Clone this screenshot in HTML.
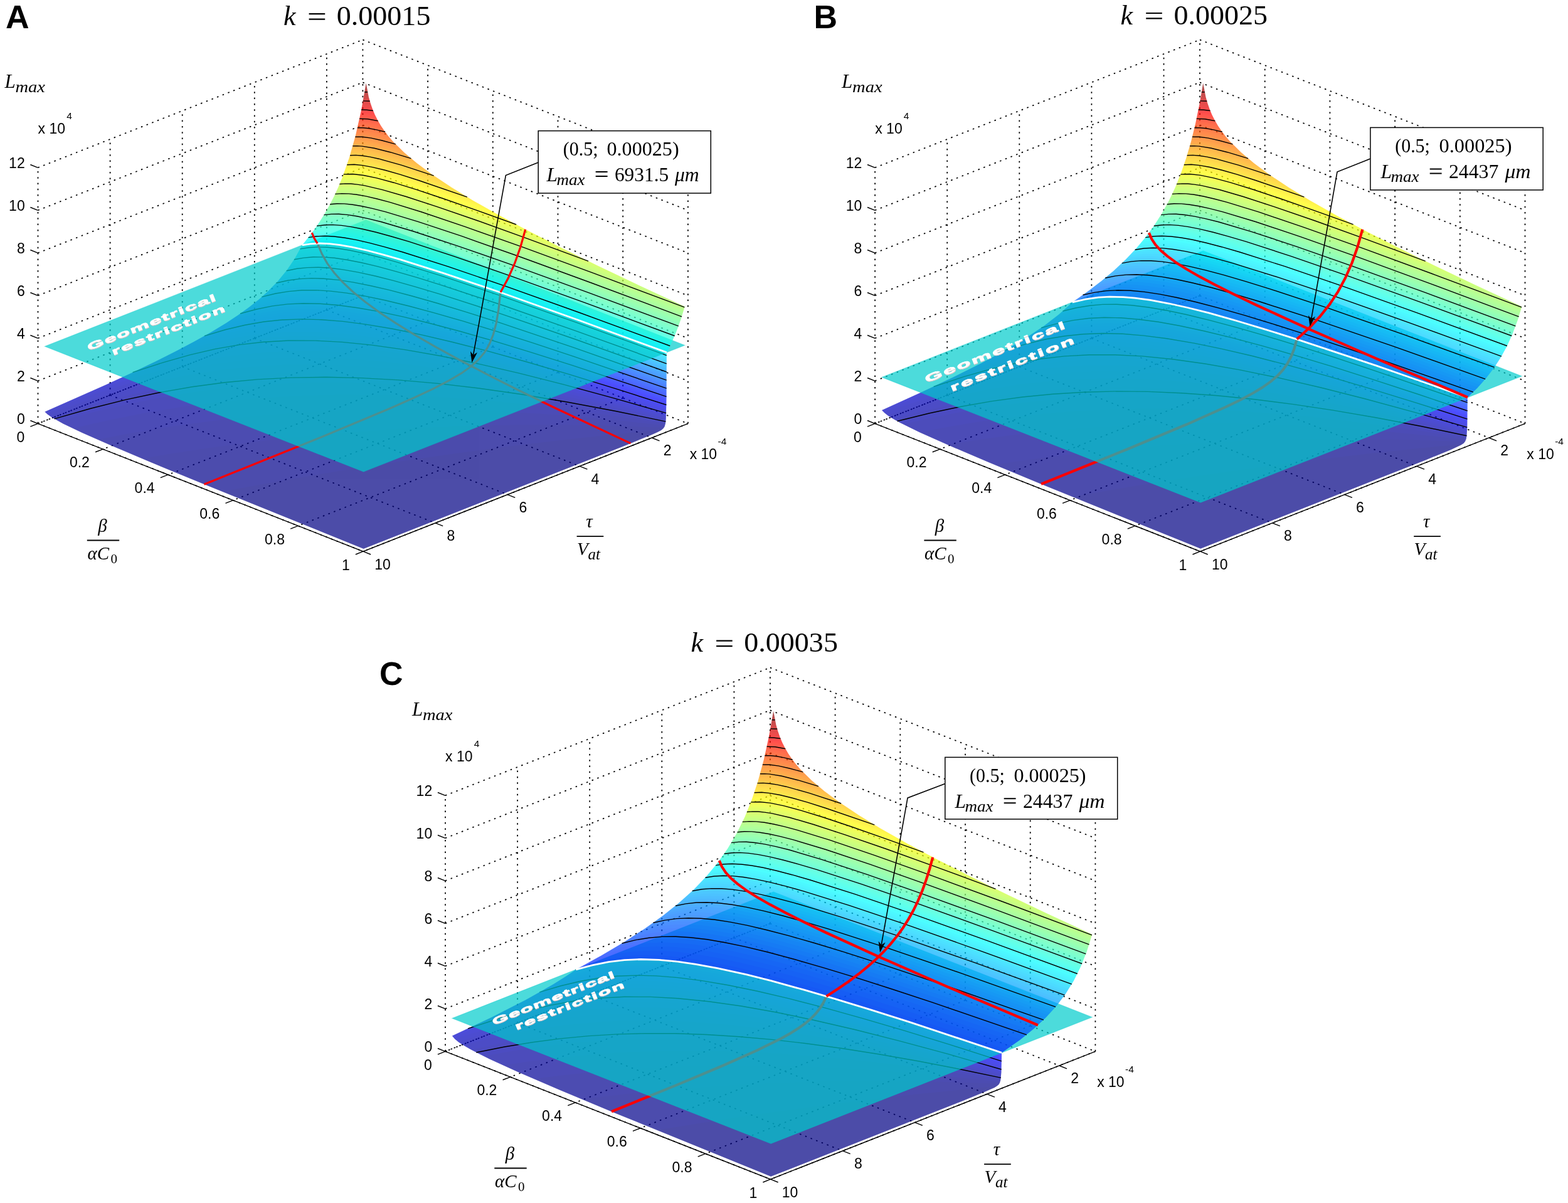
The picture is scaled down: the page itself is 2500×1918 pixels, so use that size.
<!DOCTYPE html>
<html><head><meta charset="utf-8"><style>html,body{margin:0;padding:0;background:#fff}svg{display:block}</style></head><body>
<svg width="2500" height="1918" viewBox="0 0 2500 1918">
<rect width="2500" height="1918" fill="#fff"/>
<g transform="translate(0.0 0.0)">
<path d="M60.5 675.3L578.4 471.4M578.4 471.4L1096.9 675.3M60.5 607.3L578.4 403.4M578.4 403.4L1096.9 607.3M60.5 539.3L578.4 335.4M578.4 335.4L1096.9 539.3M60.5 471.3L578.4 267.4M578.4 267.4L1096.9 471.3M60.5 403.3L578.4 199.4M578.4 199.4L1096.9 403.3M60.5 335.3L578.4 131.4M578.4 131.4L1096.9 335.3M60.5 267.3L578.4 63.4M578.4 63.4L1096.9 267.3M520.9 494.1L520.9 86.1M520.9 494.1L1039.4 698.0M405.8 539.4L405.8 131.4M405.8 539.4L924.3 743.3M290.7 584.7L290.7 176.7M290.7 584.7L809.2 788.6M175.6 630.0L175.6 222.0M175.6 630.0L694.1 833.9M60.5 675.3L60.5 267.3M60.5 675.3L579.0 879.2M578.4 471.4L578.4 63.4M578.4 471.4L60.5 675.3M682.1 512.2L682.1 104.2M682.1 512.2L164.2 716.1M785.8 553.0L785.8 145.0M785.8 553.0L267.9 756.9M889.5 593.8L889.5 185.8M889.5 593.8L371.6 797.6M993.2 634.6L993.2 226.6M993.2 634.6L475.3 838.4M1096.9 675.3L1096.9 267.3M1096.9 675.3L579.0 879.2" fill="none" stroke="#000" stroke-width="1.75" stroke-dasharray="2.5 6.8"/>
<clipPath id="cbA"><path d="M1061.8 561.5l1.1 .4 -.3 72.4 -.8 34 -.8 7 -1.3 4.6 -2 3.1 -3.5 2.9 -5.7 3.1 -9.5 4.3 -41.7 16.9 -417.7 164.7 -251.3 -101.6 -86.8 -35.7 -65 -27.5 -45 -19.8 -31 -14.8 -18.9 -10.7 -6 -4.3 -4.2 -4.1 98.4 -43.5 41.2 -19 37 -17.7 32.8 -16.4 29.8 -15.7 26 -14.7 23.6 -14.2 19.2 -12.7 17.4 -12.5 15.9 -12.6 13.9 -12.4 16.4 -16.7 14.5 -17.7 12.2 -18.1 11.9 -21.6 13.1 -2 14.4 -.8 16 .6 14.9 1.6 17.8 3 12.3 2.6 28.4 6.9 50.2 14.3 71.1 22.6 90.6 30.9 112.2 40 138.1 50.6z"/></clipPath>
<g opacity="0.70" clip-path="url(#cbA)">
<path d="M584.8 125.4l4.2 22.4 6.1 19.6 8.2 17.9 10.9 17.4 14 17.4 17.2 17.3 20.8 17.7 24.7 18.4 30.3 20.3 35.7 21.8 40.7 23.2 46.5 25 53.3 27.3 59.1 29.1 66.2 31.7 74.1 34.5 -6.3 21.5 -7.1 20 -7.8 18.3 -8.7 17.1 -.4 110.4 -.8 8.7 -.9 2.2 -1.6 1.6 -8.7 4.4 -29.7 12 -444.8 175.2 -258.5 -104.4 -88.5 -36.6 -65.2 -27.5 -44.8 -19.9 -29.5 -14.3 -17.7 -10.4 -5.4 -4.3 -3.7 -4.1 77.3 -34.2 65.9 -30.4 55.3 -27.1 46.2 -24.5 37.9 -22.3 32.9 -21.9 14.4 -10.8 13.3 -10.9 11.7 -10.5 11 -11 11.2 -12.4 10.3 -13.1 11.3 -16.9 10.2 -18.1 15.4 -18.7 14.2 -19.9 16 -26.6 14.2 -28.6 7.8 -18.6 7.1 -19.4 6.6 -20.6 6.3 -22.2 5.7 -23.4 5.2 -24.7 9.4 -54.6z" fill="#000083"/>
<path d="M584.8 125.4l4.2 22.4 6.1 19.6 8.2 17.9 10.9 17.4 14 17.4 17.2 17.3 20.8 17.7 24.7 18.4 30.3 20.3 35.7 21.8 40.7 23.2 46.5 25 53.3 27.3 59.1 29.1 66.2 31.7 74.1 34.5 -6.3 21.5 -7.1 20 -7.8 18.3 -8.7 17.1 -.3 104.1 -.4 12.2 -1.4 5 -88.6 8.5 -89 9.6 -89.5 10.9 -88.9 11.9 -89.8 13.1 -89.3 14.2 -90 15.4 -90.1 16.6 -128.9 -53.1 -82.5 -35.4 -26.8 -12.3 -19.8 -9.9 -13.4 -7.8 -8.4 -6.4 -3.1 -3.6 82.5 -36.5 68.8 -31.9 57.4 -28.6 47.2 -25.6 34.9 -21.1 29.8 -20.5 25.4 -20.3 10.5 -9.7 10.6 -10.6 11 -12.4 10.3 -13.2 11.3 -17 9.2 -16.7 15.8 -19.2 14 -19.7 16.1 -26.8 14.1 -28.7 7.7 -18.4 7.1 -19.4 6.7 -20.6 6.1 -21.9 5.7 -23.3 5.2 -24.7 9.4 -54.6z" fill="#00008a"/>
<path d="M584.8 125.4l4.2 22.4 6.1 19.6 8.2 17.9 10.9 17.4 14 17.4 17.2 17.3 20.8 17.7 24.7 18.4 30.3 20.3 35.7 21.8 40.7 23.2 46.5 25 53.3 27.3 59.1 29.1 66.2 31.7 74.1 34.5 -6.3 21.5 -7.1 20 -7.8 18.3 -8.7 17.1 -.2 100.1 -.9 18.4 -111.9 -3.7 -109 -.8 -53.4 .6 -52.6 1.3 -52.4 2 -53.2 2.8 -52.1 3.5 -51.1 4.1 -53 5 -51 5.6 -50.3 6.2 -51.7 7.2 -51.7 7.9 -51 8.5 -65.8 -28 -44.2 -20 -27.1 -14 -8.6 -5.4 -5.9 -4.7 -3.1 -3.6 82.5 -36.5 68.8 -31.9 57.4 -28.6 47.2 -25.6 34.9 -21.1 29.8 -20.5 25.4 -20.3 10.5 -9.7 10.6 -10.6 11 -12.4 10.3 -13.2 11.3 -17 9.2 -16.7 15.8 -19.2 14 -19.7 16.1 -26.8 14.1 -28.7 7.7 -18.4 7.1 -19.4 6.7 -20.6 6.1 -21.9 5.7 -23.3 5.2 -24.7 9.4 -54.6z" fill="#000091"/>
<path d="M584.8 125.4l4.2 22.4 6.1 19.6 8.2 17.9 10.9 17.4 14 17.4 17.2 17.3 20.8 17.7 24.7 18.4 30.3 20.3 35.7 21.8 40.7 23.2 46.5 25 53.3 27.3 59.1 29.1 66.2 31.7 74.1 34.5 -6.3 21.5 -7.1 20 -7.8 18.3 -8.7 17.1 -.2 100.1 -.5 15.9 -65.9 -7.5 -64 -6.2 -62 -5 -61 -3.9 -59 -2.6 -58 -1.5 -57 -.4 -55.5 .8 -54.8 1.9 -55.6 3.1 -53.6 4.2 -53.8 5.5 -53.7 6.7 -53 7.7 -54.4 9.2 -54.4 10.5 -32.4 -14.7 -23.2 -11.3 -15.6 -8.7 -9.5 -7.2 -3.1 -3.6 82.5 -36.5 68.8 -31.9 57.4 -28.6 47.2 -25.6 34.9 -21.1 29.8 -20.5 25.4 -20.3 10.5 -9.7 10.6 -10.6 11 -12.4 10.3 -13.2 11.3 -17 9.2 -16.7 15.8 -19.2 14 -19.7 16.1 -26.8 14.1 -28.7 7.7 -18.4 7.1 -19.4 6.7 -20.6 6.1 -21.9 5.7 -23.3 5.2 -24.7 9.4 -54.6z" fill="#000098"/>
<path d="M584.8 125.4l4.2 22.4 6.1 19.6 8.2 17.9 10.9 17.4 14 17.4 17.2 17.3 20.8 17.7 24.7 18.4 30.3 20.3 35.7 21.8 40.7 23.2 46.5 25 53.3 27.3 59.1 29.1 66.2 31.7 74.1 34.5 -6.3 21.5 -7.1 20 -7.8 18.3 -8.7 17.1 -.5 113.5 -64.6 -10.4 -62.1 -9.1 -61.3 -8 -58.1 -6.5 -56.1 -5.2 -56.2 -4.1 -53.5 -2.7 -53.1 -1.6 -64.6 -.1 -61.9 1.9 -60.8 3.7 -60.3 5.8 -59.6 7.6 -59.6 9.7 -60.6 11.9 -62.7 14.3 -27 -14 -8.6 -5.4 -5.9 -4.7 -3.1 -3.6 82.5 -36.5 68.8 -31.9 57.4 -28.6 47.2 -25.6 34.9 -21.1 29.8 -20.5 25.4 -20.3 10.5 -9.7 10.6 -10.6 11 -12.4 10.3 -13.2 11.3 -17 9.2 -16.7 15.8 -19.2 14 -19.7 16.1 -26.8 14.1 -28.7 7.7 -18.4 7.1 -19.4 6.7 -20.6 6.1 -21.9 5.7 -23.3 5.2 -24.7 9.4 -54.6z" fill="#00009f"/>
<path d="M584.8 125.4l4.2 22.4 6.1 19.6 8.2 17.9 10.9 17.4 14 17.4 17.2 17.3 20.8 17.7 24.7 18.4 30.3 20.3 35.7 21.8 40.7 23.2 46.5 25 53.3 27.3 59.1 29.1 66.2 31.7 74.1 34.5 -6.3 21.5 -7.1 20 -7.8 18.3 -8.7 17.1 -.4 111.1 -74.7 -14.5 -72 -12.8 -69 -10.9 -65.5 -8.9 -60.7 -6.8 -60.5 -5.3 -58.1 -3.5 -55.6 -1.7 -59.1 .2 -57.9 2.3 -56.5 4.4 -55.7 6.5 -55.5 8.7 -56.7 11.1 -57.8 13.4 -61.6 16.4 -12 -7.1 -7.8 -6 -3.1 -3.6 82.5 -36.5 68.8 -31.9 57.4 -28.6 47.2 -25.6 34.9 -21.1 29.8 -20.5 25.4 -20.3 10.5 -9.7 10.6 -10.6 11 -12.4 10.3 -13.2 11.3 -17 9.2 -16.7 15.8 -19.2 14 -19.7 16.1 -26.8 14.1 -28.7 7.7 -18.4 7.1 -19.4 6.7 -20.6 6.1 -21.9 5.7 -23.3 5.2 -24.7 9.4 -54.6z" fill="#0000a7"/>
<path d="M584.8 125.4l4.2 22.4 6.1 19.6 8.2 17.9 10.9 17.4 14 17.4 17.2 17.3 20.8 17.7 24.7 18.4 30.3 20.3 35.7 21.8 40.7 23.2 46.5 25 53.3 27.3 59.1 29.1 66.2 31.7 74.1 34.5 -6.3 21.5 -7.1 20 -7.8 18.3 -8.7 17.1 -.4 108.7 -82 -18 -77 -15.5 -73.3 -13.2 -69 -10.7 -64.3 -8.3 -63.3 -6.3 -59.3 -4 -55.8 -1.7 -51.4 .3 -49.6 2.1 -48.7 4.1 -48.2 6 -57.5 9.8 -60.2 13 -62.3 16.3 -67 20.1 -7.8 -6.1 -3.1 -3.6 82.5 -36.5 68.8 -31.9 57.4 -28.6 47.2 -25.6 34.9 -21.1 29.8 -20.5 25.4 -20.3 10.5 -9.7 10.6 -10.6 11 -12.4 10.3 -13.2 11.3 -17 9.2 -16.7 15.8 -19.2 14 -19.7 16.1 -26.8 14.1 -28.7 7.7 -18.4 7.1 -19.4 6.7 -20.6 6.1 -21.9 5.7 -23.3 5.2 -24.7 9.4 -54.6z" fill="#0000ae"/>
<path d="M584.8 125.4l4.2 22.4 6.1 19.6 8.2 17.9 10.9 17.4 14 17.4 17.2 17.3 20.8 17.7 24.7 18.4 30.3 20.3 35.7 21.8 40.7 23.2 46.5 25 53.3 27.3 59.1 29.1 66.2 31.7 74.1 34.5 -6.3 21.5 -7.1 20 -7.8 18.3 -8.7 17.1 -.3 106.3 -88.4 -21.1 -82.2 -18 -75.6 -14.9 -70.7 -12.1 -68 -9.7 -61.6 -6.7 -59.1 -4.3 -56.4 -1.8 -52.9 .7 -50.4 3 -49.9 5.3 -49.9 7.9 -48.5 9.9 -49.8 12.3 -62.4 18.1 -69.8 22.8 -1.2 -1.1 -3.1 -3.6 82.5 -36.5 68.8 -31.9 57.4 -28.6 47.2 -25.6 34.9 -21.1 29.8 -20.5 25.4 -20.3 10.5 -9.7 10.6 -10.6 11 -12.4 10.3 -13.2 11.3 -17 9.2 -16.7 15.8 -19.2 14 -19.7 16.1 -26.8 14.1 -28.7 7.7 -18.4 7.1 -19.4 6.7 -20.6 6.1 -21.9 5.7 -23.3 5.2 -24.7 9.4 -54.6z" fill="#0000b5"/>
<path d="M584.8 125.4l4.2 22.4 6.1 19.6 8.2 17.9 10.9 17.4 14 17.4 17.2 17.3 20.8 17.7 24.7 18.4 30.3 20.3 35.7 21.8 40.7 23.2 46.5 25 53.3 27.3 59.1 29.1 66.2 31.7 74.1 34.5 -6.3 21.5 -7.1 20 -7.8 18.3 -8.7 17.1 -.3 103.9 -91.2 -23.2 -83.7 -19.6 -78.5 -16.7 -71.4 -13.3 -67.1 -10.4 -62.3 -7.6 -59.4 -4.8 -56.3 -1.9 -51.4 .7 -49.1 3.4 -48.6 5.9 -49.3 8.7 -50.2 11.5 -53.3 14.7 -59.8 19 -67.6 23.6 -.7 -.9 85.3 -37.8 70.1 -32.6 49.2 -24.4 42.3 -22.6 37.8 -22.4 31.8 -21.3 14.4 -10.9 12.5 -10.2 11.5 -10.4 11 -11 11.2 -12.4 10.3 -13.1 11.3 -16.9 10.2 -18.1 15.4 -18.7 14.2 -19.9 16 -26.6 14.2 -28.6 7.8 -18.6 7.1 -19.4 6.6 -20.6 6.3 -22.2 5.7 -23.4 5.2 -24.7 9.4 -54.6z" fill="#0000bc"/>
<path d="M584.8 125.4l4.2 22.4 6.1 19.6 8.2 17.9 10.9 17.4 14 17.4 17.2 17.3 20.8 17.7 24.7 18.4 30.3 20.3 35.7 21.8 40.7 23.2 46.5 25 53.3 27.3 59.1 29.1 66.2 31.7 74.1 34.5 -6.3 21.5 -7.1 20 -7.8 18.3 -8.7 17.1 -.3 101.5 -90.8 -24.2 -83.4 -20.8 -76 -17.3 -71.9 -14.5 -65.8 -11.3 -60.2 -8.3 -57.3 -5.6 -52.1 -2.7 -48.8 -.1 -46.1 2.4 -46.1 5 -46.1 7.7 -46.3 10.3 -49.7 13.6 -55 17.3 -64.4 22.5 69.3 -31.2 58.5 -27.7 49.2 -24.8 42.1 -23.1 34.9 -21.4 30.2 -21.1 12.9 -10.1 12.4 -10.6 11.2 -10.7 10 -10.4 9.1 -10.6 8.7 -11.3 11.3 -16.9 9.2 -16.7 16.4 -20.1 14.7 -20.9 15.8 -26.6 13.9 -28.5 7.6 -18.3 7 -19.3 6.5 -20.4 6.1 -22 5.5 -22.9 5.1 -24.1 9.3 -54.2z" fill="#0000c3"/>
<path d="M584.8 125.4l4.2 22.4 6.1 19.6 8.2 17.9 10.9 17.4 14 17.4 17.2 17.3 20.8 17.7 24.7 18.4 30.3 20.3 35.7 21.8 40.7 23.2 46.5 25 53.3 27.3 59.1 29.1 66.2 31.7 74.1 34.5 -6.3 21.5 -7.1 20 -7.8 18.3 -8.7 17.1 -.2 99.1 -89.3 -24.8 -82.1 -21.4 -74.5 -17.9 -69.6 -15.1 -63.7 -12 -58.4 -9.1 -54.7 -6.5 -51.1 -3.7 -45.9 -1 -43.7 1.4 -43.1 3.8 -42.8 6.4 -43.4 9.1 -45.4 11.9 -50.2 15.5 -57.5 19.8 59.5 -27.5 51.3 -25.1 43.1 -22.7 37 -21.3 30.8 -19.9 26.6 -19.6 22.6 -19.6 10.3 -10.2 9.4 -10.4 10 -12.4 8.3 -11.6 8.2 -13.1 7.2 -13.2 17.4 -21.4 15.3 -21.9 15.5 -26.7 13.7 -28.5 7.4 -18.3 6.7 -18.8 6.4 -20.3 5.9 -21.4 5.5 -23 5.2 -24.8 8.9 -52.2z" fill="#0000ca"/>
<path d="M584.8 125.4l4.2 22.4 6.1 19.6 8.2 17.9 10.9 17.4 14 17.4 17.2 17.3 20.8 17.7 24.7 18.4 30.3 20.3 35.7 21.8 40.7 23.2 46.5 25 53.3 27.3 59.1 29.1 66.2 31.7 74.1 34.5 -6.3 21.5 -7.1 20 -7.8 18.3 -8.7 17.1 -.2 96.8 -87.9 -25.3 -81 -21.9 -74.1 -18.7 -68.8 -15.7 -62.2 -12.6 -55.8 -9.6 -52.7 -7 -48.3 -4.4 -43.5 -1.8 -42.5 .5 -40.9 2.9 -40 5.3 -39.9 7.8 -42 10.5 -46 13.9 -53.2 18.1 51.6 -24.7 45.2 -22.9 38.1 -20.9 32.8 -19.8 27.9 -18.9 24.3 -18.9 21.2 -19.6 17.8 -19.8 8.3 -10.7 7.3 -10.8 13.2 -22.9 18.3 -22.6 15.9 -23.1 15.2 -26.5 13.5 -28.7 7.1 -17.9 6.7 -18.8 6.2 -20.1 5.7 -20.9 10.4 -46.5 8.9 -52.2z" fill="#0000d1"/>
<path d="M584.8 125.4l4.2 22.4 6.1 19.6 8.2 17.9 10.9 17.4 14 17.4 17.2 17.3 20.8 17.7 24.7 18.4 30.3 20.3 35.7 21.8 40.7 23.2 46.5 25 53.3 27.3 59.1 29.1 66.2 31.7 74.1 34.5 -6.3 21.5 -7.1 20 -7.8 18.3 -8.7 17.1 -.2 94.4 -86.7 -25.6 -79.2 -22.1 -72.4 -19 -67.5 -16.3 -60.8 -13.1 -55.2 -10.2 -52.3 -7.8 -47.2 -5 -42 -2.5 -41 -.2 -38.3 2.2 -37.6 4.4 -37.1 6.8 -39.2 9.4 -42.6 12.5 -49.3 16.5 45.8 -22.6 40 -21 33.9 -19.4 29.8 -18.8 25.7 -18.4 21.8 -18 19.2 -18.8 16.3 -19.2 13.5 -19.3 11.3 -20 19.1 -23.7 16.5 -24.3 15 -26.5 13.1 -28.3 7 -17.8 6.6 -18.8 6 -19.6 5.7 -21.2 10 -44.9 8.9 -52.2z" fill="#0000d8"/>
<path d="M584.8 125.4l4.2 22.4 6.1 19.6 8.2 17.9 10.9 17.4 14 17.4 17.2 17.3 20.8 17.7 24.7 18.4 30.3 20.3 35.7 21.8 40.7 23.2 46.5 25 53.3 27.3 59.1 29.1 66.2 31.7 74.1 34.5 -6.3 21.5 -7.1 20 -7.8 18.3 -8.7 17.1 -.2 92 -85.4 -25.7 -78.7 -22.7 -71.9 -19.4 -65.5 -16.4 -59.5 -13.5 -54.9 -10.9 -51.3 -8.3 -44.7 -5.4 -41.5 -3.1 -38.7 -.8 -36.9 1.4 -35.8 3.7 -35.5 6 -36.7 8.5 -39.8 11.3 -45.8 15.1 40.6 -20.6 35.9 -19.6 30.8 -18.4 26.7 -17.7 22.6 -16.9 20.5 -17.8 17.4 -17.9 15.4 -18.9 11.4 -17 10.2 -18.1 19.5 -24.2 16.9 -25 14.8 -26.6 13.1 -28.5 6.9 -17.7 6.5 -18.8 6 -19.6 5.6 -20.8 10.1 -45.8 8.5 -50.3z" fill="#0000e0"/>
<path d="M584.8 125.4l4.2 22.4 6.1 19.6 8.2 17.9 10.9 17.4 14 17.4 17.2 17.3 20.8 17.7 24.7 18.4 30.3 20.3 35.7 21.8 40.7 23.2 46.5 25 53.3 27.3 59.1 29.1 66.2 31.7 74.1 34.5 -6.3 21.5 -7.1 20 -7.8 18.3 -8.7 17.1 -.2 89.6 -85.3 -26.2 -78.1 -23 -71.6 -19.9 -65.2 -16.8 -60 -14.1 -52.9 -10.9 -48.9 -8.5 -45.1 -6 -39.8 -3.4 -36.7 -1.2 -35.4 .9 -33.7 3.1 -33.7 5.3 -34.2 7.6 -37.2 10.4 -42.7 13.9 36.9 -19.5 31.9 -18.1 27.7 -17.2 24.6 -17.2 20.5 -16.1 18.8 -17.1 16.1 -17.4 14.4 -18.5 9.3 -14.3 9.2 -16.5 19.5 -24.2 17.4 -25.9 15 -27 13.1 -28.7 6.7 -17.6 6.3 -18.3 11.4 -40 10 -45.3 8.5 -50.3z" fill="#0000e7"/>
<path d="M584.8 125.4l4.2 22.4 6.1 19.6 8.2 17.9 10.9 17.4 14 17.4 17.2 17.3 20.8 17.7 24.7 18.4 30.3 20.3 35.7 21.8 40.7 23.2 46.5 25 53.3 27.3 59.1 29.1 66.2 31.7 74.1 34.5 -6.3 21.5 -7.1 20 -7.8 18.3 -8.7 17.1 -.2 87.2 -84.5 -26.4 -76.5 -22.9 -70.9 -20.2 -63.7 -17 -59.1 -14.4 -51 -11.1 -49.9 -9.3 -43 -6.3 -38.8 -3.9 -36.7 -1.8 -34.6 .4 -32.6 2.5 -31.8 4.6 -33.1 7 -35.2 9.6 -39.9 12.9 41.4 -22.8 35.3 -21.7 30.1 -21.2 24.9 -20.6 17.9 -17.7 15.8 -18.7 13.5 -19.3 11.3 -20 14.4 -17.4 13.3 -18.4 14.4 -23 12.7 -24.1 11.5 -26.2 10.2 -28.1 9.3 -30.6 8.1 -33.1 7.3 -35.9 6.7 -40.5z" fill="#0000ee"/>
<path d="M584.8 125.4l4.2 22.4 6.1 19.6 8.2 17.9 10.9 17.4 14 17.4 17.2 17.3 20.8 17.7 24.7 18.4 30.3 20.3 35.7 21.8 40.7 23.2 46.5 25 53.3 27.3 59.1 29.1 66.2 31.7 74.1 34.5 -6.3 21.5 -7.1 20 -7.8 18.3 -8.7 17.1 -.2 84.8 -84.2 -26.7 -77.4 -23.6 -69.5 -20.1 -63.6 -17.4 -57.3 -14.4 -51.7 -11.7 -47.6 -9.2 -42.9 -6.7 -37.3 -4.2 -35.6 -2.2 -33.1 0 -31.5 2 -31 4.2 -31.2 6.4 -33.2 8.8 -37.5 11.9 38 -21.7 31.8 -20.4 27.3 -20.1 23 -19.9 15.4 -15.7 14.4 -17.4 12.4 -18 11.2 -19.8 16.4 -20.1 14.7 -20.9 13.5 -22.3 12.2 -23.9 10.9 -25.6 9.9 -27.6 8.8 -29.8 7.9 -32.4 7.3 -36.1 6.3 -38.6z" fill="#0000f5"/>
<path d="M584.8 125.4l4.2 22.4 6.1 19.6 8.2 17.9 10.9 17.4 14 17.4 17.2 17.3 20.8 17.7 24.7 18.4 30.3 20.3 35.7 21.8 40.7 23.2 46.5 25 53.3 27.3 59.1 29.1 66.2 31.7 74.1 34.5 -6.3 21.5 -7.1 20 -7.8 18.3 -8.7 17.1 -.1 82.5 -83.5 -26.9 -76.9 -23.7 -69.6 -20.6 -62.9 -17.5 -58.4 -15.1 -49.6 -11.6 -45.1 -9.2 -44 -7.3 -36.8 -4.5 -33.5 -2.4 -32.3 -.4 -30.7 1.6 -29.2 3.6 -30.3 5.9 -31.3 8.1 -35.8 11.2 33.8 -20 29.4 -19.6 24.7 -18.9 21.8 -19.6 14.2 -15.1 13.2 -16.5 11.4 -17 10.2 -18.1 18.3 -22.6 15.9 -23.1 12.9 -22.1 11.7 -23.7 10.3 -24.9 9.5 -27.2 8.5 -29 7.6 -31.9 6.9 -34.5 6.3 -38.3z" fill="#0000fc"/>
<path d="M584.8 125.4l4.2 22.4 6.1 19.6 8.2 17.9 10.9 17.4 14 17.4 17.2 17.3 20.8 17.7 24.7 18.4 30.3 20.3 35.7 21.8 40.7 23.2 46.5 25 53.3 27.3 59.1 29.1 66.2 31.7 74.1 34.5 -6.3 21.5 -7.1 20 -7.8 18.3 -8.7 17.1 -.1 80.1 -83.6 -27.1 -75.7 -23.8 -68.3 -20.5 -62.5 -17.8 -55.9 -14.8 -51 -12.3 -46.1 -9.8 -41.6 -7.3 -37.2 -4.9 -33.6 -2.8 -30.7 -.7 -29.6 1.2 -28.5 3.3 -28.4 5.3 -30 7.5 -34 10.5 31.6 -19.5 26.2 -18.2 23 -18.4 19.5 -18.3 13.4 -14.7 11.3 -14.4 11.3 -17 9.2 -16.7 19.5 -24.2 17.4 -25.9 12.4 -21.9 11.1 -23.2 10 -24.7 9.1 -26.6 8.2 -28.6 7.4 -31.2 6.8 -34.4 6 -36.6z" fill="#0004ff"/>
<path d="M584.8 125.4l4.2 22.4 6.1 19.6 8.2 17.9 10.9 17.4 14 17.4 17.2 17.3 20.8 17.7 24.7 18.4 30.3 20.3 35.7 21.8 40.7 23.2 46.5 25 53.3 27.3 59.1 29.1 66.2 31.7 74.1 34.5 -6.3 21.5 -7.1 20 -7.8 18.3 -8.7 17.1 -.1 77.7 -83.2 -27.3 -75.4 -23.9 -68.3 -20.8 -61.8 -17.9 -56.7 -15.4 -49.8 -12.3 -46.2 -10 -40.1 -7.4 -35.5 -5 -33.2 -3.1 -29.8 -1 -28.4 .8 -27.7 2.9 -27.4 4.8 -29 7.1 -32.5 9.9 28.1 -18 24.6 -17.7 20.8 -17.2 18.5 -18 11.5 -13.1 10.8 -13.9 10.3 -15.6 9.2 -16.7 10.6 -12.6 10.2 -13.4 9.6 -13.8 8.9 -14.2 11.8 -21.5 10.8 -23 9.7 -24.4 8.7 -26.1 8 -28.3 7.1 -30.5 6.5 -32.9 6 -36.6z" fill="#000bff"/>
<path d="M584.8 125.4l4.2 22.4 6.1 19.6 8.2 17.9 10.9 17.4 14 17.4 17.2 17.3 20.8 17.7 24.7 18.4 30.3 20.3 35.7 21.8 40.7 23.2 46.5 25 53.3 27.3 59.1 29.1 66.2 31.7 74.1 34.5 -6.3 21.5 -7.1 20 -7.8 18.3 -8.7 17.1 -.1 75.3 -82.4 -27.2 -74.9 -24.1 -67.8 -20.9 -61.7 -18.2 -56 -15.4 -51.3 -13 -44 -9.9 -39.7 -7.6 -35.2 -5.3 -31.8 -3.3 -30.1 -1.3 -27.8 .6 -26.3 2.4 -26.7 4.5 -27.6 6.6 -31.1 9.4 25.7 -17.1 22.6 -16.9 19.5 -16.9 17.1 -17.3 10.3 -12 9.5 -12.7 9.3 -14.3 9.2 -16.5 11.4 -13.7 11 -14.6 9.5 -13.8 9.5 -15.6 11.5 -21.3 10.3 -22.5 9.3 -24 8.6 -26 7.8 -28.1 7 -30.4 6.4 -32.7 5.6 -34.6z" fill="#0012ff"/>
<path d="M584.8 125.4l4.2 22.4 6.1 19.6 8.2 17.9 10.9 17.4 14 17.4 17.2 17.3 20.8 17.7 24.7 18.4 30.3 20.3 35.7 21.8 40.7 23.2 46.5 25 53.3 27.3 59.1 29.1 66.2 31.7 74.1 34.5 -6.3 21.5 -7.1 20 -7.8 18.3 -8.7 17.1 -.1 72.9 -81.1 -27.1 -75.5 -24.4 -68.2 -21.3 -61.2 -18.2 -54.9 -15.5 -50.7 -13.1 -45 -10.4 -38.3 -7.5 -34.4 -5.5 -31.5 -3.5 -28.6 -1.6 -27.8 .3 -25.5 2.2 -26.1 4.2 -26.4 6.2 -29.6 8.7 24.3 -16.8 20.5 -16.1 18.5 -16.6 15.4 -16.3 10.1 -12.4 8.5 -11.7 8.1 -12.8 8.2 -14.8 13.3 -16.1 12.3 -16.7 9.3 -14.1 8.9 -15 10.9 -21 10 -22.2 9 -23.7 8.2 -25.3 7.4 -27.1 6.6 -28.8 6.4 -32.7 5.6 -34.6z" fill="#001aff"/>
<path d="M584.8 125.4l4.2 22.4 6.1 19.6 8.2 17.9 10.9 17.4 14 17.4 17.2 17.3 20.8 17.7 24.7 18.4 30.3 20.3 35.7 21.8 40.7 23.2 46.5 25 53.3 27.3 59.1 29.1 66.2 31.7 74.1 34.5 -6.3 21.5 -7.1 20 -7.8 18.3 -8.7 17.1 -.1 70.5 -156.2 -51.8 -67.6 -21.3 -60.4 -18.3 -54.8 -15.6 -49.3 -13 -44 -10.5 -39.4 -8.1 -34.5 -5.7 -30.7 -3.7 -28.6 -1.8 -26.7 .1 -25.3 1.9 -24.3 3.7 -25.8 5.9 -28.5 8.3 21.5 -15.4 19.2 -15.6 17 -15.8 14.7 -16 8.9 -11.1 8.4 -11.7 8 -12.9 7.2 -13.2 14.1 -17 12.6 -17.3 9.7 -14.9 9.4 -16.2 10.5 -20.7 9.6 -22 8.7 -23.3 7.9 -24.9 7.3 -26.9 6.5 -28.6 6 -30.9 5.6 -34.6z" fill="#0021ff"/>
<path d="M584.8 125.4l4.2 22.4 6.1 19.6 8.2 17.9 10.9 17.4 14 17.4 17.2 17.3 20.8 17.7 24.7 18.4 30.3 20.3 35.7 21.8 40.7 23.2 46.5 25 53.3 27.3 59.1 29.1 66.2 31.7 74.1 34.5 -6.3 21.5 -7.1 20 -7.8 18.3 -8.7 17.1 -.1 68.2 -156.4 -52.3 -67 -21.4 -60.5 -18.4 -54.7 -15.8 -49.2 -13.2 -42.9 -10.5 -38.8 -8.2 -33.5 -5.8 -30.8 -3.9 -27.6 -2 -26.2 -.1 -24.1 1.6 -24.4 3.5 -25 5.6 -27 7.8 19.9 -14.9 17.5 -14.7 15.4 -14.8 13.8 -15.6 8.7 -11.1 7.4 -10.6 7 -11.3 7.2 -13.2 14.4 -17.4 13.3 -18.4 10.3 -16 9.5 -16.7 10.1 -20.4 9.3 -21.8 8.5 -23 7.7 -24.8 7.1 -26.4 6.5 -28.8 5.9 -31.1 5.3 -32.5z" fill="#0028ff"/>
<path d="M584.8 125.4l4.2 22.4 6.1 19.6 8.2 17.9 10.9 17.4 14 17.4 17.2 17.3 20.8 17.7 24.7 18.4 30.3 20.3 35.7 21.8 40.7 23.2 46.5 25 53.3 27.3 59.1 29.1 66.2 31.7 74.1 34.5 -6.3 21.5 -7.1 20 -7.8 18.3 -8.7 17.1 -.1 65.8 -155.5 -52.4 -67 -21.5 -59.9 -18.5 -53.4 -15.6 -48.1 -13.2 -44.2 -11 -38.7 -8.4 -33.6 -6.1 -30.1 -4 -27.3 -2.2 -25.5 -.4 -23.7 1.4 -23.3 3.3 -24.1 5.1 -26.4 7.6 17.7 -13.8 16.5 -14.4 14.3 -14.3 13.1 -15 14.8 -20.6 13.2 -22.9 14.9 -18.1 13.9 -19.4 10.5 -16.5 9.8 -17.7 9.9 -20.3 9 -21.4 8.1 -22.6 7.6 -24.4 6.7 -25.5 6.3 -27.8 5.9 -31.1 5.3 -32.5z" fill="#002fff"/>
<path d="M584.8 125.4l4.2 22.4 6.1 19.6 8.2 17.9 10.9 17.4 14 17.4 17.2 17.3 20.8 17.7 24.7 18.4 30.3 20.3 35.7 21.8 40.7 23.2 46.5 25 53.3 27.3 59.1 29.1 66.2 31.7 74.1 34.5 -6.3 21.5 -7.1 20 -7.8 18.3 -8.7 17.1 -.1 63.4 -154.3 -52.2 -66.6 -21.7 -60.2 -18.7 -53.9 -16 -48 -13.3 -42.6 -10.8 -38.2 -8.6 -34.4 -6.4 -29.5 -4.2 -26.8 -2.3 -25 -.6 -23 1.2 -22.8 3 -23.3 4.9 -25.5 7.1 16.2 -13 15.4 -14 13.3 -13.7 12.1 -14.5 13.7 -19.3 12.2 -21.4 15.8 -19.2 14 -19.7 10.9 -17.6 10 -18.3 9.5 -19.9 8.7 -21 8 -22.7 7.3 -23.8 6.7 -25.8 6.2 -27.6 5.5 -29.2 5.3 -32.5z" fill="#0036ff"/>
<path d="M584.8 125.4l4.2 22.4 6.1 19.6 8.2 17.9 10.9 17.4 14 17.4 17.2 17.3 20.8 17.7 24.7 18.4 30.3 20.3 35.7 21.8 40.7 23.2 46.5 25 53.3 27.3 59.1 29.1 66.2 31.7 74.1 34.5 -6.3 21.5 -7.1 20 -7.8 18.3 -8.7 17.1 -.1 61 -154.2 -52.5 -67.4 -22 -59.6 -18.8 -53.3 -15.9 -47.1 -13.3 -41.9 -10.8 -40 -9.1 -31.8 -6.1 -30.3 -4.5 -26.4 -2.5 -23.9 -.7 -23 1.1 -22.1 2.7 -22.6 4.7 -24.4 6.7 15.2 -12.6 13.3 -12.6 12.4 -13 11.3 -13.7 13.3 -19.2 11.3 -20 15.8 -19.2 14.6 -20.6 11 -17.9 10.7 -19.9 9.2 -19.7 8.5 -20.8 7.8 -22.3 7.1 -23.6 6.6 -25.7 6.2 -27.7 5.5 -29.4 4.9 -30.5z" fill="#003dff"/>
<path d="M584.8 125.4l4.2 22.4 6.1 19.6 8.2 17.9 10.9 17.4 14 17.4 17.2 17.3 20.8 17.7 24.7 18.4 30.3 20.3 35.7 21.8 40.7 23.2 46.5 25 53.3 27.3 59.1 29.1 66.2 31.7 74.1 34.5 -6.3 21.5 -7.1 20 -7.8 18.3 -8.7 17.1 -.1 58.6 -152 -52 -126.3 -40.9 -53.2 -16.2 -48.2 -13.7 -42.7 -11.2 -37.2 -8.7 -32.7 -6.5 -30.4 -4.7 -26.4 -2.7 -23.5 -.8 -22.5 .8 -21.6 2.6 -21.9 4.3 -23.6 6.5 14.5 -12.7 12.3 -12 11.3 -12.5 10.3 -12.8 12.3 -18.2 10.3 -18.3 16.4 -20.1 14.7 -20.9 11.7 -19.1 10.6 -20 9 -19.6 8.2 -20.5 7.6 -22.2 7 -23.3 6.4 -25 5.9 -26.9 5.5 -29.2 4.9 -30.5z" fill="#0044ff"/>
<path d="M584.8 125.4l4.2 22.4 6.1 19.6 8.2 17.9 10.9 17.4 14 17.4 17.2 17.3 20.8 17.7 24.7 18.4 30.3 20.3 35.7 21.8 40.7 23.2 46.5 25 53.3 27.3 59.1 29.1 66.2 31.7 74.1 34.5 -6.3 21.5 -7.1 20 -7.8 18.3 -8.7 17.1 -.1 56.3 -152.9 -52.7 -125.6 -40.9 -52.6 -16.1 -47.7 -13.7 -42.2 -11.3 -37.7 -9 -32.6 -6.6 -28.3 -4.5 -26.8 -2.9 -23.2 -1 -21.6 .6 -21.2 2.3 -21.3 4.2 -23.2 6.2 12.3 -11.1 11.6 -11.6 10.4 -11.7 9.9 -12.6 11.3 -16.9 10.2 -18.1 16.6 -20.4 15.3 -21.7 11.9 -19.8 10.8 -20.7 8.7 -19.3 8 -20.4 7.4 -21.7 6.9 -23.3 6.4 -25.1 5.8 -26.9 5.2 -27.5 4.9 -30.5z" fill="#004bff"/>
<path d="M584.8 125.4l4.2 22.4 6.1 19.6 8.2 17.9 10.9 17.4 14 17.4 17.2 17.3 20.8 17.7 24.7 18.4 30.3 20.3 35.7 21.8 40.7 23.2 46.5 25 53.3 27.3 59.1 29.1 66.2 31.7 74.1 34.5 -6.3 21.5 -7.1 20 -7.8 18.3 -8.7 17.1 -.1 53.9 -153.6 -53.1 -124.7 -40.9 -52.9 -16.3 -47.1 -13.7 -40.9 -11.1 -38.4 -9.3 -32.9 -6.8 -28.4 -4.7 -24.5 -2.7 -23.3 -1.2 -21.2 .4 -21 2.2 -20.8 4 -22.2 5.9 11.7 -11 10.7 -11.2 9.5 -11.1 9.3 -12.1 10.3 -15.6 9.2 -16.7 17.4 -21.4 15.3 -21.9 12 -20.2 11.1 -21.5 8.5 -19.3 7.8 -20.2 7.3 -21.6 6.6 -22.7 6.1 -24.1 5.7 -26.4 5.2 -27.5 4.9 -30.5z" fill="#0053ff"/>
<path d="M584.8 125.4l4.2 22.4 6.1 19.6 8.2 17.9 10.9 17.4 14 17.4 17.2 17.3 20.8 17.7 24.7 18.4 30.3 20.3 35.7 21.8 40.7 23.2 46.5 25 53.3 27.3 59.1 29.1 66.2 31.7 74.1 34.5 -6.3 21.5 -7.1 20 -7.8 18.3 -8.7 17.1 -.1 51.5 -152.1 -52.8 -125.7 -41.5 -52.6 -16.3 -46.9 -13.8 -41.9 -11.5 -36.9 -9.1 -30.3 -6.4 -28.9 -5 -25.6 -3.1 -22.9 -1.4 -20.8 .4 -20.5 1.9 -20.4 3.8 -21.8 5.7 10.7 -10.5 9.5 -10.1 9 -10.8 8.4 -11.3 9.3 -14.3 9.2 -16.5 17.5 -21.5 15.9 -23 12.2 -20.7 11.2 -22 8.3 -19 7.7 -20.1 7.1 -21.4 6.5 -22.5 6 -23.8 5.4 -25.3 5.2 -27.5 4.9 -30.5z" fill="#005aff"/>
<path d="M584.8 125.4l4.2 22.4 6.1 19.6 8.2 17.9 10.9 17.4 14 17.4 17.2 17.3 20.8 17.7 24.7 18.4 30.3 20.3 35.7 21.8 40.7 23.2 46.5 25 53.3 27.3 59.1 29.1 66.2 31.7 74.1 34.5 -6.3 21.5 -7.1 20 -7.8 18.3 -8.7 17.1 -.1 49.1 -152.3 -53.1 -124.5 -41.3 -52.4 -16.4 -46.7 -13.9 -42.8 -11.8 -35.6 -8.9 -31.1 -6.8 -28.8 -5.1 -24.9 -3.1 -22.1 -1.4 -20.2 .1 -20.1 1.8 -19.9 3.5 -21.6 5.6 14.8 -15.4 13.3 -16.1 12.5 -18.1 11.2 -19.8 13.3 -16.1 12.4 -16.7 9.2 -14 7.9 -13.3 14.9 -29.1 8.2 -18.9 7.5 -20 7 -21.3 6.4 -22.3 6 -24 5.4 -25.5 5.1 -27.6 4.6 -28.5z" fill="#0061ff"/>
<path d="M584.8 125.4l4.2 22.4 6.1 19.6 8.2 17.9 10.9 17.4 14 17.4 17.2 17.3 20.8 17.7 24.7 18.4 30.3 20.3 35.7 21.8 40.7 23.2 46.5 25 53.3 27.3 59.1 29.1 66.2 31.7 74.1 34.5 -6.3 21.5 -7.1 20 -7.8 18.3 -8.7 17.1 -.1 46.7 -152.2 -53.2 -124.7 -41.6 -52.4 -16.5 -46.3 -13.9 -40.8 -11.4 -36.7 -9.3 -30.3 -6.8 -29.1 -5.3 -24.6 -3.2 -22.3 -1.5 -20.4 .1 -19.3 1.6 -19.3 3.4 -20.5 5.2 12.9 -13.8 12.2 -15.1 12.3 -18.2 10.3 -18.3 14.4 -17.4 13.3 -18.4 16.4 -26.6 14.5 -28.8 7.9 -18.6 7.4 -19.8 6.8 -20.7 6.4 -22.3 5.8 -23.7 5.3 -24.9 5.1 -27.6 4.6 -28.5z" fill="#0068ff"/>
<path d="M584.8 125.4l4.2 22.4 6.1 19.6 8.2 17.9 10.9 17.4 14 17.4 17.2 17.3 20.8 17.7 24.7 18.4 30.3 20.3 35.7 21.8 40.7 23.2 46.5 25 53.3 27.3 59.1 29.1 66.2 31.7 74.1 34.5 -6.3 21.5 -7.1 20 -7.8 18.3 -8.7 17.1 -.1 44.4 -151.9 -53.4 -124.9 -41.9 -52.3 -16.5 -46.8 -14.2 -41.2 -11.6 -35.9 -9.2 -31.8 -7.1 -26.6 -4.9 -24.6 -3.3 -21.7 -1.6 -19.9 0 -18.9 1.6 -18.9 3.2 -19.7 4.9 12.1 -13.4 10.3 -13.1 11.3 -16.9 10.2 -18.1 14.9 -18.1 13.9 -19.4 16.4 -26.8 14.3 -28.9 7.8 -18.5 7.3 -19.7 6.6 -20.6 6.2 -22.1 5.8 -23.3 5.3 -25.3 9.4 -54.6z" fill="#006fff"/>
<path d="M584.8 125.4l4.2 22.4 6.1 19.6 8.2 17.9 10.9 17.4 14 17.4 17.2 17.3 20.8 17.7 24.7 18.4 30.3 20.3 35.7 21.8 40.7 23.2 46.5 25 53.3 27.3 59.1 29.1 66.2 31.7 74.1 34.5 -6.3 21.5 -7.1 20 -7.8 18.3 -8.7 17.1 -.1 42 -152.7 -53.9 -123.3 -41.4 -52.5 -16.8 -45.9 -14 -40.6 -11.5 -36.1 -9.4 -30.9 -7.1 -27.8 -5.3 -23 -3.3 -22 -1.8 -19.7 -.1 -18.7 1.3 -18.9 3.1 -19.4 4.8 10.5 -12.1 9.3 -11.9 11.3 -17 9.2 -16.7 15.8 -19.2 14.6 -20.6 15.9 -26.6 14 -28.5 7.7 -18.5 7.1 -19.6 6.5 -20.4 6.1 -21.7 5.6 -22.9 5.2 -24.7 9.4 -54.6z" fill="#0076ff"/>
<path d="M584.8 125.4l4.2 22.4 6.1 19.6 8.2 17.9 10.9 17.4 14 17.4 17.2 17.3 20.8 17.7 24.7 18.4 30.3 20.3 35.7 21.8 40.7 23.2 46.5 25 53.3 27.3 59.1 29.1 66.2 31.7 74.1 34.5 -6.3 21.5 -7.1 20 -7.8 18.3 -8.7 17.1 -.1 39.6 -150.5 -53.2 -123 -41.6 -97.9 -30.9 -41 -11.8 -35.8 -9.5 -32.1 -7.5 -26.1 -5.1 -24.8 -3.7 -21.7 -1.9 -19.7 -.3 -18.4 1.3 -18.2 2.9 -19 4.6 9.3 -10.9 8.2 -10.8 10.3 -15.6 9.2 -16.7 16.6 -20.4 15.2 -21.6 15.5 -26.3 13.8 -28.4 7.5 -18.4 7 -19.4 6.5 -20.5 5.9 -21.4 5.5 -22.6 5.1 -24.1 9.3 -54.2z" fill="#007dff"/>
<path d="M584.8 125.4l4.2 22.4 6.1 19.6 8.2 17.9 10.9 17.4 14 17.4 17.2 17.3 20.8 17.7 24.7 18.4 30.3 20.3 35.7 21.8 40.7 23.2 46.5 25 53.3 27.3 59.1 29.1 66.2 31.7 74.1 34.5 -6.3 21.5 -7.1 20 -7.8 18.3 -8.7 17.1 -.1 37.2 -151.8 -53.8 -122.8 -41.7 -97.8 -31 -40.6 -11.8 -36 -9.6 -29.2 -6.9 -27.9 -5.6 -23.6 -3.6 -21.5 -1.9 -19.1 -.4 -18 1.1 -17.7 2.7 -19 4.6 9.2 -11.2 9.2 -12.9 8.2 -13.1 7.2 -13.2 17.4 -21.4 15.3 -21.9 15.4 -26.5 13.6 -28.4 7.4 -18.2 6.8 -19 6.3 -20.1 6 -21.6 10.4 -46 9.3 -54.2z" fill="#0084ff"/>
<path d="M584.8 125.4l4.2 22.4 6.1 19.6 8.2 17.9 10.9 17.4 14 17.4 17.2 17.3 20.8 17.7 24.7 18.4 30.3 20.3 35.7 21.8 40.7 23.2 46.5 25 53.3 27.3 59.1 29.1 66.2 31.7 74.1 34.5 -6.3 21.5 -7.1 20 -7.8 18.3 -8.7 17.1 -.1 34.8 -152.9 -54.3 -122.6 -41.8 -97.7 -31.1 -40.3 -11.8 -36.1 -9.6 -29.3 -7 -27.2 -5.5 -23.6 -3.6 -20.1 -1.9 -18.7 -.5 -17.8 1.1 -17.6 2.6 -18.1 4.3 8.2 -10.3 8.4 -12 7 -11.3 7.2 -13.2 17.5 -21.5 15.9 -23 15.4 -26.5 13.6 -28.7 7.3 -18.1 6.7 -19 6.2 -20 5.9 -21.3 10.5 -47 8.9 -52.2z" fill="#008cff"/>
<path d="M584.8 125.4l4.2 22.4 6.1 19.6 8.2 17.9 10.9 17.4 14 17.4 17.2 17.3 20.8 17.7 24.7 18.4 30.3 20.3 35.7 21.8 40.7 23.2 46.5 25 53.3 27.3 59.1 29.1 66.2 31.7 74.1 34.5 -6.3 21.5 -7.1 20 -7.8 18.3 -8.7 17.1 -.1 32.4 -151.5 -54 -122.2 -41.8 -96.6 -30.9 -40.7 -12 -35.6 -9.7 -29.5 -7.3 -28.3 -5.8 -23.4 -3.7 -20.2 -2.1 -18.9 -.5 -17.4 1 -17 2.5 -17.8 4.1 14.7 -20.4 13.2 -22.9 18.3 -22.6 15.9 -23.1 15.3 -26.8 13.5 -28.7 7.2 -18 6.6 -18.8 6.2 -20.1 5.7 -21 10.3 -46 8.9 -52.2z" fill="#0093ff"/>
<path d="M584.8 125.4l4.2 22.4 6.1 19.6 8.2 17.9 10.9 17.4 14 17.4 17.2 17.3 20.8 17.7 24.7 18.4 30.3 20.3 35.7 21.8 40.7 23.2 46.5 25 53.3 27.3 59.1 29.1 66.2 31.7 74.1 34.5 -6.3 21.5 -7.1 20 -7.8 18.3 -8.7 17.1 -.1 30.1 -150.7 -53.9 -122.5 -42.1 -97.3 -31.3 -39.9 -11.9 -35.1 -9.6 -31 -7.7 -25.5 -5.3 -24 -4 -20.1 -2.1 -18.7 -.7 -17.3 .9 -16.8 2.3 -17.5 4.1 13.9 -19.9 11.3 -20 18.5 -22.8 16.4 -24.1 15.3 -26.8 13.4 -28.9 7.1 -18 6.5 -18.6 6.1 -19.8 5.6 -20.8 10.1 -45.3 8.9 -52.2z" fill="#009aff"/>
<path d="M584.8 125.4l4.2 22.4 6.1 19.6 8.2 17.9 10.9 17.4 14 17.4 17.2 17.3 20.8 17.7 24.7 18.4 30.3 20.3 35.7 21.8 40.7 23.2 46.5 25 53.3 27.3 59.1 29.1 66.2 31.7 74.1 34.5 -6.3 21.5 -7.1 20 -7.8 18.3 -8.7 17.1 -.1 27.7 -150.5 -53.9 -122.1 -42.1 -96.8 -31.3 -40.3 -12.1 -35.3 -9.8 -28.3 -7.1 -27.3 -5.9 -23.3 -4 -20.3 -2.3 -18.9 -.7 -16.7 .7 -16.9 2.3 -17.1 3.9 12.3 -18.2 10.3 -18.3 19.1 -23.7 16.8 -24.8 15 -26.7 13.3 -28.8 6.9 -17.6 6.5 -18.8 5.9 -19.5 5.6 -20.8 10.3 -46.3 8.5 -50.3z" fill="#00a1ff"/>
<path d="M584.8 125.4l4.2 22.4 6.1 19.6 8.2 17.9 10.9 17.4 14 17.4 17.2 17.3 20.8 17.7 24.7 18.4 30.3 20.3 35.7 21.8 40.7 23.2 46.5 25 53.3 27.3 59.1 29.1 66.2 31.7 74.1 34.5 -6.3 21.5 -7.1 20 -7.8 18.3 -8.7 17.1 -.1 25.3 -151 -54.2 -122.4 -42.3 -95.8 -31.2 -40 -12 -35.2 -9.9 -29.1 -7.3 -26.1 -5.7 -22.3 -3.9 -20.8 -2.5 -18.4 -.8 -16.9 .6 -16.6 2.2 -16.8 3.7 11 -16.4 9.2 -16.7 19.5 -24.2 16.9 -25 15 -26.8 13.3 -29.1 6.8 -17.6 6.3 -18.5 11.5 -40.3 10.1 -45.5 8.5 -50.3z" fill="#00a8ff"/>
<path d="M584.8 125.4l4.2 22.4 6.1 19.6 8.2 17.9 10.9 17.4 14 17.4 17.2 17.3 20.8 17.7 24.7 18.4 30.3 20.3 35.7 21.8 40.7 23.2 46.5 25 53.3 27.3 59.1 29.1 66.2 31.7 74.1 34.5 -6.3 21.5 -7.1 20 -7.8 18.3 -8.7 17.1 -.1 22.9 -151.4 -54.5 -120.9 -41.9 -96.5 -31.5 -39.8 -12.1 -34.9 -9.8 -30 -7.7 -25.2 -5.5 -22.9 -4.1 -20.3 -2.4 -17.6 -.9 -16.7 .5 -16.4 2.1 -16.4 3.6 9.6 -14.9 8.2 -14.9 20 -24.9 17.1 -25.5 14.9 -26.9 13.1 -28.9 6.8 -17.5 6.3 -18.7 11.3 -39.8 9.9 -44.8 8.5 -50.3z" fill="#00afff"/>
<path d="M584.8 125.4l4.2 22.4 6.1 19.6 8.2 17.9 10.9 17.4 14 17.4 17.2 17.3 20.8 17.7 24.7 18.4 30.3 20.3 35.7 21.8 40.7 23.2 46.5 25 53.3 27.3 59.1 29.1 66.2 31.7 74.1 34.5 -6.3 21.5 -7.1 20 -7.8 18.3 -8.7 17.1 -.1 20.5 -151.7 -54.7 -120.2 -41.8 -96.2 -31.5 -39.7 -12.1 -34.7 -9.9 -30.9 -8 -24.1 -5.4 -22.8 -4.1 -19.8 -2.5 -17.8 -1 -16.6 .5 -16.1 2 -16.2 3.5 8.4 -13.4 7.2 -13.2 20 -24.9 8.8 -12.6 9 -14.1 14.7 -26.8 13 -28.8 6.8 -17.6 6.2 -18.4 11.1 -39.5 9.8 -44.3 8.5 -50.3z" fill="#00b6ff"/>
<path d="M584.8 125.4l4.2 22.4 6.1 19.6 8.2 17.9 10.9 17.4 14 17.4 17.2 17.3 20.8 17.7 24.7 18.4 30.3 20.3 35.7 21.8 40.7 23.2 46.5 25 53.3 27.3 59.1 29.1 66.2 31.7 74.1 34.5 -6.3 21.5 -7.1 20 -7.8 18.3 -8.7 17.1 0 18.2 -152 -54.9 -119.8 -41.8 -95.6 -31.5 -39.7 -12.2 -35.1 -10 -29.6 -7.8 -25 -5.6 -22.7 -4.2 -20.4 -2.6 -17.5 -1 -16.2 .4 -15.3 1.9 -15.9 3.4 7.3 -11.9 6.2 -11.5 20 -24.9 9.6 -13.7 8.4 -13.2 14.8 -27.1 13.1 -29.2 6.6 -17.4 6.1 -18.1 11.2 -39.7 9.8 -44.7 8.3 -49.3z" fill="#00bdff"/>
<path d="M584.8 125.4l4.2 22.4 6.1 19.6 8.2 17.9 10.9 17.4 14 17.4 17.2 17.3 20.8 17.7 24.7 18.4 30.3 20.3 35.7 21.8 40.7 23.2 46.5 25 53.3 27.3 59.1 29.1 66.2 31.7 74.1 34.5 -6.3 21.5 -7.1 20 -7.8 18.3 -8.7 17.1 0 15.8 -152 -55 -119.5 -41.8 -96.2 -31.8 -39.2 -12.1 -34.7 -10 -29 -7.6 -26 -6 -21.9 -4.1 -19.3 -2.6 -17.5 -1.1 -16.4 .3 -15.4 1.8 -15.6 3.3 11.4 -20.2 10.6 -12.6 9.9 -13 9.3 -13.3 8.8 -13.9 14.7 -27.1 13 -29.2 6.5 -17.2 6.1 -18.1 11 -39.4 9.7 -44.2 8.3 -49.3z" fill="#00c5ff"/>
<path d="M584.8 125.4l4.2 22.4 6.1 19.6 8.2 17.9 10.9 17.4 14 17.4 17.2 17.3 20.8 17.7 24.7 18.4 30.3 20.3 35.7 21.8 40.7 23.2 46.5 25 53.3 27.3 59.1 29.1 66.2 31.7 74.1 34.5 -6.3 21.5 -7.1 20 -7.8 18.3 -8.7 17.1 0 13.4 -152 -55.1 -119.5 -41.9 -94.9 -31.5 -39.6 -12.3 -34.9 -10.1 -29.5 -7.8 -25.9 -6.1 -22.3 -4.2 -19 -2.5 -17.3 -1.1 -15.4 .3 -14.9 1.6 -15.6 3.2 9.5 -17 10.6 -12.6 9.9 -13 9.3 -13.3 8.8 -13.9 14.9 -27.5 13.2 -29.7 12.4 -35.2 10.9 -39.1 9.6 -43.7 8.3 -49.3z" fill="#00ccff"/>
<path d="M584.8 125.4l4.2 22.4 6.1 19.6 8.2 17.9 10.9 17.4 14 17.4 17.2 17.3 20.8 17.7 24.7 18.4 30.3 20.3 35.7 21.8 40.7 23.2 46.5 25 53.3 27.3 59.1 29.1 66.2 31.7 74.1 34.5 -6.3 21.5 -7.1 20 -7.8 18.3 -8.7 17.1 0 11 -151.8 -55.1 -119.5 -42 -95.3 -31.7 -73.4 -22.2 -28.1 -7.6 -24.7 -5.9 -23.3 -4.5 -19.3 -2.8 -17.5 -1.3 -15.8 .2 -14.8 1.6 -15.4 3.1 7.6 -13.9 10.6 -12.6 9.9 -13 9.3 -13.3 8.8 -13.9 15.1 -27.9 13.2 -30 12.5 -35.4 10.8 -38.8 9.4 -43.1 8.3 -49.3z" fill="#00d3ff"/>
<path d="M584.8 125.4l4.2 22.4 6.1 19.6 8.2 17.9 10.9 17.4 14 17.4 17.2 17.3 20.8 17.7 24.7 18.4 30.3 20.3 35.7 21.8 40.7 23.2 46.5 25 53.3 27.3 59.1 29.1 66.2 31.7 74.1 34.5 -6.3 21.5 -7.1 20 -7.8 18.3 -8.7 17.1 0 8.6 -151.5 -55 -119.5 -42.1 -95.1 -31.8 -73.7 -22.5 -29 -7.8 -25.3 -6 -21.6 -4.3 -19.1 -2.7 -17.4 -1.3 -15 .1 -14.9 1.5 -15 3 5.8 -10.8 10.6 -12.6 9.9 -13 9.3 -13.3 8.8 -13.9 15.2 -28.2 13.4 -30.5 12.3 -35 10.8 -38.9 9.4 -43.5 8.2 -48.4z" fill="#00daff"/>
<path d="M584.8 125.4l4.2 22.4 6.1 19.6 8.2 17.9 10.9 17.4 14 17.4 17.2 17.3 20.8 17.7 24.7 18.4 30.3 20.3 35.7 21.8 40.7 23.2 46.5 25 53.3 27.3 59.1 29.1 66.2 31.7 74.1 34.5 -6.3 21.5 -7.1 20 -7.8 18.3 -8.7 17.1 0 6.2 -151 -55 -119.5 -42.1 -95.2 -32 -72.9 -22.3 -28.3 -7.7 -25.2 -6.1 -22.7 -4.6 -19.2 -2.8 -17 -1.4 -15.3 .1 -14.4 1.5 -14.7 2.9 4.1 -7.8 10.6 -12.6 10.2 -13.4 9.6 -13.8 8.6 -13.8 15.1 -28 13.3 -30.5 12.3 -35 10.7 -38.8 9.3 -43 8.2 -48.4z" fill="#00e1ff"/>
<path d="M584.8 125.4l4.2 22.4 6.1 19.6 8.2 17.9 10.9 17.4 14 17.4 17.2 17.3 20.8 17.7 24.7 18.4 30.3 20.3 35.7 21.8 40.7 23.2 46.5 25 53.3 27.3 59.1 29.1 66.2 31.7 74.1 34.5 -5.6 19.2 -5.8 16.9 -8.7 21.1 -9.8 19.7 0 3.9 -150.5 -54.9 -119.3 -42.2 -95.1 -32.1 -73.3 -22.5 -28.1 -7.7 -24.9 -6.1 -21 -4.4 -20.4 -3.1 -17.2 -1.5 -14.9 0 -14.5 1.4 -14.6 2.9 2.5 -4.8 12.3 -14.8 11 -14.6 15.3 -23.4 7.9 -14.1 7.6 -14.6 13.6 -31.2 12.1 -34.6 10.6 -38.6 9.3 -43 8.2 -48.4z" fill="#00e8ff"/>
<path d="M584.8 125.4l4.2 22.4 6.1 19.6 8.2 17.9 10.9 17.4 14 17.4 17.2 17.3 20.8 17.7 24.7 18.4 30.3 20.3 35.7 21.8 40.7 23.2 46.5 25 53.3 27.3 59.1 29.1 66.2 31.7 74.1 34.5 -6 20.3 -6.7 19.1 -8.1 19.5 -9.1 18 0 1.5 -148.7 -54.3 -121.9 -43.2 -93.9 -31.7 -73.5 -22.8 -29.3 -8.1 -25.2 -6.1 -21.2 -4.4 -19.3 -2.9 -16.2 -1.4 -14.9 0 -13.9 1.3 -14.2 2.8 .9 -1.8 11.3 -13.5 10.2 -13.5 17.1 -25.8 8.1 -14.3 7.5 -14.7 13.8 -31.6 12.1 -34.8 10.5 -38.5 9.1 -42.2 8.2 -48.4z" fill="#00eeff"/>
</g>
<path d="M1061.5 672.1l-80 -16.6 -75.9 -14.3 -73.9 -12.4 -68.4 -9.8 -65.3 -7.6 -62.6 -5.5 -59.3 -3.3 -56.7 -1.3 -55.7 .8 -52.6 2.8 -52.4 4.8 -52.3 7 -53.2 9.3 -53.2 11.4 -55.4 13.9 -58.2 16.5M1062.2 658.7l-85.1 -24.4 -78.1 -21.2 -72 -18.2 -65.4 -15.1 -59.2 -12.3 -56.4 -9.9 -53.3 -7.5 -47.3 -4.7 -42.5 -2.3 -42.5 -.1 -40.3 2.2 -38.2 4.4 -38.6 6.8 -39.8 9.2 -43.1 12.2 -48.8 15.9M1062.5 645.5l-81.1 -25.9 -73.8 -22.7 -67.8 -19.9 -61.7 -17.1 -57.4 -14.7 -49.5 -11.6 -45.4 -9.3 -42.7 -7.2 -36.6 -4.7 -33.9 -2.7 -32.6 -.8 -30.4 1.1 -29 3 -29.9 5.2 -30.8 7.3 -34 10.1M1062.6 632.3l-79.1 -26.5 -72.2 -23.7 -65 -20.5 -58.9 -17.9 -52.9 -15.2 -48.1 -12.8 -43.3 -10.6 -39.7 -8.5 -33.6 -5.9 -31.2 -4.2 -28.5 -2.3 -26.6 -.5 -24.9 1.2 -24.3 3 -25.1 5.1 -26.1 7M1062.7 619.2l-148.6 -51 -64.9 -21.5 -58 -18.5 -52.4 -16 -46.3 -13.3 -41.3 -11.1 -37.2 -9 -33 -6.9 -28.8 -4.8 -25.4 -3 -23.9 -1.5 -21.8 .2 -20.9 1.8 -20.9 3.4 -21.9 5.4M1062.7 606.1l-148 -52 -120.3 -40.4 -50.8 -16.1 -46.1 -14.1 -40.5 -11.5 -36.5 -9.6 -28.9 -6.7 -28 -5.6 -24.2 -3.7 -23.1 -2.2 -20.1 -.6 -18.3 1 -18.3 2.4 -19.3 4.2M1062.8 593l-146.9 -52.5 -118.6 -40.7 -95.3 -30.7 -40.2 -12 -34.6 -9.7 -28.1 -7.1 -28 -6.2 -24.1 -4.2 -21 -2.6 -18.1 -1.1 -17.7 .4 -16.5 1.7 -17 3.4M1062.8 579.8l-145.3 -52.5 -118.3 -41.3 -94.6 -31.2 -39.1 -12.2 -34 -9.8 -29.3 -7.9 -26 -6.1 -23.3 -4.6 -19.7 -2.9 -17.4 -1.4 -16.4 -.1 -15.3 1.3 -15.2 2.7M1062.8 566.7l-145.3 -53 -117 -41.4 -94.2 -31.7 -72 -22.3 -28.9 -8.1 -25.6 -6.4 -21.3 -4.5 -19.8 -3.3 -16.8 -1.8 -15.4 -.4 -14.1 .9 -13.9 2.2" fill="none" stroke="#000" stroke-width="1.4"/>
<path d="M797.7 468l-2.8 25.5 -3.8 22.3 -4.9 18.2 -5.9 14.6 -3.6 6.7 -4.1 6.4 -9.5 11.4 -12.3 11.1 -15.3 11 -19.5 11.5 -24.9 12.9 -31.2 14.7 -39.5 17.4 -113.2 47.3 -181.7 73.2M506.2 388.2l6.9 16.3 8.8 15.6 11.2 15.1 13.5 15 16.3 15.3 19.3 15.8 22.5 16.5 26.2 17.4 30.3 18.6 34.7 20 38.8 21.2 43.7 22.8 48.5 24.4 53.9 26.3 124.6 58.4" fill="none" stroke="#f00" stroke-width="3.2" stroke-linejoin="round"/>
<polygon points="583.6,350.7 1091.8,550.5 579.6,752.1 71.4,552.3" fill="rgb(0,204,204)" fill-opacity="0.70" stroke="rgb(0,200,200)" stroke-opacity="0.35" stroke-width="1.2"/>
<clipPath id="caA"><path d="M583.7 133.1l4.2 21.7 2.8 9.8 3.3 9.5 3.9 9.2 4.5 8.8 5.1 8.6 5.7 8.3 6.4 8.4 7.4 8.5 17.3 17.1 20.8 17.5 24.4 18.1 30.4 20.1 34.8 21.2 40.7 23.1 45.9 24.5 52.2 26.8 58.8 28.9 66.1 31.5 73.4 34.1 -6.2 20.3 -6.8 18.7 -7.5 17.5 -8.4 16.6 -140.3 -51.3 -121.7 -43.3 -87.7 -29.8 -74.3 -23.4 -25.7 -7.3 -27.1 -7.1 -25.4 -5.8 -18 -3.2 -17.6 -2 -16 -.6 -14.4 .8 -13.1 2 10.7 -13.1 8.7 -11.6 8.5 -12.5 8.1 -12.9 7.7 -13.5 7.1 -13.9 6.8 -14.6 6.2 -14.9 11.4 -32.2 10.1 -35.7 9 -39.7 7.7 -43.5z"/></clipPath>
<g opacity="0.70" clip-path="url(#caA)">
<path d="M584.8 125.4l4.2 22.4 6.1 19.6 8.2 17.9 10.9 17.4 14 17.4 17.2 17.3 20.8 17.7 24.7 18.4 30.3 20.3 35.7 21.8 40.7 23.2 46.5 25 53.3 27.3 59.1 29.1 66.2 31.7 74.1 34.5 -6.3 21.3 -7 19.8 -7.8 18.4 -8.8 17.5 -144.3 -52.8 -121.7 -43.3 -97.2 -32.9 -74.1 -23 -31.1 -8.6 -28.4 -6.9 -20 -4 -16.8 -2.4 -15.5 -1.3 -16.3 .1 -12.6 1.3 -13.3 2.6 10.6 -12.6 9.9 -13 9.3 -13.3 8.8 -13.9 8.1 -14.3 7.5 -14.7 13.8 -31.6 12.1 -34.8 10.5 -38.5 9.1 -42.2 8.2 -48.4z" fill="#00f1ff"/>
<path d="M584.8 125.4l4.2 22.4 6.1 19.6 8.2 17.9 10.9 17.4 14 17.4 17.2 17.3 20.8 17.7 24.7 18.4 30.3 20.3 35.7 21.8 40.7 23.2 46.5 25 53.3 27.3 59.1 29.1 66.2 31.7 74.1 34.5 -6.3 21.3 -6.9 19.5 -7.6 18.1 -8.5 16.8 -149.6 -54.7 -119.8 -42.6 -95.2 -32.2 -72.8 -22.6 -28.6 -8 -25 -6.2 -21.8 -4.5 -18.4 -2.9 -16.3 -1.5 -14.9 -.1 -14 1.2 -14.2 2.7 10.1 -12.2 10.1 -13.3 9.3 -13.4 8.5 -13.6 8 -14.3 7.5 -14.6 13.6 -31.5 11.9 -34.6 10.4 -38 9 -41.9 8.2 -48.4z" fill="#00f6ff"/>
<path d="M584.8 125.4l4.2 22.4 6.1 19.6 8.2 17.9 10.9 17.4 14 17.4 17.2 17.3 20.8 17.7 24.7 18.4 30.3 20.3 35.7 21.8 40.7 23.2 46.5 25 53.3 27.3 59.1 29.1 66.2 31.7 74.1 34.5 -6 20.3 -6.4 18.6 -7.3 17.4 -8 16.4 -149.4 -54.8 -119.8 -42.6 -95.1 -32.3 -72.6 -22.6 -28.4 -8 -24.7 -6.2 -21.5 -4.5 -18.9 -3.1 -16.1 -1.5 -14.7 -.2 -13.9 1.2 -14 2.6 10 -12.3 9.7 -13.1 16.9 -26.5 15 -28.6 13.3 -31.2 11.5 -33.9 10.3 -37.9 9 -42.3 7.8 -46.4z" fill="#00feff"/>
<path d="M584.8 125.4l4.2 22.4 6.1 19.6 8.2 17.9 10.9 17.4 14 17.4 17.2 17.3 20.8 17.7 24.7 18.4 30.3 20.3 35.7 21.8 40.7 23.2 46.5 25 53.3 27.3 59.1 29.1 66.2 31.7 74.1 34.5 -5.6 19.2 -6.4 18.4 -6.8 16.7 -7.3 15.4 -149.6 -54.9 -120 -42.7 -94.4 -32.2 -72.5 -22.7 -28.4 -8 -24.3 -6.2 -21.6 -4.6 -18.8 -3.1 -16.2 -1.5 -14.6 -.3 -13.6 1.1 -13.8 2.6 19.2 -25.4 16.3 -26.1 14.5 -28.3 12.9 -30.8 11.3 -33.6 10 -37.3 8.6 -40.8 7.8 -46.4z" fill="#06fff9"/>
<path d="M584.8 125.4l4.2 22.4 6.1 19.6 8.2 17.9 10.9 17.4 14 17.4 17.2 17.3 20.8 17.7 24.7 18.4 30.3 20.3 35.7 21.8 40.7 23.2 46.5 25 53.3 27.3 59.1 29.1 66.2 31.7 74.1 34.5 -5.3 18.1 -5.9 17.4 -6.4 16.1 -7 15.2 -149.3 -54.9 -119.5 -42.7 -94.9 -32.4 -72.4 -22.8 -28.4 -8 -24.7 -6.3 -21 -4.6 -18.6 -3 -16.2 -1.7 -14.5 -.2 -13.5 1 -13.4 2.5 18.5 -25.2 15.8 -25.8 14.1 -28.1 12.5 -30.4 11 -33.4 9.6 -36.3 8.8 -41.5 7.4 -44.5z" fill="#0dfff2"/>
<path d="M584.8 125.4l4.2 22.4 6.1 19.6 8.2 17.9 10.9 17.4 14 17.4 17.2 17.3 20.8 17.7 24.7 18.4 30.3 20.3 35.7 21.8 40.7 23.2 46.5 25 53.3 27.3 59.1 29.1 66.2 31.7 74.1 34.5 -4.9 17 -5.5 16.4 -6.1 15.8 -6.6 14.6 -149.3 -54.9 -119.4 -42.7 -94.7 -32.4 -72.3 -22.9 -28.2 -8 -24.7 -6.4 -21 -4.6 -18.5 -3.1 -15.8 -1.6 -14.4 -.4 -13.6 1 -13.3 2.4 17.5 -24.2 15.6 -26.1 13.8 -27.9 12.1 -29.9 10.7 -33.1 9.5 -36.1 8.4 -39.9 7.4 -44.5z" fill="#14ffeb"/>
<path d="M584.8 125.4l4.2 22.4 6.1 19.6 8.2 17.9 10.9 17.4 14 17.4 17.2 17.3 20.8 17.7 24.7 18.4 30.3 20.3 35.7 21.8 40.7 23.2 46.5 25 53.3 27.3 59.1 29.1 66.2 31.7 74.1 34.5 -10 32.4 -5.6 14.6 -6.2 13.9 -148 -54.6 -120.4 -43.1 -94.6 -32.5 -72.2 -22.9 -28.2 -8.1 -24.5 -6.3 -21 -4.6 -18.3 -3.2 -16.1 -1.7 -14.2 -.4 -13.2 1 -13.1 2.3 17.1 -24.3 14.9 -25.5 13.4 -27.6 11.8 -29.9 10.5 -32.7 9.2 -35.6 8.1 -38.8 7.3 -43.9z" fill="#1bffe4"/>
<path d="M584.8 125.4l4.2 22.4 6.1 19.6 8.2 17.9 10.9 17.4 14 17.4 17.2 17.3 20.8 17.7 24.7 18.4 30.3 20.3 35.7 21.8 40.7 23.2 46.5 25 53.3 27.3 59.1 29.1 66.2 31.7 74.1 34.5 -9.4 30.4 -11 27.6 -148 -54.6 -120.3 -43.2 -94.4 -32.4 -72.1 -23 -52.3 -14.4 -21.2 -4.8 -18.3 -3.2 -15.9 -1.7 -14.1 -.4 -13.1 .9 -12.9 2.2 16.7 -24.4 14.2 -24.9 13 -27.3 11.5 -29.5 10.1 -31.9 9.1 -35.3 8 -39.1 7.1 -42.5z" fill="#22ffdd"/>
<path d="M584.8 125.4l4.2 22.4 6.1 19.6 8.2 17.9 10.9 17.4 14 17.4 17.2 17.3 20.8 17.7 24.7 18.4 30.3 20.3 35.7 21.8 40.7 23.2 46.5 25 53.3 27.3 59.1 29.1 66.2 31.7 74.1 34.5 -8.9 29.1 -10.2 26 -149 -55 -119.1 -42.9 -94.4 -32.5 -72 -23 -52.1 -14.4 -21.1 -4.8 -18.2 -3.3 -15.9 -1.7 -13.9 -.5 -13 .9 -12.8 2.1 15.8 -23.4 14.2 -25.3 12.6 -27 11.1 -29.2 9.9 -31.5 8.8 -34.7 7.8 -37.9 7.1 -42.5z" fill="#29ffd6"/>
<path d="M584.8 125.4l4.2 22.4 6.1 19.6 8.2 17.9 10.9 17.4 14 17.4 17.2 17.3 20.8 17.7 24.7 18.4 30.3 20.3 35.7 21.8 40.7 23.2 46.5 25 53.3 27.3 59.1 29.1 66.2 31.7 74.1 34.5 -8.3 27.5 -9.5 24.7 -147.9 -54.6 -120.1 -43.3 -94.3 -32.6 -71.8 -23 -52.4 -14.6 -20.7 -4.7 -18.1 -3.3 -15.7 -1.8 -13.9 -.5 -12.9 .8 -12.6 2.1 15.6 -23.7 13.4 -24.5 12.2 -26.7 10.8 -28.6 9.7 -31.4 8.6 -34 7.5 -36.8 7.1 -42.5z" fill="#30ffcf"/>
<path d="M584.8 125.4l4.2 22.4 6.1 19.6 8.2 17.9 10.9 17.4 14 17.4 17.2 17.3 20.8 17.7 24.7 18.4 30.3 20.3 35.7 21.8 40.7 23.2 46.5 25 53.3 27.3 59.1 29.1 66.2 31.7 74.1 34.5 -7.8 25.9 -8.8 23.5 -148.9 -55.1 -118.9 -42.9 -94.3 -32.6 -71.6 -23.1 -52.4 -14.7 -20.5 -4.7 -18.1 -3.3 -15.6 -1.9 -13.8 -.5 -12.7 .8 -12.5 2 14.7 -22.9 13.4 -24.8 11.8 -26.4 10.6 -28.4 9.4 -31 8.5 -33.8 7.5 -37.1 6.7 -40.5z" fill="#38ffc7"/>
<path d="M584.8 125.4l3.5 19.2 4.7 16.9 6.3 15.9 8 15 10.1 14.7 12.2 14.5 14.2 14.3 17.2 14.9 28.7 21.8 34.6 23.1 41.7 25.2 48.9 27.3 57 30 65.2 32.6 75.4 36.3 84.3 39.3 -7.3 24.4 -8.2 22.1 -148.7 -55.1 -118.9 -42.9 -94 -32.6 -71.7 -23.2 -52 -14.6 -20.7 -4.8 -18 -3.4 -15.2 -1.9 -13.9 -.5 -12.6 .6 -12.4 2.1 14.5 -23.2 12.7 -24.1 11.5 -26.2 10.2 -28.1 9.3 -30.6 8.1 -33.1 7.3 -35.9 6.7 -40.5z" fill="#3fffc0"/>
<path d="M584.8 125.4l3.5 19.2 4.8 17.3 6.4 15.9 8.1 15 10.2 14.9 12.2 14.4 14.8 14.7 17.4 15 28.7 21.7 35.4 23.5 41.4 24.9 48.7 27.1 56.6 29.7 65.1 32.6 74.4 35.8 84.3 39.3 -6.7 22.6 -7.6 21.1 -148.7 -55.1 -118.8 -43 -94.1 -32.7 -71.4 -23.1 -52.1 -14.8 -20.4 -4.8 -18 -3.3 -15.1 -1.9 -13.7 -.7 -12.5 .7 -12.3 1.9 13.8 -22.5 12.4 -24.2 11.2 -25.8 10 -27.8 8.9 -30 8.1 -32.8 7.4 -36.7 6.3 -38.6z" fill="#46ffb9"/>
<path d="M584.8 125.4l3.6 19.6 4.8 17.2 6.5 16 8.4 15.4 10.3 14.8 12.6 14.7 15.1 14.8 17.9 15.4 29 21.6 35.4 23.4 41.7 25 48.5 26.9 56.4 29.5 65.2 32.6 73.3 35.2 83.3 38.9 -6.3 21.3 -6.9 19.6 -148.6 -55.2 -118.8 -43 -93.9 -32.7 -71.4 -23.2 -51.9 -14.8 -20.4 -4.8 -17.9 -3.4 -15.1 -1.9 -13.6 -.7 -12.3 .6 -12.2 1.9 13.4 -22.4 12 -23.9 10.8 -25.3 9.7 -27.5 8.7 -29.5 7.9 -32.5 7.2 -35.5 6.3 -38.6z" fill="#4dffb2"/>
<path d="M584.8 125.4l3.6 19.6 5 17.6 6.5 16 8.4 15.4 10.6 15.1 12.7 14.7 15.3 14.9 18.3 15.6 28.8 21.4 35.4 23.2 41.7 25 48.9 27.1 56 29.3 65.2 32.5 73.3 35.2 82.3 38.4 -5.6 19.2 -6.5 18.9 -148.6 -55.2 -118.7 -43 -93.9 -32.8 -71.2 -23.2 -51.4 -14.7 -20.7 -5 -17.8 -3.4 -15 -2 -13.6 -.7 -12.4 .6 -11.9 1.8 12.9 -22 11.7 -23.6 10.5 -25.2 9.5 -27.1 8.6 -29.4 7.6 -31.9 6.9 -34.5 6.3 -38.3z" fill="#54ffab"/>
<path d="M584.8 125.4l3.6 19.9 5.1 17.7 6.6 16 8.5 15.5 10.7 15 13.1 15.1 15.5 15 18.5 15.6 29.4 21.7 34.6 22.7 41.8 24.8 48.6 27 56.2 29.4 64.4 32.1 73.1 35.1 82.3 38.4 -5.3 18.1 -5.8 17.2 -148.5 -55.2 -118.6 -43.1 -93.8 -32.8 -71.2 -23.2 -51.4 -14.8 -20.5 -5 -17.7 -3.4 -15 -2 -13.4 -.7 -12.2 .5 -11.9 1.8 12.6 -22.1 11.3 -23.3 10.2 -25 9.2 -26.7 8.2 -28.6 7.6 -31.5 6.6 -33.4 6.3 -38.3z" fill="#5bffa4"/>
<path d="M584.8 125.4l3.6 19.9 5.1 17.7 6.7 16.4 8.7 15.5 11.1 15.6 13.4 15.1 15.8 15.2 19.1 15.9 29.5 21.6 35.4 23 41.6 24.7 48.3 26.6 56 29.2 64.1 32 72.3 34.7 81.3 37.9 -10.1 32.5 -147.7 -55 -119.2 -43.3 -93.8 -32.8 -71.1 -23.3 -51.2 -14.8 -20.5 -5 -17.7 -3.5 -15.2 -2 -13.1 -.8 -12.2 .5 -11.6 1.8 12.1 -21.7 11 -23 9.9 -24.7 9 -26.4 8.2 -28.8 7.2 -30.7 6.7 -33.9 6 -36.6z" fill="#62ff9d"/>
<path d="M584.8 125.4l3.7 20.3 5.2 18 6.9 16.4 8.8 15.6 11.4 15.7 13.6 15.2 16.6 15.8 19.3 15.9 29.6 21.4 35.6 23 41.1 24.3 48.5 26.7 55.4 28.8 63.7 31.8 72.3 34.7 80.3 37.4 -9.1 29.7 -147.6 -54.9 -119.2 -43.4 -93.4 -32.8 -71.3 -23.4 -51.5 -14.9 -20.2 -5 -17.5 -3.5 -14.9 -2 -13.2 -.8 -11.9 .4 -11.8 1.7 11.8 -21.3 10.7 -23 9.6 -24.4 8.7 -26 7.9 -28.2 7.2 -30.5 6.4 -32.6 6 -36.6z" fill="#69ff96"/>
<path d="M584.8 125.4l3.7 20.3 5.2 18 7.1 16.8 8.9 15.7 11.5 15.7 13.7 15.3 16.9 15.9 19.5 16 29.6 21.3 35.2 22.7 41.1 24.2 48.1 26.5 55.8 29 63.1 31.5 72.3 34.7 80.3 37.4 -8.2 27 -146.2 -54.5 -120.6 -44 -93.5 -32.8 -70.9 -23.3 -51.4 -15.1 -20.1 -4.9 -17.5 -3.5 -15 -2.1 -13 -.8 -11.9 .4 -11.4 1.7 11.4 -21.3 10.3 -22.5 9.3 -24 8.6 -26 7.8 -28.1 7 -30.4 6.4 -32.7 5.6 -34.6z" fill="#71ff8e"/>
<path d="M584.8 125.4l3.8 20.6 5.4 18.3 7.1 16.8 9.1 15.9 11.7 15.8 14 15.4 17.1 15.9 20.4 16.5 29.5 21.1 35.6 22.9 41.8 24.5 47.3 25.9 55.5 28.9 63.2 31.4 71.3 34.2 79.2 36.9 -7.2 24.2 -149.3 -55.6 -117.5 -42.9 -93.4 -32.8 -70.8 -23.4 -51.3 -15 -20 -5 -17.5 -3.5 -14.9 -2.2 -12.9 -.8 -11.9 .4 -11.3 1.6 11 -21 10 -22.2 9.1 -23.7 8.3 -25.7 7.5 -27.3 6.8 -29.3 6.4 -32.7 5.6 -34.6z" fill="#78ff87"/>
<path d="M584.8 125.4l3.8 20.6 5.4 18.4 7.2 16.9 9.3 16.2 12 16 14.5 15.8 17.5 16.1 20.9 16.8 29.7 21 35.4 22.5 40.8 24 47.9 26.2 55 28.5 63.1 31.4 70.3 33.7 79.2 36.9 -6.3 21.5 -146.1 -54.5 -120.4 -44 -93.5 -32.9 -70.7 -23.4 -51.1 -15.1 -20.1 -5 -17.4 -3.6 -14.6 -2.1 -13 -.9 -11.7 .3 -11.4 1.6 10.7 -20.9 9.8 -22.1 8.8 -23.4 8 -25.2 7.4 -27.2 6.7 -29.1 6 -30.9 5.6 -34.6z" fill="#7fff80"/>
<path d="M584.8 125.4l3.9 21 5.4 18.4 7.3 16.9 9.4 16.2 11.9 15.9 15 16.2 17.5 16 21.3 17 29.7 21 35.4 22.4 40.7 23.8 47.9 26.2 55 28.5 62.1 30.9 70.3 33.7 79.2 36.9 -5.5 18.8 -149.2 -55.7 -117.1 -42.8 -93.4 -33 -70.7 -23.5 -51.2 -15.1 -19.9 -5 -17.3 -3.6 -14.5 -2.1 -13 -.9 -11.6 .3 -11.2 1.5 10.3 -20.6 9.4 -21.6 8.6 -23.3 7.9 -24.8 7.1 -26.6 6.6 -28.8 5.8 -30.1 5.6 -34.6z" fill="#86ff79"/>
<path d="M584.8 125.4l3.9 21 5.6 18.8 7.5 17.3 9.6 16.3 12.1 15.9 15.3 16.3 18.3 16.6 21.4 16.9 29.5 20.7 35.5 22.4 40.9 23.8 47.8 26.1 55 28.4 62.1 30.9 69.3 33.1 78.2 36.5 -4.6 16.1 -148.8 -55.6 -117.5 -43 -93.3 -33 -70.6 -23.5 -51.1 -15.1 -19.8 -5 -17.3 -3.6 -14.6 -2.2 -12.8 -1 -11.5 .3 -11.1 1.5 10 -20.4 9.2 -21.8 8.4 -22.8 7.6 -24.6 6.9 -25.9 6.4 -28.3 5.9 -31.1 5.3 -32.5z" fill="#8dff72"/>
<path d="M584.8 125.4l4 21.3 5.6 18.9 7.6 17.3 9.7 16.3 12.6 16.5 15.4 16.2 18.4 16.6 22.4 17.5 29.5 20.5 35.7 22.4 40.7 23.6 47.9 26.1 54.6 28.2 61.5 30.5 69.2 33.1 77.2 36 -3.8 13.4 -147.4 -55.2 -118.8 -43.4 -93.2 -33.1 -70.5 -23.5 -50.9 -15.1 -19.9 -5.1 -17.2 -3.6 -14.5 -2.2 -12.7 -1 -11.5 .2 -11 1.5 9.7 -20.3 8.9 -21.2 8.1 -22.8 7.4 -24.1 6.9 -26.2 6.3 -28.1 5.5 -29.2 5.3 -32.5z" fill="#94ff6b"/>
<path d="M584.8 125.4l4.1 21.7 5.7 18.8 7.6 17.4 10.1 16.8 12.9 16.5 15.6 16.4 19.3 17.2 22.4 17.3 29.7 20.4 35.5 22.2 40.7 23.6 47.9 25.9 54 27.9 61.2 30.3 69.1 33.1 76.2 35.5 -3 10.7 -148.9 -55.8 -117.2 -42.9 -93.1 -33 -70.5 -23.6 -50.7 -15.1 -20 -5.1 -17.1 -3.7 -14.5 -2.2 -12.7 -1 -11.4 .2 -10.8 1.4 9.4 -19.9 8.6 -21 7.9 -22.4 7.3 -23.9 6.5 -25.3 6.1 -27.2 5.5 -29.2 5.3 -32.5z" fill="#9bff64"/>
<path d="M584.8 125.4l4.1 21.7 5.8 19.2 7.9 17.8 10.3 16.9 13.1 16.6 15.9 16.5 19.3 16.9 23.4 18 30 20.5 35.2 21.8 40.7 23.5 47.8 25.9 53.5 27.6 60.6 29.9 68.2 32.7 76.2 35.5 -2.2 8 -145.9 -54.6 -119 -43.7 -93.7 -33.3 -70.9 -23.7 -50.8 -15.3 -19.7 -5.1 -17.1 -3.6 -14.6 -2.3 -12.5 -1 -11.2 .2 -10.8 1.3 9.1 -19.6 8.3 -20.7 7.6 -22 7.2 -23.8 6.5 -25.2 6 -27.2 5.5 -29.4 4.9 -30.5z" fill="#a2ff5d"/>
<path d="M584.8 125.4l4.1 22 5.9 19.3 8.1 17.8 10.3 16.9 13.3 16.8 16.6 17 20.1 17.4 23.4 17.8 25.6 17.5 29.8 18.8 34.2 20.1 37.7 20.9 57 30 66.2 33.1 75.4 36.3 84.3 39.3 -1.5 5.3 -146.1 -54.8 -121 -44.4 -91.8 -32.6 -70.3 -23.6 -50.4 -15.2 -20 -5.2 -17.1 -3.7 -14.3 -2.3 -12.6 -1 -11.1 .1 -10.8 1.4 8.8 -19.4 8.2 -20.8 7.4 -21.6 6.9 -23.3 6.2 -24.4 5.8 -26.3 5.5 -29.2 4.9 -30.5z" fill="#aaff55"/>
<path d="M584.8 125.4l4.1 22 6.1 19.7 8.1 17.9 10.7 17.3 13.8 17 16.6 17 20.6 17.7 23.9 17.9 27.4 18.6 32.6 20.2 37.2 21.5 42.3 23.1 55.1 28.7 63 31.3 71.3 34.2 79.2 36.9 -.7 2.6 -149.3 -55.9 -117.5 -43.2 -92.1 -32.8 -70.1 -23.6 -50.2 -15.1 -20.1 -5.3 -17 -3.7 -14.2 -2.3 -12.5 -1.1 -11.2 .1 -10.7 1.4 8.6 -19.3 7.9 -20.4 7.3 -21.7 6.6 -22.7 6.1 -24.1 5.7 -26.4 5.2 -27.5 4.9 -30.5z" fill="#b1ff4e"/>
<path d="M584.8 125.4l4.2 22.4 6.1 19.6 8.2 17.9 10.9 17.4 13.5 16.9 17.2 17.3 20.7 17.7 25.1 18.7 30.3 20.3 35 21.4 40.6 23.2 46.8 25.2 53 27.2 59 29.1 67.2 32.1 73.8 34.4 -148.5 -55.7 -117.8 -43.3 -92.1 -32.8 -70 -23.6 -50.6 -15.4 -19.6 -5.1 -17 -3.7 -14.2 -2.3 -12.4 -1.1 -11 .1 -10.6 1.2 8.2 -18.8 7.7 -20.1 7.1 -21.5 6.5 -22.6 6.1 -24.5 5.6 -26 5.1 -27.6 4.6 -28.5z" fill="#b8ff47"/>
<path d="M584.8 125.4l4.1 21.7 5.8 19.2 7.9 17.8 10.3 16.9 13.1 16.6 15.9 16.5 19.8 17.4 23.2 17.7 28.5 19.5 33.1 20.7 37.9 22 43.2 23.6 49.4 25.8 55 27.5 62.1 30 68.1 32.1 -136.5 -51.1 -110.7 -40.6 -86.8 -30.7 -66 -22.1 -47.4 -14.2 -34.7 -8.3 -13.7 -2.1 -11.8 -1 -10.5 .1 -10.2 1.2 8.1 -18.8 7.4 -19.8 6.9 -21.1 6.4 -22.3 5.8 -23.7 5.3 -24.9 5.1 -27.6 4.6 -28.5z" fill="#bfff40"/>
<path d="M584.8 125.4l4 21.3 5.6 18.9 7.6 17.3 9.7 16.3 12.2 16 15.2 16.2 18.2 16.4 22 17.3 26.7 18.7 30.5 19.5 35.7 21.1 39.9 22.3 45.6 24.1 51.8 26.3 57.1 28 63.6 30.3 -125.8 -46.9 -104.6 -38.2 -80.5 -28.4 -61.6 -20.5 -44.7 -13.2 -33.3 -7.8 -13 -2 -11.3 -1 -10.4 .2 -9.7 1.1 7.7 -18.6 7.2 -19.3 6.6 -20.6 6.2 -22.1 5.8 -23.3 5.3 -25.3 9.4 -54.6z" fill="#c6ff39"/>
<path d="M584.8 125.4l3.8 20.6 5.4 18.3 7.1 16.8 9.2 15.9 11.6 15.8 14.5 15.9 17.4 16.1 20.1 16.2 24.9 18 28.5 18.6 32.6 19.8 37.7 21.4 42.8 23 47.8 24.7 53.2 26.4 58.9 28.4 -118.3 -44 -95.2 -34.7 -75.3 -26.4 -58.8 -19.3 -42 -12.4 -31.4 -7.2 -12.3 -1.8 -11.1 -.9 -9.8 .1 -9.6 1.1 7.6 -18.3 7 -19.4 6.5 -20.5 6 -21.5 5.5 -22.9 5.1 -24.1 9.3 -54.2z" fill="#cdff32"/>
<path d="M584.8 125.4l3.6 19.9 5.2 18 6.8 16.4 8.8 15.7 11.2 15.5 13.5 15.2 16.1 15.4 19.3 16 23.4 17.3 26.5 17.7 30.6 18.8 34.6 20.1 39.7 21.7 43.8 23 49.9 25.1 54.6 26.7 -110.8 -41 -88.8 -32.2 -70.1 -24.4 -53.9 -17.6 -39.8 -11.6 -30 -6.8 -12 -1.8 -10.6 -.7 -9.5 .1 -9.1 1.1 7.2 -18 6.8 -19.1 6.3 -20 5.8 -21.3 5.6 -23.2 5.1 -24.3 8.9 -52.2z" fill="#d4ff2b"/>
<path d="M584.8 125.4l3.6 19.6 4.8 17.2 6.5 16 8.4 15.4 10.3 14.8 12.6 14.7 15.1 14.8 18.1 15.6 21.7 16.4 25.1 17.2 28.6 18.1 32.6 19.2 36.6 20.5 40.7 21.7 45.9 23.5 51 25.2 -103 -38 -82.2 -29.7 -65.6 -22.7 -51 -16.5 -37.8 -10.8 -28.4 -6.3 -11.4 -1.7 -10.1 -.7 -9.1 .2 -8.8 1 7.1 -17.9 6.6 -18.8 6.1 -19.8 5.7 -21 10.1 -45.5 8.9 -52.2z" fill="#dbff24"/>
<path d="M584.8 125.4l3.5 19.2 4.7 16.9 6.1 15.5 8 14.9 10 14.9 12 14.3 14.6 14.6 16.4 14.5 20.4 15.8 23.4 16.4 26.5 17.2 30.5 18.3 34.7 19.7 37.7 20.4 88.8 45.4 -94.9 -35 -76.7 -27.5 -61.9 -21.3 -48 -15.4 -35.5 -10 -27 -5.9 -10.8 -1.5 -9.8 -.7 -8.8 .2 -8.5 1 6.9 -17.8 6.3 -18.5 11.5 -40.1 10.1 -45.7 8.5 -50.3z" fill="#e3ff1c"/>
<path d="M584.8 125.4l3.3 18.5 4.5 16.5 6 15.4 7.5 14.5 9.2 14 11.2 13.9 13.7 14.3 15.7 14.1 18.9 15.1 22 15.9 24.4 16.2 28.4 17.5 31.7 18.4 35.1 19.3 83 43.1 -88.1 -32.3 -72.3 -25.8 -57.6 -19.7 -44.6 -14.2 -33.2 -9.3 -25.8 -5.5 -19.7 -2 -8.6 .2 -8.2 .9 6.7 -17.4 6.2 -18.4 11.2 -39.6 9.6 -43.8 8.5 -50.3z" fill="#eaff15"/>
<path d="M584.8 125.4l3.2 18.2 4.4 16.1 5.6 14.8 7.1 14.1 8.7 13.7 10.7 13.6 12.5 13.4 15 13.9 17.7 14.6 20.2 15 23.2 15.7 25.9 16.3 30.1 17.9 32.6 18.3 76.5 40.3 -81.5 -29.7 -68.2 -24.3 -53.4 -18.1 -41.8 -13.1 -31.5 -8.7 -24.3 -5 -19 -1.9 -8.2 .2 -7.8 .9 12.4 -35 10.9 -39.2 9.4 -43.2 8.3 -49.3z" fill="#f1ff0e"/>
<path d="M584.8 125.4l3.1 17.5 4.1 15.7 5.4 14.5 6.8 13.9 8.4 13.5 10.1 13.3 12 13.2 13.9 13.2 16.6 14.1 18.8 14.2 21.1 14.7 24.3 15.7 27.5 16.7 30.5 17.5 71 38.1 -138.1 -49.6 -50.7 -17.1 -39.4 -12.3 -30 -8.1 -23.1 -4.7 -18.1 -1.7 -7.8 .2 -7.6 .9 12.1 -34.8 10.5 -38.5 9.1 -42.2 8.2 -48.4z" fill="#f8ff07"/>
<path d="M584.8 125.4l3 17.1 4 15.3 5.1 14.2 6.4 13.3 8 13.2 9.5 12.9 11.1 12.7 12.9 12.7 15.3 13.4 17.4 13.5 20.3 14.6 22.4 14.8 25.5 15.8 28.5 16.7 65.7 35.9 -129.7 -46.3 -45.7 -15.2 -37.1 -11.5 -28.1 -7.5 -22.2 -4.5 -17.5 -1.5 -14.9 1 11.7 -34.5 10.2 -37.7 9.1 -42.5 7.8 -46.4z" fill="#ffff00"/>
<path d="M584.8 125.4l2.9 16.4 3.8 14.9 4.8 13.8 6.1 13.2 7.3 12.5 8.9 12.4 10.5 12.5 12.2 12.4 14.6 13.1 16.3 13.1 18.7 13.8 21.2 14.3 23.4 14.9 26.5 15.9 60.6 33.8 -119.8 -42.6 -44 -14.6 -34.4 -10.5 -26.6 -7 -20.9 -4 -16.7 -1.5 -14.5 1 11.4 -33.8 10 -37.3 8.6 -40.8 7.8 -46.4z" fill="#fff800"/>
<path d="M584.8 125.4l2.8 16.1 3.7 14.5 4.5 13.3 5.8 12.8 7 12.4 8.2 11.8 9.7 11.9 11.5 12.1 13.8 12.8 15.4 12.7 17.4 13.2 19.3 13.4 21.4 14 24.5 14.9 56.7 32.3 -110.6 -39 -40.8 -13.5 -33.6 -10.1 -25.1 -6.5 -20 -3.8 -15.8 -1.3 -13.8 1 10.9 -33.2 9.8 -36.8 8.6 -41 7.4 -44.5z" fill="#fff100"/>
<path d="M584.8 125.4l2.6 15.4 3.5 14.1 4.5 13.3 5.4 12.3 6.8 12.3 7.7 11.5 9.4 11.8 10.7 11.6 12.5 11.9 14.3 12.2 16.3 12.7 18.3 13.1 20.4 13.5 22.4 14.1 51.9 30.2 -104.4 -36.7 -37.9 -12.3 -30.1 -9 -23.9 -6 -18.8 -3.5 -15.2 -1.2 -13.4 .9 10.6 -32.6 9.4 -36.3 8.4 -39.9 7.3 -43.9z" fill="#ffea00"/>
<path d="M584.8 125.4l2.6 15 3.3 13.8 4.3 12.9 5.1 11.9 6.2 11.7 7.5 11.6 8.7 11.2 9.9 11.1 11.8 11.7 13.1 11.5 15.1 12.1 17.3 12.7 39.7 26.3 48 28.5 -97 -33.8 -35.2 -11.3 -28.9 -8.5 -22.3 -5.5 -17.9 -3.3 -14.5 -1.1 -12.8 1 10.3 -32.5 9.1 -35.4 8.2 -39.6 7.1 -42.5z" fill="#ffe200"/>
<path d="M584.8 125.4l2.5 14.7 3.2 13.4 4.1 12.4 4.9 11.9 5.8 11.2 7 11.1 8.1 10.9 9.6 11.1 10.8 10.9 12.3 11.2 14.1 11.6 15.8 12 36.7 25 44.6 27.1 -89.1 -30.9 -33.7 -10.7 -26.9 -7.8 -21.4 -5.3 -17 -3 -14 -1 -12.5 .9 10.1 -32 8.8 -34.8 7.8 -37.9 7.1 -42.5z" fill="#ffdb00"/>
<path d="M584.8 125.4l2.4 14.3 3.1 13.1 3.8 12 4.7 11.4 5.6 11.2 6.4 10.5 7.8 10.7 8.7 10.5 10.2 10.7 11.4 10.8 13.3 11.2 14.3 11.2 34.5 24.1 41.1 25.6 -83.4 -28.7 -30.9 -9.7 -25.2 -7.2 -20.1 -4.9 -16.4 -2.8 -13.5 -.9 -11.9 .8 9.6 -31.1 8.7 -34.5 7.8 -38.3 6.7 -40.5z" fill="#ffd400"/>
<path d="M584.8 125.4l2.4 14 2.9 12.7 3.6 11.6 4.5 11.4 5.3 10.7 6.2 10.4 7.1 10.1 8.4 10.3 9.5 10.4 10.7 10.4 11.9 10.4 14 11.3 31.5 22.6 37.8 24.1 -77.4 -26.4 -29.4 -9.2 -23.3 -6.5 -18.9 -4.5 -15.6 -2.6 -12.9 -.8 -11.5 .8 9.4 -30.7 8.3 -33.4 7.5 -37.1 6.7 -40.5z" fill="#ffcd00"/>
<path d="M584.8 125.4l2.2 13.3 2.9 12.4 3.5 11.5 4.2 10.9 4.8 10.2 5.9 10.3 6.8 10.1 7.6 9.7 8.9 10 10.2 10.2 23.8 20.6 29.2 21.6 35.1 23.1 -71.6 -24.3 -27.1 -8.4 -22.8 -6.3 -17.7 -4.1 -14.8 -2.4 -12.4 -.7 -11 .8 9.1 -30.5 8.1 -32.7 7.1 -35.3 6.7 -40.5z" fill="#ffc600"/>
<path d="M584.8 125.4l2.2 13 2.7 11.9 3.3 11.2 3.9 10.5 4.7 10.1 5.5 9.8 6.2 9.6 7.1 9.5 8.2 9.6 9.4 9.7 22.2 19.9 27.4 21 32.4 21.8 -66.8 -22.5 -25.5 -7.8 -20.8 -5.6 -17 -3.9 -14.1 -2.2 -11.8 -.6 -10.6 .7 8.7 -29.6 7.9 -32.5 7.2 -35.5 6.3 -38.6z" fill="#ffbf00"/>
<path d="M584.8 125.4l4.7 24.2 3.1 10.8 3.7 10.1 4.3 9.6 5.2 9.8 5.9 9.3 6.9 9.4 16.3 18.6 20.3 18.8 25.3 20 30.2 20.9 -62.4 -20.7 -43.2 -12.4 -16 -3.5 -13.2 -2 -11.4 -.6 -10.2 .7 8.5 -29.3 7.6 -31.9 6.8 -34 6.3 -38.3z" fill="#ffb800"/>
<path d="M584.8 125.4l4.5 23.5 6.5 20.4 4.2 9.7 4.9 9.2 5.6 9.3 6.3 8.8 15.1 17.8 19.2 18.4 23.3 18.9 27.6 19.7 -57.5 -18.9 -40.9 -11.6 -15.1 -3.2 -12.7 -1.9 -10.8 -.5 -9.9 .7 8.2 -28.6 7.4 -31.2 6.8 -34.4 6 -36.6z" fill="#ffb000"/>
<path d="M584.8 125.4l4.2 22.4 6.3 20 8.4 18.4 11.1 17.4 14.3 17.5 17.6 17.4 21.6 18.2 25.6 18.9 -53.6 -17.5 -38.2 -10.6 -14.4 -3 -12 -1.7 -10.3 -.5 -9.4 .7 7.9 -28.4 7.2 -30.5 6.4 -32.6 6 -36.6z" fill="#ffa900"/>
<path d="M584.8 125.4l4.1 22 5.9 19.3 8.1 17.8 10.3 16.9 13.2 16.7 16.4 16.8 19.7 17.2 23.8 18.1 -50 -16.1 -35.7 -9.8 -13.6 -2.7 -11.3 -1.6 -9.9 -.4 -9 .7 7.7 -27.9 7 -30.2 6.4 -32.7 5.6 -34.6z" fill="#ffa200"/>
<path d="M584.8 125.4l3.9 21 5.6 18.8 7.5 17.3 9.6 16.3 12.5 16.4 15.2 16.2 18.2 16.4 21.9 17.2 -46 -14.7 -33.7 -9 -12.9 -2.6 -10.8 -1.4 -9.5 -.4 -8.7 .7 7.5 -27.6 6.8 -29.6 6 -30.9 5.6 -34.6z" fill="#ff9b00"/>
<path d="M584.8 125.4l3.8 20.6 5.3 18.1 7.1 16.8 9 15.7 11.5 15.7 14.2 15.7 16.8 15.7 20.1 16.4 -42.8 -13.5 -31.4 -8.3 -12.1 -2.4 -10.4 -1.3 -9.1 -.3 -8.4 .6 7.1 -26.5 6.6 -28.8 5.8 -30.1 5.6 -34.6z" fill="#ff9400"/>
<path d="M584.8 125.4l3.6 19.9 5.1 17.7 6.6 16 8.5 15.5 10.7 15 13.1 15.1 15.5 15 18.5 15.6 -40.2 -12.5 -29.3 -7.5 -21.2 -3.3 -8.6 -.3 -7.9 .6 6.8 -25.9 6.3 -27.8 5.9 -31.1 5.3 -32.5z" fill="#ff8d00"/>
<path d="M584.8 125.4l3.5 19.2 4.7 16.9 6.3 15.9 7.9 14.8 9.9 14.6 12 14.3 14.6 14.6 17 14.9 -37.2 -11.4 -27.4 -6.9 -20.2 -3.1 -8.3 -.3 -7.7 .6 6.6 -25.3 6.2 -27.6 5.5 -29.2 5.3 -32.5z" fill="#ff8600"/>
<path d="M584.8 125.4l3.3 18.5 4.5 16.5 5.8 15 7.4 14.5 9.3 14.2 11.3 14 13.4 13.9 15.5 14.1 -34.5 -10.4 -25.9 -6.4 -18.9 -2.8 -7.9 -.2 -7.4 .5 6.5 -25.3 5.9 -26.7 5.5 -29.4 4.9 -30.5z" fill="#ff7f00"/>
<path d="M584.8 125.4l3.2 17.8 4.2 15.7 5.5 15 6.9 13.9 8.6 13.6 10.3 13.3 12.4 13.5 14.4 13.6 -32 -9.6 -24.2 -5.8 -18.1 -2.6 -7.5 -.2 -7.1 .6 6.3 -24.9 5.7 -26.4 5.2 -27.5 4.9 -30.5z" fill="#ff7700"/>
<path d="M584.8 125.4l3 17.1 4 15.3 5.2 14.4 6.5 13.6 7.9 13 9.8 13.1 11.2 12.7 13.2 12.9 -30 -8.8 -22.5 -5.2 -17 -2.3 -14 .3 6.1 -24.5 5.6 -26 5.1 -27.6 4.6 -28.5z" fill="#ff7000"/>
<path d="M584.8 125.4l2.9 16.4 3.8 14.9 4.8 13.8 6.1 13.2 7.3 12.5 8.9 12.4 10.5 12.5 12.1 12.3 -27.8 -8 -21.1 -4.8 -16.2 -2.1 -13.3 .4 5.7 -23 5.3 -24.9 5.1 -27.6 4.6 -28.5z" fill="#ff6900"/>
<path d="M584.8 125.4l2.7 15.7 3.7 14.6 4.5 13.2 5.7 12.8 6.9 12.3 8.2 11.9 9.5 11.7 11.1 11.8 -25.3 -7.1 -19.9 -4.5 -15.5 -2 -12.9 .4 5.6 -23 5.1 -24.1 9.3 -54.2z" fill="#ff6200"/>
<path d="M584.8 125.4l2.6 15.4 3.4 13.8 4.3 12.8 5.3 12.3 6.4 11.8 7.5 11.4 8.8 11.3 10.2 11.4 -23.9 -6.7 -18.4 -4 -14.6 -1.7 -12.2 .4 10.4 -46.5 8.9 -52.2z" fill="#ff5b00"/>
<path d="M584.8 125.4l2.5 14.7 3.2 13.4 4.1 12.4 4.9 11.9 5.8 11.2 7 11.1 8.1 10.9 9.4 10.8 -22.1 -6 -17.4 -3.7 -13.9 -1.6 -11.5 .4 10.1 -45.7 8.5 -50.3z" fill="#ff5400"/>
<path d="M584.8 125.4l2.4 14 3 13 3.8 12 4.6 11.4 5.5 11.1 6.4 10.6 7.3 10.2 8.6 10.4 -20.2 -5.4 -16.4 -3.4 -13.2 -1.4 -11.1 .4 9.7 -44.1 8.3 -49.3z" fill="#ff4d00"/>
<path d="M584.8 125.4l2.3 13.6 2.8 12.3 3.6 11.7 4.2 10.9 4.9 10.2 6 10.4 6.9 10 7.8 10 -18.9 -4.9 -15.4 -3.1 -12.3 -1.2 -10.5 .3 9.1 -42.3 8.2 -48.4z" fill="#ff4600"/>
<path d="M584.8 125.4l2.2 13 2.7 11.9 3.3 11.2 3.9 10.5 4.7 10.1 5.5 9.8 6.2 9.6 7.1 9.5 -17.7 -4.5 -14 -2.7 -11.8 -1.2 -10.1 .4 8.9 -41.7 7.8 -46.4z" fill="#ff3e00"/>
<path d="M584.8 125.4l4.6 23.8 3.1 10.8 3.6 10.1 4.3 9.6 4.9 9.3 5.8 9.3 6.6 9.2 -16.3 -4 -13.4 -2.5 -11 -1 -9.6 .4 8.7 -41 7.4 -44.5z" fill="#ff3700"/>
<path d="M584.8 125.4l4.3 22.7 6.3 20.1 8.6 18.4 11.2 17.6 -15 -3.7 -12.6 -2.2 -10.4 -.9 -9.1 .4 8.1 -39 7.3 -43.9z" fill="#ff3000"/>
<path d="M584.8 125.4l4.1 21.7 5.8 19.2 7.9 17.8 10.2 16.7 -14 -3.2 -11.7 -2 -9.8 -.8 -8.6 .3 7.7 -37.7 7.1 -42.5z" fill="#ff2900"/>
<path d="M584.8 125.4l3.8 20.6 5.4 18.4 7.2 16.9 9.4 16.3 -13.2 -3 -10.7 -1.7 -9.2 -.7 -8.2 .3 7.5 -37.1 6.7 -40.5z" fill="#ff2200"/>
<path d="M584.8 125.4l3.6 19.9 5.1 17.7 6.6 16 8.5 15.4 -22.1 -4.2 -8.8 -.6 -7.9 .3 7.4 -36.4 6.3 -38.6z" fill="#ff1b00"/>
<path d="M584.8 125.4l3.4 18.9 4.7 16.8 6 15.5 7.8 14.7 -20.8 -3.8 -8 -.5 -7.5 .3 6.8 -34.1 6.3 -38.3z" fill="#ff1400"/>
<path d="M584.8 125.4l3.2 17.8 4.3 16.1 5.6 15 7 13.9 -19.1 -3.4 -7.7 -.4 -7.1 .3 6.5 -33.2 6 -36.6z" fill="#ff0d00"/>
<path d="M584.8 125.4l2.9 16.8 4 15.3 5.1 14.1 6.4 13.6 -17.8 -3 -13.9 -.1 6.4 -32.6 5.6 -34.6z" fill="#ff0500"/>
<path d="M584.8 125.4l2.8 16.1 3.7 14.5 4.5 13.3 5.8 12.9 -16.5 -2.7 -13 0 5.8 -30 5.6 -34.6z" fill="#fd0000"/>
<path d="M584.8 125.4l2.6 15 3.3 13.8 4.3 12.9 5.2 12.1 -15.2 -2.3 -12.4 0 5.6 -29.5 5.3 -32.5z" fill="#f60000"/>
<path d="M584.8 125.4l2.4 14.3 3.1 13.1 3.8 12 4.7 11.5 -14.2 -2 -11.4 0 5.4 -28.9 4.9 -30.5z" fill="#ef0000"/>
<path d="M584.8 125.4l2.2 13.3 2.9 12.4 3.5 11.5 4.1 10.8 -12.9 -1.7 -10.9 0 5.2 -28.3 4.6 -28.5z" fill="#e80000"/>
<path d="M584.8 125.4l4.7 24.2 3.1 10.8 3.7 10.2 -12.1 -1.6 -10 .2 9.3 -54.3z" fill="#e10000"/>
<path d="M584.8 125.4l4.2 22.4 6.2 19.9 -11 -1.2 -9.5 .1 8.8 -51.7z" fill="#da0000"/>
<path d="M584.8 125.4l3.9 21 5.5 18.6 -10.3 -1.1 -8.7 .1 8.3 -49.1z" fill="#d30000"/>
<path d="M584.8 125.4l3.6 19.6 4.8 17.2 -9.4 -.9 -8.1 .1 7.8 -46.5z" fill="#cb0000"/>
<path d="M584.8 125.4l3.2 17.8 4.3 16.3 -8.5 -.8 -7.6 .2 7.3 -44z" fill="#c40000"/>
<path d="M584.8 125.4l2.9 16.4 3.8 14.9 -8 -.6 -6.9 .2 6.9 -41.4z" fill="#bd0000"/>
<path d="M584.8 125.4l2.6 15 3.3 13.7 -13.6 -.4 6.4 -38.8z" fill="#b60000"/>
<path d="M584.8 125.4l2.3 13.6 2.9 12.4 -12.4 -.2 5.9 -36.3z" fill="#af0000"/>
<path d="M584.8 125.4l4.5 23.3 -11.3 -.1 5.5 -33.7z" fill="#a80000"/>
<path d="M584.8 125.4l3.8 20.7 -10.1 0 5 -31.2z" fill="#a10000"/>
<path d="M584.8 125.4l3.2 18.1 -9.1 0 4.6 -28.6z" fill="#9a0000"/>
<path d="M584.8 125.4l2.7 15.5 -8.2 .1 4.2 -26.1z" fill="#920000"/>
<path d="M584.8 125.4l2.1 12.9 -7.1 .1 3.7 -23.5z" fill="#8b0000"/>
<path d="M584.8 125.4l1.7 10.3 -6.3 .2 3.3 -21z" fill="#840000"/>
<path d="M584.8 125.4l1.2 7.8 -5.4 .1 2.9 -18.4z" fill="#800000"/>
</g>
<path d="M1068.3 551.5l-144.2 -53 -117.1 -41.9 -92.8 -31.8 -71.9 -22.8 -28.4 -8.2 -24.5 -6.4 -21.6 -5 -19 -3.4 -16.4 -2 -14.4 -.7 -13.5 .5 -12.9 1.8M1075.7 535.5l-143.8 -53.2 -116.6 -42 -92.3 -32 -71.1 -23.1 -27.8 -8.2 -24.5 -6.7 -21.2 -5.1 -18.4 -3.6 -15.7 -2.2 -14 -1 -12.8 .3 -12.3 1.5M1081.8 519.9l-143.4 -53.3 -116.2 -42.2 -91.8 -32.1 -70.8 -23.3 -51.5 -15.2 -21 -5.2 -18 -3.8 -15.5 -2.4 -13.4 -1.1 -12.2 .1 -11.5 1.2M1087 504.8l-144.2 -53.8 -114.8 -42 -91.4 -32.3 -70.2 -23.4 -51.2 -15.4 -20.5 -5.3 -17.6 -3.9 -15 -2.5 -13.1 -1.3 -11.8 -.2 -11.1 1M1091.4 489.9l-144.8 -54.2 -112.8 -41.5 -91.8 -32.6 -69.8 -23.6 -50.8 -15.6 -20.4 -5.4 -17.4 -4.1 -14.8 -2.6 -12.7 -1.4 -11.3 -.3 -10.5 .8M938.1 416.3l-98.1 -36.2 -78 -28.1 -64.3 -22.2 -50.1 -16.3 -37.6 -10.9 -28.7 -6.7 -11.5 -1.8 -10.3 -1.1 -9.3 -.1 -8.8 .6M823.1 358l-64.3 -23.2 -52.5 -18.3 -43 -14.3 -35.4 -11 -27.2 -7.3 -21.2 -4.4 -17.2 -2 -14.6 .4M744.8 314.1l-77.6 -26.6 -29.4 -9.3 -24.2 -6.9 -19.4 -4.7 -16.1 -3 -13.3 -1.3 -11.6 .4M691.6 280.1l-51.1 -16.7 -36.5 -10.2 -14.2 -3.1 -12.1 -1.9 -10.4 -.8 -9.2 .3M655.4 252.7l-33 -10 -25.7 -6.5 -19.2 -3.1 -7.8 -.5 -7.3 .2M630.8 229.9l-21.7 -5.9 -17.2 -3.9 -13.9 -1.8 -11.6 -.1M614.1 210.2l-14 -3.3 -11.6 -2.2 -9.9 -1 -8.7 0M602.7 192.7l-16.3 -2.9 -13.2 -.5M594.9 176.5l-10.1 -1.3 -8.7 -.2M589.7 161.3l-10.9 -.4M586.1 146.8l-4.8 0" fill="none" stroke="#000" stroke-width="1.4"/>
<path d="M1062.9 561.9l-140.3 -51.4 -121.6 -43.2 -94.4 -32 -68.9 -21.6 -27.4 -7.8 -24.4 -6.4 -25.1 -5.7 -18.6 -3.2 -17 -2 -16 -.6 -14.5 .8 -13 2" fill="none" stroke="#fff" stroke-width="2.8"/>
<path d="M837.7 365.7l-7.9 28.3 -9.3 26.2 -10.5 23.8 -12 22.1M497.3 371.2l3.7 8.7 5.1 8.2" fill="none" stroke="#f00" stroke-width="3.2" stroke-linejoin="round"/>
<path d="M60.5 675.3L579.0 879.2L1096.9 675.3" fill="none" stroke="#000" stroke-width="1.45"/>
<path d="M60.5 675.3L48.4 680.1M164.2 716.1L152.1 720.8M267.9 756.9L255.8 761.6M371.6 797.6L359.5 802.4M475.3 838.4L463.2 843.2M579.0 879.2L566.9 884.0M1039.4 698.0L1051.5 702.8M924.3 743.3L936.4 748.1M809.2 788.6L821.3 793.4M694.1 833.9L706.2 838.7M579.0 879.2L591.1 884.0M60.5 675.3L48.4 670.5M60.5 607.3L48.4 602.5M60.5 539.3L48.4 534.5M60.5 471.3L48.4 466.5M60.5 403.3L48.4 398.5M60.5 335.3L48.4 330.5M60.5 267.3L48.4 262.5" fill="none" stroke="#000" stroke-width="1.45"/>
<g font-family="'Liberation Sans', Arial, sans-serif" font-size="23" fill="#000"><text x="39.2" y="704.6" text-anchor="end">0</text><text x="142.9" y="745.4" text-anchor="end">0.2</text><text x="246.6" y="786.2" text-anchor="end">0.4</text><text x="350.3" y="826.9" text-anchor="end">0.6</text><text x="454.0" y="867.7" text-anchor="end">0.8</text><text x="557.7" y="908.5" text-anchor="end">1</text><text x="1057.7" y="726.4">2</text><text x="942.6" y="771.7">4</text><text x="827.5" y="817.0">6</text><text x="712.4" y="862.3">8</text><text x="597.3" y="907.6">10</text><text x="39.7" y="675.6" text-anchor="end">0</text><text x="39.7" y="607.6" text-anchor="end">2</text><text x="39.7" y="539.6" text-anchor="end">4</text><text x="39.7" y="471.6" text-anchor="end">6</text><text x="39.7" y="403.6" text-anchor="end">8</text><text x="39.7" y="335.6" text-anchor="end">10</text><text x="39.7" y="267.6" text-anchor="end">12</text><text x="60.6" y="212.8">x 10</text><text x="106.2" y="189.6" font-size="15.5">4</text><text x="1099.7" y="731.8">x 10</text><text x="1144.6" y="708.8" font-size="15.5">-4</text></g>
<g font-family="'Liberation Serif', 'Times New Roman', serif" fill="#000"><text x="7.5" y="140.2" font-size="31" font-style="italic">L</text><text x="24.5" y="146.5" font-size="25" font-style="italic" textLength="47.5" lengthAdjust="spacingAndGlyphs">max</text><text x="163.5" y="848" font-size="29" font-style="italic" text-anchor="middle">&#946;</text><path d="M138.8 861.5H190.2" stroke="#000" stroke-width="1.8"/><text x="139.5" y="891.5" font-size="29" font-style="italic">&#945;C</text><text x="176.5" y="897.5" font-size="21">0</text><text x="939.5" y="840.5" font-size="29" font-style="italic" text-anchor="middle">&#964;</text><path d="M919.6 855.2H962.3" stroke="#000" stroke-width="1.8"/><text x="920" y="885" font-size="29" font-style="italic">V</text><text x="937.5" y="891.5" font-size="25" font-style="italic">at</text><text x="452.0" y="39.8" font-size="44" font-style="italic">k</text><path d="M492.6 22.2H518.2M492.6 30.6H518.2" stroke="#000" stroke-width="2.2"/><text x="536.8" y="39.8" font-size="44" textLength="149.6" lengthAdjust="spacingAndGlyphs">0.00015</text></g>
<g transform="translate(142.1 560.0) rotate(-21.5) scale(1.80 0.80)" fill="#e8c8c8" stroke="#e8c8c8" stroke-width="0.7" stroke-linejoin="round" font-family="'Liberation Sans', Arial, sans-serif" font-weight="bold" font-size="19.6"><text x="0" y="0" textLength="121.7" lengthAdjust="spacing">Geometrical</text><text x="18.6" y="26.6" textLength="107.2" lengthAdjust="spacing">restriction</text></g><g transform="translate(141.5 559.0) rotate(-21.5) scale(1.80 0.80)" fill="#fff" stroke="#fff" stroke-width="0.7" stroke-linejoin="round" font-family="'Liberation Sans', Arial, sans-serif" font-weight="bold" font-size="19.6"><text x="0" y="0" textLength="121.7" lengthAdjust="spacing">Geometrical</text><text x="18.6" y="26.6" textLength="107.2" lengthAdjust="spacing">restriction</text></g>
<g font-family="'Liberation Serif', 'Times New Roman', serif" fill="#000"><path d="M858.2 259.0L806.4 279.6L754.6 565.9" fill="none" stroke="#000" stroke-width="1.6"/><path d="M752.4 578.2L750.0 560.0L754.6 565.9L761.0 562.0z" fill="#000"/><rect x="858.2" y="208.6" width="275.1" height="99.4" fill="#fff" stroke="#000" stroke-width="1.5"/><text x="897.7" y="248.4" font-size="31" textLength="55.9" lengthAdjust="spacingAndGlyphs">(0.5;</text><text x="967.5" y="248.4" font-size="31" textLength="115.1" lengthAdjust="spacingAndGlyphs">0.00025)</text><text x="871.4" y="288.6" font-size="31.5" font-style="italic">L</text><text x="887.4" y="294.8" font-size="25" font-style="italic" textLength="45" lengthAdjust="spacingAndGlyphs">max</text><path d="M949.7 274.0H968.6M949.7 281.0H968.6" stroke="#000" stroke-width="1.9"/><text x="979.9" y="288.6" font-size="31" textLength="86.3" lengthAdjust="spacingAndGlyphs">6931.5</text><text x="1076.0" y="288.6" font-size="31" font-style="italic" textLength="38.7" lengthAdjust="spacingAndGlyphs">&#956;m</text></g>
<text x="9.0" y="45.2" font-family="'Liberation Sans', Arial, sans-serif" font-weight="bold" font-size="52">A</text>
</g>
<g transform="translate(1334.6 0.0)">
<path d="M60.5 675.3L578.4 471.4M578.4 471.4L1096.9 675.3M60.5 607.3L578.4 403.4M578.4 403.4L1096.9 607.3M60.5 539.3L578.4 335.4M578.4 335.4L1096.9 539.3M60.5 471.3L578.4 267.4M578.4 267.4L1096.9 471.3M60.5 403.3L578.4 199.4M578.4 199.4L1096.9 403.3M60.5 335.3L578.4 131.4M578.4 131.4L1096.9 335.3M60.5 267.3L578.4 63.4M578.4 63.4L1096.9 267.3M520.9 494.1L520.9 86.1M520.9 494.1L1039.4 698.0M405.8 539.4L405.8 131.4M405.8 539.4L924.3 743.3M290.7 584.7L290.7 176.7M290.7 584.7L809.2 788.6M175.6 630.0L175.6 222.0M175.6 630.0L694.1 833.9M60.5 675.3L60.5 267.3M60.5 675.3L579.0 879.2M578.4 471.4L578.4 63.4M578.4 471.4L60.5 675.3M682.1 512.2L682.1 104.2M682.1 512.2L164.2 716.1M785.8 553.0L785.8 145.0M785.8 553.0L267.9 756.9M889.5 593.8L889.5 185.8M889.5 593.8L371.6 797.6M993.2 634.6L993.2 226.6M993.2 634.6L475.3 838.4M1096.9 675.3L1096.9 267.3M1096.9 675.3L579.0 879.2" fill="none" stroke="#000" stroke-width="1.75" stroke-dasharray="2.5 6.8"/>
<clipPath id="cbB"><path d="M1003.1 632.9l2.1 .8 -.4 43.5 -.8 16.9 -.9 5.7 -1.6 4 -2.4 2.9 -4.2 2.9 -16 7.4 -40.4 16.4 -358.9 141.4 -251.3 -101.8 -86.8 -36 -65 -27.7 -45 -20.1 -31 -15.2 -10.7 -5.9 -8.2 -5.2 -6 -4.6 -4.2 -4.4 61.6 -27.8 52.4 -24.8 45.1 -22.6 38.3 -20.7 32.7 -19.5 28.6 -19.1 23.6 -18.2 21.4 -19.3 15 -3.6 15.6 -2.7 12.9 -1.5 16 -.9 19.3 .3 17.5 1.3 21 2.6 18.6 3.1 23.2 4.5 24.9 5.6 34.4 8.7 27.6 7.7 72.9 21.6 80.9 25.9 98.8 33.2 128.3 44.9z"/></clipPath>
<g opacity="0.70" clip-path="url(#cbB)">
<path d="M584.8 125.4l4.2 22.4 6.1 19.6 8.2 17.9 10.9 17.4 14 17.4 17.2 17.3 20.8 17.7 24.7 18.4 30.3 20.3 35.7 21.8 40.7 23.2 46.5 25 53.3 27.3 59.1 29.1 66.2 31.7 74.1 34.5 -7.1 23.7 -7.7 21.2 -8.9 20.1 -10 18.6 -11 17.1 -12.9 17 -14 15.7 -15.9 15.3 -.5 64.5 -.9 6.3 -2.2 3 -8.4 4.3 -27.8 11.2 -389.5 153.4 -258.5 -104.8 -88.5 -36.8 -65.2 -27.8 -44.8 -20.2 -29.5 -14.6 -10.1 -5.8 -7.6 -5.1 -5.4 -4.6 -3.7 -4.5 73.2 -33.4 60.6 -29.3 50.3 -26.5 42.1 -24.6 19.5 -12.7 17.6 -12.5 19 -14.9 16.8 -15 25.6 -17.8 22.6 -17 26.7 -22.4 22.9 -22.2 12.2 -13.3 11.2 -13.5 10.6 -13.9 9.7 -14.2 9 -14.7 8.6 -15.5 8 -16.2 7.4 -16.9 6.9 -17.8 6.1 -18 6.3 -20.5 5.3 -20.1 10.1 -45.5 8.5 -50.3z" fill="#000083"/>
<path d="M584.8 125.4l4.2 22.4 6.1 19.6 8.2 17.9 10.9 17.4 14 17.4 17.2 17.3 20.8 17.7 24.7 18.4 30.3 20.3 35.7 21.8 40.7 23.2 46.5 25 53.3 27.3 59.1 29.1 66.2 31.7 74.1 34.5 -7.1 23.7 -7.7 21.2 -8.9 20.1 -10 18.6 -11 17.1 -12.9 17 -14 15.7 -15.9 15.3 -.4 61.3 -.5 7.4 -1.1 3.4 -80.1 7.7 -78.3 8.3 -80.6 9.5 -78.9 10.2 -79 11 -79.8 12.1 -79.9 13 -80.3 14 -136.4 -56.3 -89.1 -38.4 -29.1 -13.4 -21.2 -10.7 -14.6 -8.6 -9.2 -7.1 -4.1 -4.9 77.3 -35.3 63.5 -31 51.5 -27.5 22.6 -13.1 20.5 -12.8 30.8 -21.5 17.5 -13.9 15.4 -13.8 27.7 -19.2 23.6 -18 26 -22.2 22.8 -22.4 11.7 -13 11 -13.4 10.3 -13.7 9.5 -14.2 9.3 -15.2 8.2 -15.1 7.6 -15.6 7.1 -16.3 6.6 -17.1 6.4 -18.8 11.3 -39.8 10.1 -45.5 8.5 -50.3z" fill="#00008a"/>
<path d="M584.8 125.4l4.2 22.4 6.1 19.6 8.2 17.9 10.9 17.4 14 17.4 17.2 17.3 20.8 17.7 24.7 18.4 30.3 20.3 35.7 21.8 40.7 23.2 46.5 25 53.3 27.3 59.1 29.1 66.2 31.7 74.1 34.5 -7.1 23.7 -7.7 21.2 -8.9 20.1 -10 18.6 -11 17.1 -12.9 17 -14 15.7 -15.9 15.3 -.2 55 -.8 14.4 -100.9 -3.5 -99.5 -1.1 -95.7 1.1 -95.9 3.5 -94.2 5.7 -92.6 8 -92.6 10.5 -91.6 12.7 -75.5 -32.1 -51.2 -23.1 -31.2 -16 -9.8 -6.2 -6.8 -5.5 -4.1 -4.9 77.3 -35.3 63.5 -31 51.5 -27.5 22.6 -13.1 20.5 -12.8 30.8 -21.5 17.5 -13.9 15.4 -13.8 27.7 -19.2 23.6 -18 26 -22.2 22.8 -22.4 11.7 -13 11 -13.4 10.3 -13.7 9.5 -14.2 9.3 -15.2 8.2 -15.1 7.6 -15.6 7.1 -16.3 6.6 -17.1 6.4 -18.8 11.3 -39.8 10.1 -45.5 8.5 -50.3z" fill="#000091"/>
<path d="M584.8 125.4l4.2 22.4 6.1 19.6 8.2 17.9 10.9 17.4 14 17.4 17.2 17.3 20.8 17.7 24.7 18.4 30.3 20.3 35.7 21.8 40.7 23.2 46.5 25 53.3 27.3 59.1 29.1 66.2 31.7 74.1 34.5 -7.1 23.7 -7.7 21.2 -8.9 20.1 -10 18.6 -11 17.1 -12.9 17 -14 15.7 -15.9 15.3 -.7 66.8 -58.4 -6.6 -57.9 -5.8 -57.6 -4.9 -55.9 -3.9 -55.2 -2.9 -52.7 -1.9 -53.8 -1 -51.4 .1 -50.9 .9 -49.6 1.9 -49.2 2.9 -49.7 3.8 -47.7 4.7 -49.5 5.9 -47.9 6.7 -50.2 8 -40.5 -18.1 -29.1 -14 -19.2 -10.6 -6.5 -4.5 -4.9 -4.1 -4.1 -4.9 77.3 -35.3 63.5 -31 51.5 -27.5 22.6 -13.1 20.5 -12.8 30.8 -21.5 17.5 -13.9 15.4 -13.8 27.7 -19.2 23.6 -18 26 -22.2 22.8 -22.4 11.7 -13 11 -13.4 10.3 -13.7 9.5 -14.2 9.3 -15.2 8.2 -15.1 7.6 -15.6 7.1 -16.3 6.6 -17.1 6.4 -18.8 11.3 -39.8 10.1 -45.5 8.5 -50.3z" fill="#000098"/>
<path d="M584.8 125.4l4.2 22.4 6.1 19.6 8.2 17.9 10.9 17.4 14 17.4 17.2 17.3 20.8 17.7 24.7 18.4 30.3 20.3 35.7 21.8 40.7 23.2 46.5 25 53.3 27.3 59.1 29.1 66.2 31.7 74.1 34.5 -7.1 23.7 -7.7 21.2 -8.9 20.1 -10 18.6 -11 17.1 -12.9 17 -14 15.7 -15.9 15.3 -.5 64.4 -67.5 -10.9 -65.1 -9.5 -61.1 -7.8 -60.6 -6.7 -57.8 -5.2 -57.2 -3.9 -55.8 -2.6 -52.9 -1.2 -52.8 .1 -51.7 1.4 -50.6 2.8 -49.4 4 -48.5 5.3 -49.9 6.8 -50.7 8.4 -50.2 9.6 -21.3 -10.2 -15.9 -8.4 -11.3 -6.9 -7.7 -6.1 -4.1 -4.9 77.3 -35.3 63.5 -31 51.5 -27.5 22.6 -13.1 20.5 -12.8 30.8 -21.5 17.5 -13.9 15.4 -13.8 27.7 -19.2 23.6 -18 26 -22.2 22.8 -22.4 11.7 -13 11 -13.4 10.3 -13.7 9.5 -14.2 9.3 -15.2 8.2 -15.1 7.6 -15.6 7.1 -16.3 6.6 -17.1 6.4 -18.8 11.3 -39.8 10.1 -45.5 8.5 -50.3z" fill="#00009f"/>
<path d="M584.8 125.4l4.2 22.4 6.1 19.6 8.2 17.9 10.9 17.4 14 17.4 17.2 17.3 20.8 17.7 24.7 18.4 30.3 20.3 35.7 21.8 40.7 23.2 46.5 25 53.3 27.3 59.1 29.1 66.2 31.7 74.1 34.5 -7.1 23.7 -7.7 21.2 -8.9 20.1 -10 18.6 -11 17.1 -12.9 17 -14 15.7 -15.9 15.3 -.4 62 -66.2 -13 -64.4 -11.6 -61.1 -10 -58.5 -8.5 -57.3 -7.2 -55.6 -5.7 -54.1 -4.3 -50 -2.7 -57.2 -1.5 -57.4 .4 -54.7 2.4 -54.2 4.3 -54.2 6.3 -53.8 8.4 -54.3 10.5 -55 12.6 -18.7 -10.5 -6.5 -4.4 -4.9 -4.1 -4.1 -4.9 77.3 -35.3 63.5 -31 51.5 -27.5 22.6 -13.1 20.5 -12.8 30.8 -21.5 17.5 -13.9 15.4 -13.8 27.7 -19.2 23.6 -18 26 -22.2 22.8 -22.4 11.7 -13 11 -13.4 10.3 -13.7 9.5 -14.2 9.3 -15.2 8.2 -15.1 7.6 -15.6 7.1 -16.3 6.6 -17.1 6.4 -18.8 11.3 -39.8 10.1 -45.5 8.5 -50.3z" fill="#0000a7"/>
<path d="M584.8 125.4l4.2 22.4 6.1 19.6 8.2 17.9 10.9 17.4 14 17.4 17.2 17.3 20.8 17.7 24.7 18.4 30.3 20.3 35.7 21.8 40.7 23.2 46.5 25 53.3 27.3 59.1 29.1 66.2 31.7 74.1 34.5 -7.1 23.7 -7.7 21.2 -8.9 20.1 -10 18.6 -11 17.1 -12.9 17 -14 15.7 -15.9 15.3 -.3 59.6 -75.3 -16.6 -71.1 -14.5 -67 -12.4 -64.5 -10.5 -60 -8.4 -58.7 -6.7 -55.3 -4.8 -53.8 -2.9 -45.4 -1.1 -44.3 .4 -43.4 1.8 -42.3 3.2 -30.1 3.2 -29.3 3.9 -29.4 4.6 -29.5 5.3 -60.3 13.1 -63.9 16.7 -8.6 -5.5 -6 -5 -4.1 -4.9 77.3 -35.3 63.5 -31 51.5 -27.5 22.6 -13.1 20.5 -12.8 30.8 -21.5 17.5 -13.9 15.4 -13.8 27.7 -19.2 23.6 -18 26 -22.2 22.8 -22.4 11.7 -13 11 -13.4 10.3 -13.7 9.5 -14.2 9.3 -15.2 8.2 -15.1 7.6 -15.6 7.1 -16.3 6.6 -17.1 6.4 -18.8 11.3 -39.8 10.1 -45.5 8.5 -50.3z" fill="#0000ae"/>
<path d="M584.8 125.4l4.2 22.4 6.1 19.6 8.2 17.9 10.9 17.4 14 17.4 17.2 17.3 20.8 17.7 24.7 18.4 30.3 20.3 35.7 21.8 40.7 23.2 46.5 25 53.3 27.3 59.1 29.1 66.2 31.7 74.1 34.5 -7.1 23.7 -7.7 21.2 -8.9 20.1 -10 18.6 -11 17.1 -12.9 17 -14 15.7 -15.9 15.3 -.3 57.2 -80.9 -19.4 -75.7 -16.8 -72.3 -14.6 -66.1 -11.8 -62.6 -9.6 -60.8 -7.6 -57.7 -5.2 -52.5 -2.9 -49.3 -.8 -46.5 1.1 -45.7 3 -44.9 5 -51.3 8.1 -52.5 10.8 -54.8 14 -59.2 17.4 -5.4 -4.5 -4.1 -4.9 77.3 -35.3 63.5 -31 51.5 -27.5 22.6 -13.1 20.5 -12.8 30.8 -21.5 17.5 -13.9 15.4 -13.8 27.7 -19.2 23.6 -18 26 -22.2 22.8 -22.4 11.7 -13 11 -13.4 10.3 -13.7 9.5 -14.2 9.3 -15.2 8.2 -15.1 7.6 -15.6 7.1 -16.3 6.6 -17.1 6.4 -18.8 11.3 -39.8 10.1 -45.5 8.5 -50.3z" fill="#0000b5"/>
<path d="M584.8 125.4l4.2 22.4 6.1 19.6 8.2 17.9 10.9 17.4 14 17.4 17.2 17.3 20.8 17.7 24.7 18.4 30.3 20.3 35.7 21.8 40.7 23.2 46.5 25 53.3 27.3 59.1 29.1 66.2 31.7 74.1 34.5 -7.1 23.7 -7.7 21.2 -8.9 20.1 -10 18.6 -11 17.1 -12.9 17 -14 15.7 -15.9 15.3 -.2 54.8 -85.2 -21.7 -80 -19 -75.3 -16.2 -68.2 -13.1 -65.4 -10.7 -60.1 -8 -56.8 -5.4 -52.7 -2.9 -50.3 -.5 -47.2 1.7 -46.2 4.1 -46.2 6.4 -47 9 -48.2 11.6 -51.6 14.7 -57.9 18.6 -4.1 -4.9 76.8 -35.1 63.2 -30.8 52.1 -27.8 21.8 -12.6 20.5 -12.7 30.8 -21.4 17.4 -13.8 16.5 -14.7 27.7 -19.2 23.6 -18 26 -22.2 22.8 -22.4 11.7 -13 11 -13.4 10.3 -13.7 9.5 -14.2 9.3 -15.2 8.2 -15.1 7.6 -15.6 7.1 -16.3 6.6 -17.1 6.4 -18.8 11.3 -39.8 10.1 -45.5 8.5 -50.3z" fill="#0000bc"/>
<path d="M584.8 125.4l4.2 22.4 6.1 19.6 8.2 17.9 10.9 17.4 14 17.4 17.2 17.3 20.8 17.7 24.7 18.4 30.3 20.3 35.7 21.8 40.7 23.2 46.5 25 53.3 27.3 59.1 29.1 66.2 31.7 74.1 34.5 -7.1 23.7 -7.7 21.2 -8.9 20.1 -10 18.6 -11 17.1 -12.9 17 -14 15.7 -15.9 15.3 -.2 52.4 -88.5 -23.7 -82.4 -20.5 -75 -17.2 -70.8 -14.4 -64.2 -11.3 -61 -8.6 -55.5 -5.7 -52.9 -3.2 -48 -.4 -45.7 1.9 -45.7 4.4 -44.7 7 -46 9.7 -48.3 12.7 -53.2 16.2 -59.6 20.4 -.9 -1.2 79.7 -36.4 65.4 -32.1 45.2 -24.1 37.9 -22.5 18.7 -12.2 17.3 -12.3 18.4 -14.6 16.5 -14.7 25.6 -17.8 22.6 -17 26.7 -22.4 23.4 -22.7 12 -13.2 11.2 -13.4 10.5 -14 9.8 -14.2 9 -14.8 8.6 -15.6 7.9 -16.1 7.2 -16.4 6.9 -17.8 6.1 -18 6.3 -20.5 5.3 -20.1 10.1 -45.5 8.5 -50.3z" fill="#0000c3"/>
<path d="M584.8 125.4l4.2 22.4 6.1 19.6 8.2 17.9 10.9 17.4 14 17.4 17.2 17.3 20.8 17.7 24.7 18.4 30.3 20.3 35.7 21.8 40.7 23.2 46.5 25 53.3 27.3 59.1 29.1 66.2 31.7 74.1 34.5 -7.1 23.7 -7.7 21.2 -8.9 20.1 -10 18.6 -11 17.1 -12.9 17 -14 15.7 -15.9 15.3 -.2 50 -88.8 -24.7 -82.5 -21.5 -76.3 -18.3 -68.7 -14.9 -63.2 -11.9 -58 -9.1 -55.4 -6.5 -50.3 -3.6 -45.8 -1 -44.5 1.4 -42.8 3.8 -42.6 6.4 -43.4 9.1 -45.4 11.9 -50.1 15.5 -57.5 19.8 65.6 -30.5 55.5 -27.5 46.2 -24.8 39.1 -23.6 31.7 -21.9 17.4 -13.8 16.5 -14.7 27.7 -19.2 23.6 -18 27.1 -23.2 23.6 -23.5 11.6 -13 10.8 -13.3 10 -13.6 9.4 -14.2 8.8 -14.6 8.1 -15.1 7.6 -15.7 7.2 -16.7 6.9 -18.3 6.1 -18.1 11.1 -39.2 9.6 -43.8 8.5 -50.3z" fill="#0000ca"/>
<path d="M584.8 125.4l4.2 22.4 6.1 19.6 8.2 17.9 10.9 17.4 14 17.4 17.2 17.3 20.8 17.7 24.7 18.4 30.3 20.3 35.7 21.8 40.7 23.2 46.5 25 53.3 27.3 59.1 29.1 66.2 31.7 74.1 34.5 -7.1 23.7 -7.7 21.2 -8.9 20.1 -10 18.6 -11 17.1 -12.9 17 -14 15.7 -15.9 15.3 -.2 47.6 -87 -25 -81.1 -21.9 -73.6 -18.6 -67.8 -15.6 -62.8 -12.8 -57 -9.7 -53 -7.2 -48.1 -4.3 -43.7 -1.9 -42.7 .5 -40.8 2.9 -40 5.4 -40.5 7.9 -42 10.6 -46 13.8 -52.7 17.9 56.9 -27.2 48.2 -24.7 40.5 -22.7 34.4 -21.6 16.1 -11.3 14.1 -10.6 12.9 -10.7 12.4 -11.2 30.8 -21.5 26.3 -20.4 27 -23.9 12.4 -12.2 11.5 -12.5 10.9 -12.8 10.1 -13.1 9.6 -13.6 8.9 -13.9 7.9 -13.7 7.9 -15.2 7.4 -15.9 6.8 -16.6 12.4 -35.4 10.5 -38.5 9.1 -42.2 8.2 -48.4z" fill="#0000d1"/>
<path d="M584.8 125.4l4.2 22.4 6.1 19.6 8.2 17.9 10.9 17.4 14 17.4 17.2 17.3 20.8 17.7 24.7 18.4 30.3 20.3 35.7 21.8 40.7 23.2 46.5 25 53.3 27.3 59.1 29.1 66.2 31.7 74.1 34.5 -7.1 23.7 -7.7 21.2 -8.9 20.1 -10 18.6 -11 17.1 -12.9 17 -14 15.7 -15.9 15.3 -.2 45.2 -85.7 -25.2 -80.1 -22.5 -72.5 -19 -66.3 -16 -60.6 -13 -56.3 -10.5 -52.9 -7.9 -47.3 -5 -42.4 -2.5 -40.5 -.1 -38.3 2.2 -37.4 4.4 -37.7 6.9 -38.9 9.4 -42.9 12.6 -48.5 16.2 49.1 -24.2 42.3 -22.4 35.5 -20.7 30.8 -20.1 25.4 -19.1 21.9 -19.1 33.4 -23.5 28.1 -22.1 14.4 -12.6 13.4 -12.6 12.3 -12.6 11.5 -12.9 19.6 -25.1 17.1 -26.4 8.2 -14.7 7.2 -14.2 13.5 -31.5 11.8 -34.5 10.3 -38.2 9.1 -42.5 7.8 -46.4z" fill="#0000d8"/>
<path d="M584.8 125.4l4.2 22.4 6.1 19.6 8.2 17.9 10.9 17.4 14 17.4 17.2 17.3 20.8 17.7 24.7 18.4 30.3 20.3 35.7 21.8 40.7 23.2 46.5 25 53.3 27.3 59.1 29.1 66.2 31.7 74.1 34.5 -7.1 23.7 -7.7 21.2 -8.9 20.1 -10 18.6 -11 17.1 -12.9 17 -14 15.7 -15.9 15.3 -.1 42.8 -85.4 -25.7 -79.5 -22.8 -71.9 -19.5 -65.9 -16.5 -62.5 -14 -52.9 -10.4 -49 -7.9 -45.9 -5.6 -41.3 -3 -37.9 -.8 -36.7 1.5 -36.2 3.7 -35.2 5.9 -36.8 8.5 -39.8 11.4 -45.7 15.1 42.7 -21.8 36.9 -20.3 32 -19.3 27.5 -18.6 21.6 -16.7 18.5 -16.4 34.9 -24.5 29.7 -23.7 14.9 -13.3 13.9 -13.4 12.4 -13.1 11.7 -13.6 18.8 -25 16.6 -26.5 14.8 -28.9 12.6 -30.5 11.1 -33.4 9.9 -36.7 8.6 -40.8 7.8 -46.4z" fill="#0000e0"/>
<path d="M584.8 125.4l4.2 22.4 6.1 19.6 8.2 17.9 10.9 17.4 14 17.4 17.2 17.3 20.8 17.7 24.7 18.4 30.3 20.3 35.7 21.8 40.7 23.2 46.5 25 53.3 27.3 59.1 29.1 66.2 31.7 74.1 34.5 -7.1 23.7 -7.7 21.2 -8.9 20.1 -10 18.6 -11 17.1 -12.9 17 -14 15.7 -15.9 15.3 -.1 40.5 -85.3 -26.3 -78.1 -22.9 -71.7 -19.9 -64.8 -16.8 -59.6 -14 -53.5 -11 -49.5 -8.6 -44 -5.9 -39.8 -3.4 -36.4 -1.3 -35.5 .9 -34.3 3.1 -33.9 5.4 -34.2 7.5 -37.2 10.4 -42.7 13.9 37 -19.5 32.8 -18.7 28.8 -18 24.5 -17.2 17.5 -13.9 16.5 -14.7 36.9 -26.1 16.4 -12.7 14.7 -12.4 14.9 -13.4 13.8 -13.7 12.9 -13.9 11.8 -14.2 17.8 -24.4 15.8 -26 13.9 -27.9 12.5 -30.7 10.5 -32.1 9.8 -36.9 8.6 -40.9 7.4 -44.5z" fill="#0000e7"/>
<path d="M584.8 125.4l4.2 22.4 6.1 19.6 8.2 17.9 10.9 17.4 14 17.4 17.2 17.3 20.8 17.7 24.7 18.4 30.3 20.3 35.7 21.8 40.7 23.2 46.5 25 53.3 27.3 59.1 29.1 66.2 31.7 74.1 34.5 -7.1 23.7 -7.7 21.2 -8.9 20.1 -10 18.6 -11 17.1 -12.9 17 -14 15.7 -15.9 15.3 -.1 38.1 -84.5 -26.4 -76.5 -23 -69.9 -19.9 -64.2 -17.1 -56.3 -13.8 -54.1 -11.8 -48.1 -9 -45.3 -6.6 -38.3 -3.9 -37.5 -1.8 -33.9 .4 -32.6 2.5 -31.9 4.6 -32.9 6.9 -35.2 9.6 -40.2 12.9 46 -25.5 20.1 -12.2 18.5 -12 28.7 -21 12.9 -10.6 11.8 -10.8 23.6 -16.3 19.5 -14.5 23.7 -19.3 21.5 -19.7 19.2 -20.1 17.3 -20.8 17.1 -24.2 15.1 -25.7 13.3 -27.4 12.1 -30.4 10.5 -32.6 9.3 -35.5 8.2 -39.4 7.3 -43.9z" fill="#0000ee"/>
<path d="M584.8 125.4l4.2 22.4 6.1 19.6 8.2 17.9 10.9 17.4 14 17.4 17.2 17.3 20.8 17.7 24.7 18.4 30.3 20.3 35.7 21.8 40.7 23.2 46.5 25 53.3 27.3 59.1 29.1 66.2 31.7 74.1 34.5 -7.1 23.7 -7.7 21.2 -8.9 20.1 -10 18.6 -11 17.1 -12.9 17 -14 15.7 -15.9 15.3 -.1 35.7 -84.3 -26.7 -77.4 -23.6 -69.4 -20.2 -63.6 -17.3 -57.9 -14.6 -52.1 -11.7 -47.5 -9.2 -41.9 -6.6 -37.4 -4.2 -36.3 -2.1 -32.8 0 -31.2 2 -30.9 4.2 -31.3 6.3 -33.3 8.9 -37.3 11.8 40.1 -23 33.8 -21.9 25.4 -19.1 21.9 -19.1 26.6 -18.5 22.9 -17.3 22.3 -18.7 20.7 -19.5 18.6 -20 16.8 -20.8 16.5 -24 14.7 -25.7 12.8 -27 11.6 -29.8 9.8 -31 9.2 -35.7 8.1 -39.3 7.1 -42.5z" fill="#0000f5"/>
<path d="M584.8 125.4l4.2 22.4 6.1 19.6 8.2 17.9 10.9 17.4 14 17.4 17.2 17.3 20.8 17.7 24.7 18.4 30.3 20.3 35.7 21.8 40.7 23.2 46.5 25 53.3 27.3 59.1 29.1 66.2 31.7 74.1 34.5 -7.1 23.7 -7.7 21.2 -8.9 20.1 -10 18.6 -11 17.1 -12.9 17 -14 15.7 -15.9 15.3 -.1 33.3 -83.5 -26.8 -75.7 -23.4 -69.2 -20.5 -63.4 -17.7 -55.3 -14.3 -50.9 -12 -47.2 -9.7 -43.1 -7.2 -38 -4.7 -33.9 -2.4 -31.5 -.5 -30.9 1.6 -29.7 3.6 -29.9 5.8 -31.8 8.2 -35.8 11.2 34.5 -20.5 28.9 -19.3 22.8 -17.3 20.2 -17.8 29.7 -20.7 25.7 -19.8 21.9 -18.9 19.6 -19 17.6 -19.6 16 -20.3 15.7 -23.4 13.9 -24.7 12.9 -27.8 11 -28.6 10 -31.8 8.9 -35.1 7.7 -37.6 7.1 -42.5z" fill="#0000fc"/>
<path d="M584.8 125.4l4.2 22.4 6.1 19.6 8.2 17.9 10.9 17.4 14 17.4 17.2 17.3 20.8 17.7 24.7 18.4 30.3 20.3 35.7 21.8 40.7 23.2 46.5 25 53.3 27.3 59.1 29.1 66.2 31.7 74.1 34.5 -7.1 23.7 -7.7 21.2 -8.9 20.1 -10 18.6 -11 17.1 -12.9 17 -14 15.7 -15.9 15.3 -.1 30.9 -83.5 -27.1 -75.8 -23.8 -68.2 -20.5 -62.4 -17.7 -56.2 -14.9 -50.7 -12.2 -46.8 -10 -41 -7.1 -37 -5 -33.2 -2.7 -31.2 -.8 -29.6 1.3 -28.1 3.2 -28.6 5.2 -30.3 7.7 -34.1 10.5 28.6 -17.5 25.7 -17.6 20.5 -15.9 18.5 -16.4 32.8 -23 27.7 -21.8 21.3 -18.7 18.7 -18.7 17 -19.4 15.4 -20.1 15.5 -23.6 13.6 -24.9 12.2 -26.8 10.5 -27.9 10 -32.3 8.5 -33.8 7.8 -38.3 6.7 -40.5z" fill="#0004ff"/>
<path d="M584.8 125.4l4.2 22.4 6.1 19.6 8.2 17.9 10.9 17.4 14 17.4 17.2 17.3 20.8 17.7 24.7 18.4 30.3 20.3 35.7 21.8 40.7 23.2 46.5 25 53.3 27.3 59.1 29.1 66.2 31.7 74.1 34.5 -7.1 23.7 -7.7 21.2 -8.9 20.1 -10 18.6 -11 17.1 -12.9 17 -14 15.7 -15.9 15.3 -.1 28.5 -83.1 -27.2 -75.5 -24 -69.2 -21.1 -61.8 -17.8 -55.4 -15 -51.4 -12.7 -44.6 -9.7 -41.3 -7.6 -35.8 -5 -32.3 -3 -30.4 -1 -28.7 1 -27.6 2.9 -27.2 4.8 -28.6 7.1 -32 9.8 25 -15.9 21.6 -15.2 18.4 -14.6 16.5 -14.7 34.9 -24.5 29.7 -23.7 20.4 -18.5 18.5 -18.7 16.6 -19.3 15 -20.2 14.7 -22.9 13.4 -24.8 11.6 -25.7 10.7 -29 9.5 -30.9 8.3 -33.3 7.7 -37.8 6.7 -40.5z" fill="#000bff"/>
<path d="M584.8 125.4l4.2 22.4 6.1 19.6 8.2 17.9 10.9 17.4 14 17.4 17.2 17.3 20.8 17.7 24.7 18.4 30.3 20.3 35.7 21.8 40.7 23.2 46.5 25 53.3 27.3 59.1 29.1 66.2 31.7 74.1 34.5 -7.1 23.7 -7.7 21.2 -8.9 20.1 -10 18.6 -11 17.1 -12.9 17 -14 15.7 -15.9 15.3 -.1 26.2 -82.3 -27.3 -74.9 -24 -68.3 -21.1 -61.4 -18.1 -55.5 -15.3 -51.8 -13.1 -43.2 -9.7 -40.1 -7.7 -36.6 -5.5 -30.4 -3.1 -30.1 -1.4 -27.4 .6 -26.7 2.5 -26.8 4.5 -27.8 6.6 -31 9.3 20.5 -13.5 18.2 -13 17.1 -13.7 15.1 -13.6 36.9 -26.1 16.4 -12.8 15.4 -12.9 19.6 -18 18 -18.8 16.1 -19.1 14.7 -19.9 14.1 -22.6 13 -24.5 11.7 -26.4 10.1 -27.7 9.2 -30 8.5 -34.5 7.3 -36 6.7 -40.5z" fill="#0012ff"/>
<path d="M584.8 125.4l4.2 22.4 6.1 19.6 8.2 17.9 10.9 17.4 14 17.4 17.2 17.3 20.8 17.7 24.7 18.4 30.3 20.3 35.7 21.8 40.7 23.2 46.5 25 53.3 27.3 59.1 29.1 66.2 31.7 74.1 34.5 -7.1 23.7 -7.7 21.2 -8.9 20.1 -10 18.6 -11 17.1 -12.9 17 -14 15.7 -15.9 15.3 -.1 23.8 -82.7 -27.6 -75.2 -24.4 -67 -20.9 -61 -18.2 -58.2 -16.3 -48.6 -12.5 -43.2 -10 -38.7 -7.6 -34.4 -5.5 -31.6 -3.6 -29.3 -1.5 -27.3 .3 -25.5 2.1 -26.1 4.2 -26.7 6.3 -29.2 8.7 16.5 -11.3 15 -11 15.4 -12.4 14.4 -13 21.5 -14.8 18.5 -13.6 17.1 -13.5 15.6 -13.4 18.7 -17.6 17.7 -18.7 15.5 -18.9 14.2 -19.7 13.8 -22.4 12.6 -24.2 11.3 -25.9 10.3 -28.3 8.8 -29.5 8.1 -32.8 7.3 -36 6.7 -40.5z" fill="#001aff"/>
<path d="M584.8 125.4l4.2 22.4 6.1 19.6 8.2 17.9 10.9 17.4 14 17.4 17.2 17.3 20.8 17.7 24.7 18.4 30.3 20.3 35.7 21.8 40.7 23.2 46.5 25 53.3 27.3 59.1 29.1 66.2 31.7 74.1 34.5 -7.1 23.7 -7.7 21.2 -8.9 20.1 -10 18.6 -11 17.1 -12.9 17 -14 15.7 -15.9 15.3 0 21.4 -156.7 -52 -67.2 -21.2 -61.4 -18.5 -55.5 -15.8 -49.6 -13.1 -43.9 -10.4 -38.2 -7.8 -34.1 -5.6 -31.1 -3.7 -27.9 -1.8 -26.5 .1 -24.9 1.9 -24.8 3.8 -25.8 5.8 -28.5 8.4 29 -21.3 12.3 -10.3 11.3 -10.3 24.6 -17 20.5 -15.4 15.4 -12.4 14.5 -12.5 18.5 -17.7 17.5 -18.9 15.4 -19 14.1 -19.8 13.5 -22.4 12.2 -23.9 10.8 -25 10.1 -27.9 9 -30.2 8 -33 7.3 -36.1 6.3 -38.6z" fill="#0021ff"/>
<path d="M584.8 125.4l4.2 22.4 6.1 19.6 8.2 17.9 10.9 17.4 14 17.4 17.2 17.3 20.8 17.7 24.7 18.4 30.3 20.3 35.7 21.8 40.7 23.2 46.5 25 53.3 27.3 59.1 29.1 66.2 31.7 74.1 34.5 -6 20.3 -6.4 18.4 -7 17.1 -7.8 16.1 -11.9 20.5 -14 19.7 -16.2 18.8 -18.2 17.8 0 19 -156.4 -52.2 -67.1 -21.4 -61.5 -18.8 -53.7 -15.5 -48.7 -13.1 -44.6 -10.8 -38.4 -8.1 -33 -5.7 -30.4 -3.8 -28.4 -2 -26 -.2 -24.6 1.8 -23.9 3.5 -24.8 5.5 -26.7 7.7 24.1 -18.2 20.6 -18.1 25.6 -17.8 21.6 -16.2 16 -13 14.8 -13 18.3 -17.9 16.8 -18.4 15 -18.8 13.8 -19.8 13.5 -22.7 11.9 -23.6 10.8 -25.6 9.7 -27.4 8.7 -29.6 7.7 -31.8 7.2 -35.6 6.3 -38.6z" fill="#0028ff"/>
<path d="M584.8 125.4l4.2 22.4 6.1 19.6 8.2 17.9 10.9 17.4 14 17.4 17.2 17.3 20.8 17.7 24.7 18.4 30.3 20.3 35.7 21.8 40.7 23.2 46.5 25 53.3 27.3 59.1 29.1 66.2 31.7 74.1 34.5 -6 20.3 -6.4 18.6 -7.5 17.9 -7.9 16.3 -12.3 20.8 -13.7 19 -15.5 18 -18.2 17.8 0 16.6 -155.6 -52.3 -66.4 -21.4 -59.2 -18.3 -53.7 -15.7 -48.5 -13.3 -44.8 -11.2 -37 -8 -33.8 -6.2 -30 -4.1 -27.7 -2.3 -26.1 -.4 -24.2 1.4 -23.3 3.2 -24.1 5.2 -26.5 7.5 19.9 -15.5 17.5 -15.6 26.4 -18.3 22.8 -17.3 16.4 -13.5 14.4 -12.8 18.3 -18 16.5 -18.4 14.9 -18.9 13.5 -19.8 12.9 -21.8 11.6 -23.2 10.9 -25.9 9.4 -27 8.5 -28.9 8 -33.2 6.9 -34.5 6.3 -38.3z" fill="#002fff"/>
<path d="M584.8 125.4l4.2 22.4 6.1 19.6 8.2 17.9 10.9 17.4 14 17.4 17.2 17.3 20.8 17.7 24.7 18.4 30.3 20.3 35.7 21.8 40.7 23.2 46.5 25 53.3 27.3 59.1 29.1 66.2 31.7 74.1 34.5 -6 20.3 -6.8 19.4 -7.5 18 -8.4 16.9 -12 20.2 -13.7 18.9 -15.5 17.9 -17.6 17.1 0 14.2 -155.9 -52.7 -66.4 -21.5 -58.9 -18.4 -54.7 -16.2 -48 -13.3 -41.7 -10.6 -37.9 -8.5 -33.6 -6.3 -30.2 -4.3 -26.7 -2.3 -24.9 -.6 -23.2 1.1 -23.2 3 -23.3 4.9 -25.6 7.2 16.3 -13.1 14.4 -13 27.7 -19.2 23.1 -17.6 16 -13.3 15.3 -13.8 18 -17.9 16.2 -18.3 14.8 -19.1 13.4 -19.8 12.9 -22.3 11.5 -23.4 10.3 -25 9.3 -26.8 8.4 -29 7.6 -31.5 6.9 -34.5 6.3 -38.3z" fill="#0036ff"/>
<path d="M584.8 125.4l4.2 22.4 6.1 19.6 8.2 17.9 10.9 17.4 14 17.4 17.2 17.3 20.8 17.7 24.7 18.4 30.3 20.3 35.7 21.8 40.7 23.2 46.5 25 53.3 27.3 59.1 29.1 66.2 31.7 74.1 34.5 -6.3 21.3 -6.9 19.5 -7.5 17.9 -8.4 16.8 -12.1 20 -13.3 18.4 -15.4 17.7 -17.6 17.1 0 11.9 -155.9 -53.1 -65.7 -21.5 -59.6 -18.7 -54.5 -16.3 -49.2 -13.8 -42.2 -10.8 -36.4 -8.3 -31.9 -6.1 -30 -4.4 -26.2 -2.5 -24.4 -.7 -23 1 -22.1 2.8 -22.5 4.6 -24.4 6.8 12.7 -10.5 11.8 -10.8 27.8 -19.4 24.2 -18.4 16.7 -14 15.4 -14 17.7 -17.8 16.1 -18.4 14.5 -18.9 13.1 -19.8 12.6 -21.9 11.4 -23.4 10.3 -25.1 9.2 -26.9 8.4 -29.2 7.5 -31.6 6.8 -34.4 6 -36.6z" fill="#003dff"/>
<path d="M584.8 125.4l4.2 22.4 6.1 19.6 8.2 17.9 10.9 17.4 14 17.4 17.2 17.3 20.8 17.7 24.7 18.4 30.3 20.3 35.7 21.8 40.7 23.2 46.5 25 53.3 27.3 59.1 29.1 66.2 31.7 74.1 34.5 -6.3 21.5 -7.2 20 -7.7 18.2 -8.9 17.6 -11.7 19.2 -13.2 18 -15.2 17.4 -17.3 16.8 0 9.5 -155.5 -53.2 -124 -40.1 -53.1 -16.1 -47.2 -13.4 -42.8 -11.3 -37.5 -8.7 -32 -6.4 -30.5 -4.8 -26.5 -2.6 -23.5 -.9 -22.5 .8 -21.6 2.6 -22 4.4 -23.6 6.4 18.8 -16.6 27.8 -19.4 24.5 -18.6 17.5 -14.7 16.3 -15 17.4 -17.7 15.8 -18.4 14.3 -18.8 13 -19.8 12.5 -22.1 11.2 -23.5 10 -24.5 9.2 -27.1 7.9 -27.6 7.5 -31.6 6.8 -34.4 6 -36.6z" fill="#0044ff"/>
<path d="M584.8 125.4l4.2 22.4 6.1 19.6 8.2 17.9 10.9 17.4 14 17.4 17.2 17.3 20.8 17.7 24.7 18.4 30.3 20.3 35.7 21.8 40.7 23.2 46.5 25 53.3 27.3 59.1 29.1 66.2 31.7 74.1 34.5 -6.7 22.6 -7.3 20.2 -8.1 18.8 -9 17.5 -11.3 18.2 -13.3 18 -14.9 17 -16.9 16.4 0 7.1 -154.7 -53.2 -125.1 -40.7 -53.4 -16.3 -46.7 -13.5 -43.5 -11.5 -36.7 -8.7 -33.2 -6.7 -27.4 -4.3 -25.8 -2.8 -23.1 -1 -21.6 .7 -21.1 2.3 -21.4 4.1 -23.3 6.3 13.5 -12.2 27.8 -19.4 24.5 -18.6 18.1 -15.2 16.8 -15.5 17.3 -17.9 15.7 -18.3 14.3 -19 13 -20 11.9 -21.2 11.3 -23.6 9.9 -24.7 8.9 -26.2 7.9 -27.6 7.5 -31.6 6.8 -34.4 6 -36.6z" fill="#004bff"/>
<path d="M584.8 125.4l4.2 22.4 6.1 19.6 8.2 17.9 10.9 17.4 14 17.4 17.2 17.3 20.8 17.7 24.7 18.4 30.3 20.3 35.7 21.8 40.7 23.2 46.5 25 53.3 27.3 59.1 29.1 66.2 31.7 74.1 34.5 -6.7 22.6 -7.7 21.2 -8.3 19.1 -9.2 17.6 -11.6 18.5 -12.8 17.1 -14.6 16.6 -16.6 16 0 4.7 -153.6 -53.1 -124.8 -40.9 -52.9 -16.3 -47.2 -13.7 -40.2 -10.9 -38.3 -9.3 -33 -6.8 -27.9 -4.7 -24.6 -2.8 -23.7 -1.3 -21.6 .5 -21 2.2 -20.8 3.9 -22.4 5.9 8.5 -7.8 27.8 -19.4 24.2 -18.4 18.8 -15.8 17.4 -16.2 17.3 -17.9 15.7 -18.5 14.3 -19.1 12.9 -20 11.7 -21.1 11.2 -23.7 9.5 -23.9 9.1 -26.7 7.9 -28.2 7.4 -31.4 6.5 -32.9 6 -36.6z" fill="#0053ff"/>
<path d="M584.8 125.4l4.2 22.4 6.1 19.6 8.2 17.9 10.9 17.4 14 17.4 17.2 17.3 20.8 17.7 24.7 18.4 30.3 20.3 35.7 21.8 40.7 23.2 46.5 25 53.3 27.3 59.1 29.1 66.2 31.7 74.1 34.5 -6.7 22.6 -7.8 21.5 -8.5 19.4 -9.7 18.3 -9.7 15.5 -11.4 15.6 -15.5 18 -18.2 17.8 0 2.3 -154.8 -53.7 -124.4 -41 -53 -16.4 -46.5 -13.7 -40.2 -10.9 -38.3 -9.5 -31.2 -6.6 -28.9 -4.9 -25 -2.9 -22.6 -1.2 -20.9 .4 -20.1 2 -19.9 3.7 -21.6 5.6 4.9 -4.3 25.6 -17.8 24.2 -18.3 20 -16.8 18.5 -17.2 17.2 -17.9 15.6 -18.6 14.2 -19.2 12.8 -20 11.6 -21.2 10.7 -22.6 10 -25.1 8.6 -25.8 8.1 -28.6 7.1 -30.5 6.5 -32.9 6 -36.6z" fill="#005aff"/>
</g>
<path d="M1003.9 694.7l-73.2 -15.2 -70.7 -13.5 -69.2 -11.9 -63.1 -9.5 -61.8 -7.8 -59.6 -6 -56.6 -4.1 -53.6 -2.3 -51 -.5 -51.1 1.3 -49.6 3 -48.7 4.8 -48.8 6.6 -49.3 8.6 -50 10.6 -51.7 12.7M1004.7 681.3l-84.7 -24.2 -78.6 -21.4 -69.9 -17.7 -67.4 -15.6 -62.5 -12.8 -54.7 -9.6 -51.8 -7.3 -48.2 -4.8 -43.7 -2.2 -41.1 0 -39.5 2.2 -38.1 4.4 -38.7 6.7 -39.8 9.2 -43.1 12.2 -48.8 15.9M1004.9 668.1l-81.1 -25.8 -73.8 -22.7 -67.8 -19.9 -61.7 -17.1 -58.6 -15.1 -49.1 -11.4 -43.8 -9 -43.4 -7.3 -36.5 -4.7 -33.7 -2.8 -32.8 -.8 -30.6 1.2 -28.9 3 -29.9 5.1 -30.8 7.4 -34.1 10M1005.1 655l-78.8 -26.5 -72.5 -23.7 -65 -20.6 -59 -17.8 -52 -15 -47.8 -12.8 -44.9 -10.9 -39.5 -8.5 -33.3 -5.9 -31.1 -4.1 -28.5 -2.4 -26.9 -.5 -24.7 1.2 -24.4 3.1 -25 5 -26.2 7M1005.1 641.8l-148.5 -51 -65 -21.4 -57.9 -18.5 -51.4 -15.7 -46.9 -13.6 -41.4 -11 -37.3 -9.1 -30.8 -6.5 -29.5 -5 -26.3 -3.2 -24.2 -1.5 -22.5 .1 -20.5 1.8 -21.3 3.5 -21.7 5.3" fill="none" stroke="#000" stroke-width="1.4"/>
<path d="M732.9 541.2l-4.1 15 -4.9 12.5 -5.9 11.1 -7.1 10 -8.7 9.4 -10.8 9.2 -13.1 9.2 -15.6 9.4 -19.2 10.3 -23.3 11.4 -63.1 28.1 -93.2 39 -138.4 56" fill="none" stroke="#f00" stroke-width="4.2" stroke-linejoin="round"/>
<polygon points="583.6,399.8 1091.8,599.7 579.6,801.2 71.4,601.4" fill="rgb(0,204,204)" fill-opacity="0.70" stroke="rgb(0,200,200)" stroke-opacity="0.35" stroke-width="1.2"/>
<clipPath id="caB"><path d="M583.7 133.1l4.2 21.7 2.8 9.8 3.3 9.5 3.9 9.2 4.5 8.8 5.1 8.6 5.7 8.3 6.4 8.4 7.4 8.5 17.3 17.1 20.8 17.5 24.4 18.1 30.4 20.1 34.8 21.2 40.7 23.1 45.9 24.5 52.2 26.8 58.8 28.9 66.1 31.5 73.4 34.1 -7 22.8 -7.9 21 -8.8 19.3 -9.9 18.1 -11.1 17 -12.5 16.2 -13.8 15.5 -15.6 15 -145.7 -50.8 -120.7 -40.1 -44.8 -14.2 -54.9 -16.5 -45.6 -12.8 -34.4 -8.7 -28.9 -6.4 -30.9 -5.8 -24.6 -3.3 -18.6 -1.5 -21.5 -.4 -18 1.1 -20.9 2.9 -20.6 4.7 24.8 -17.4 21.6 -16.4 19.5 -16.4 18.6 -17.4 16.7 -17.5 15 -17.8 13.8 -18.7 12.5 -19.5 11.5 -20.8 9.9 -20.7 9.5 -23.5 8.4 -24.6 7.6 -25.8 7.1 -29.1 6.1 -29.5 5.9 -34z"/></clipPath>
<g opacity="0.70" clip-path="url(#caB)">
<path d="M584.8 125.4l4.2 22.4 6.1 19.6 8.2 17.9 10.9 17.4 14 17.4 17.2 17.3 20.8 17.7 24.7 18.4 30.3 20.3 35.7 21.8 40.7 23.2 46.5 25 53.3 27.3 59.1 29.1 66.2 31.7 74.1 34.5 -7.1 23.7 -7.7 21.2 -8.9 20.1 -10 18.6 -11 17.1 -12.9 17 -13.9 15.5 -16 15.6 -149.8 -52.3 -124.8 -41.4 -58.6 -18.3 -42.8 -12.7 -39.8 -11.2 -39.7 -10 -28.3 -6.1 -29.5 -5.3 -24.6 -3.1 -26.6 -1.6 -19.6 .4 -19.5 2 -19.7 3.6 -19.8 5.2 26 -18 23.1 -17.5 20.9 -17.4 18.9 -17.6 17.4 -18.2 15.9 -18.8 14.2 -19.5 13 -20.5 11.6 -21.2 11 -23.7 9.5 -24.2 8.6 -25.8 7.8 -27.9 7 -30 6.4 -32.6 6 -36.6z" fill="#0061ff"/>
<path d="M584.8 125.4l4.2 22.4 6.1 19.6 8.2 17.9 10.9 17.4 14 17.4 17.2 17.3 20.8 17.7 24.7 18.4 30.3 20.3 35.7 21.8 40.7 23.2 46.5 25 53.3 27.3 59.1 29.1 66.2 31.7 74.1 34.5 -6.7 22.6 -7.7 21.2 -8.3 19.1 -9.4 18 -10.8 17.2 -11.6 15.8 -13.4 15.5 -14.9 15 -152.8 -53.5 -123.5 -41.1 -52.9 -16.7 -46.4 -13.9 -41.1 -11.5 -36.5 -9.3 -31.1 -6.9 -28 -5.1 -24.4 -3.2 -22.4 -1.5 -20.2 0 -19.5 1.7 -19.4 3.3 -20.8 5.3 24.6 -17.5 22 -17.1 20.3 -17.5 18.3 -17.5 16.5 -17.8 15 -18.5 13.7 -19.2 12.3 -19.9 11.3 -21.3 10.2 -22.5 9.3 -23.9 8.3 -25.3 7.7 -28 7 -30.2 6.4 -32.7 5.6 -34.6z" fill="#0068ff"/>
<path d="M584.8 125.4l4.2 22.4 6.1 19.6 8.2 17.9 10.9 17.4 14 17.4 17.2 17.3 20.8 17.7 24.7 18.4 30.3 20.3 35.7 21.8 40.7 23.2 46.5 25 53.3 27.3 59.1 29.1 66.2 31.7 74.1 34.5 -6.7 22.6 -7.3 20.2 -8.1 18.8 -8.8 17.1 -9.8 16.1 -11.2 15.7 -12.5 15 -14.2 14.9 -151.6 -53.3 -124.1 -41.6 -52.5 -16.6 -46.5 -14.1 -40.9 -11.5 -36.3 -9.4 -31.1 -7 -27.6 -5.2 -24.2 -3.3 -22.1 -1.6 -20.3 -.1 -19 1.5 -19 3.3 -19.9 5 23 -16.8 21.2 -17 19.5 -17.3 17.4 -17.2 16 -17.7 14.4 -18.2 13.1 -18.9 12 -20 10.7 -20.5 10.2 -22.9 8.9 -23.6 8.2 -25.6 7.2 -26.5 7 -30.3 6 -30.9 5.6 -34.6z" fill="#006fff"/>
<path d="M584.8 125.4l4.2 22.4 6.1 19.6 8.2 17.9 10.9 17.4 14 17.4 17.2 17.3 20.8 17.7 24.7 18.4 30.3 20.3 35.7 21.8 40.7 23.2 46.5 25 53.3 27.3 59.1 29.1 66.2 31.7 74.1 34.5 -6.3 21.3 -6.9 19.5 -7.5 17.9 -8.9 17.7 -9.5 16 -10.9 15.6 -11.7 14.5 -12.9 13.9 -152.3 -53.6 -122.9 -41.4 -52.7 -16.8 -46.1 -14.1 -40.6 -11.6 -36.2 -9.4 -30.7 -7.1 -27 -5.1 -24.5 -3.5 -21.5 -1.8 -20 -.2 -18.7 1.4 -18.6 3 -19.8 4.9 22.1 -16.5 19.9 -16.4 18.4 -16.7 16.8 -17.1 15.2 -17.3 13.9 -18 12.7 -18.8 11.6 -19.6 10.4 -20.5 9.7 -22 9 -24.2 7.9 -24.8 7.2 -26.6 6.7 -29.4 5.8 -30.1 5.6 -34.6z" fill="#0076ff"/>
<path d="M584.8 125.4l4.2 22.4 6.1 19.6 8.2 17.9 10.9 17.4 14 17.4 17.2 17.3 20.8 17.7 24.7 18.4 30.3 20.3 35.7 21.8 40.7 23.2 46.5 25 53.3 27.3 59.1 29.1 66.2 31.7 74.1 34.5 -6 20.3 -6.8 19.4 -7.5 18 -7.9 16 -9.2 16 -9.9 14.7 -11.3 14.5 -12.3 13.7 -151.1 -53.4 -123.6 -41.9 -98.5 -30.9 -40.5 -11.7 -36 -9.5 -30.5 -7.1 -27.1 -5.3 -24 -3.5 -21.6 -1.9 -19.3 -.3 -18.4 1.3 -18.3 2.8 -19.3 4.7 21.4 -16.4 19.4 -16.5 17.6 -16.5 15.6 -16.4 14.7 -17.2 13.4 -17.8 12.2 -18.5 11.2 -19.6 10.3 -20.7 9.3 -22 8.5 -23.3 7.4 -23.7 7.1 -26.4 6.5 -28.8 5.9 -31.1 5.3 -32.5z" fill="#007dff"/>
<path d="M584.8 125.4l4.2 22.4 6.1 19.6 8.2 17.9 10.9 17.4 14 17.4 17.2 17.3 20.8 17.7 24.7 18.4 30.3 20.3 35.7 21.8 40.7 23.2 46.5 25 53.3 27.3 59.1 29.1 66.2 31.7 74.1 34.5 -6 20.3 -6.4 18.4 -7 17.1 -7.8 16.1 -8.6 15.2 -9.5 14.4 -10.4 13.8 -11.6 13.5 -150.9 -53.5 -123.4 -41.9 -98.2 -31.1 -40.4 -11.7 -35.8 -9.6 -30.4 -7.2 -26.9 -5.3 -23.7 -3.6 -21.4 -2 -19.1 -.4 -18.1 1.1 -17.9 2.8 -18.8 4.5 19.8 -15.7 18.8 -16.3 17.1 -16.5 14.9 -16 14 -16.9 13 -17.7 11.5 -17.8 10.9 -19.6 9.6 -19.5 9.3 -22 8.1 -22.5 7.6 -24.4 6.8 -25.6 6.4 -28.3 5.9 -31.1 5.3 -32.5z" fill="#0084ff"/>
<path d="M584.8 125.4l4.2 22.4 6.1 19.6 8.2 17.9 10.9 17.4 14 17.4 17.2 17.3 20.8 17.7 24.7 18.4 30.3 20.3 35.7 21.8 40.7 23.2 46.5 25 53.3 27.3 59.1 29.1 66.2 31.7 74.1 34.5 -5.6 19.2 -6 17.4 -7 17.2 -7.2 15.3 -8.2 15 -8.9 14 -10.2 14 -10.9 13 -151.1 -53.7 -122.8 -41.9 -97.9 -31.1 -40.2 -11.8 -35.7 -9.6 -30.2 -7.3 -26.7 -5.5 -23.5 -3.6 -21.2 -2.1 -18.9 -.5 -17.9 1.1 -17.7 2.6 -18.2 4.3 19.4 -15.8 17.7 -15.8 16.1 -15.9 14.7 -16.3 13.5 -16.8 12.5 -17.5 11.6 -18.6 10.2 -18.7 9.4 -19.7 8.6 -20.8 8.1 -22.8 7.4 -24.6 6.6 -25.3 6.1 -27.2 5.5 -29.2 5.3 -32.5z" fill="#008cff"/>
<path d="M584.8 125.4l4.2 22.4 6.1 19.6 8.2 17.9 10.9 17.4 14 17.4 17.2 17.3 20.8 17.7 24.7 18.4 30.3 20.3 35.7 21.8 40.7 23.2 46.5 25 53.3 27.3 59.1 29.1 66.2 31.7 74.1 34.5 -5.3 18.1 -5.9 17.4 -6.5 16.4 -7.1 15.4 -7.9 14.5 -8.5 13.7 -9.4 13.4 -10.2 12.6 -150.9 -53.8 -122.6 -42 -97.6 -31.2 -40.1 -11.9 -35.6 -9.6 -30.1 -7.4 -26.6 -5.5 -23.2 -3.7 -21 -2.2 -18.6 -.6 -17.6 1 -17.2 2.5 -18.1 4.2 18.2 -15.2 17 -15.6 15.5 -15.7 14.2 -16.2 13 -16.5 12 -17.3 11 -17.9 10.1 -18.8 9.3 -19.9 8.5 -21 7.7 -22.3 7.2 -23.8 6.6 -25.4 6 -27.3 5.5 -29.4 4.9 -30.5z" fill="#0093ff"/>
<path d="M584.8 125.4l4.2 22.4 6.1 19.6 8.2 17.9 10.9 17.4 14 17.4 17.2 17.3 20.8 17.7 24.7 18.4 30.3 20.3 35.7 21.8 40.7 23.2 46.5 25 53.3 27.3 59.1 29.1 66.2 31.7 74.1 34.5 -5.3 18.1 -5.5 16.4 -6.1 15.4 -7 15.5 -7.2 13.7 -8.5 14 -8.8 12.7 -9.4 12.1 -152.3 -54.4 -120.8 -41.5 -97.4 -31.3 -40 -11.9 -35.4 -9.7 -30 -7.5 -26.5 -5.6 -23 -3.7 -20.7 -2.3 -18.8 -.6 -17.2 .8 -16.6 2.4 -17.7 4 17.1 -14.6 16.5 -15.6 14.9 -15.5 13.6 -15.9 12.5 -16.3 11.5 -17 10.4 -17.3 10 -18.9 9.1 -19.9 8.2 -20.7 7.4 -21.5 7 -23.3 6.3 -24.4 6 -27.5 5.5 -29.2 4.9 -30.5z" fill="#009aff"/>
<path d="M584.8 125.4l4.2 22.4 6.1 19.6 8.2 17.9 10.9 17.4 14 17.4 17.2 17.3 20.8 17.7 24.7 18.4 30.3 20.3 35.7 21.8 40.7 23.2 46.5 25 53.3 27.3 59.1 29.1 66.2 31.7 74.1 34.5 -4.9 17 -5.5 16.4 -6 15.5 -6.6 14.6 -6.9 13.4 -7.5 12.8 -8.4 12.6 -9.2 12.1 -151.2 -54.2 -122.6 -42.2 -96.2 -31.1 -39.7 -11.9 -35.3 -9.8 -29.8 -7.4 -26.3 -5.7 -22.9 -3.9 -20.6 -2.3 -18.1 -.7 -17.1 .7 -16.7 2.3 -17.3 3.9 16.8 -14.8 15.4 -14.9 14.3 -15.3 13.1 -15.7 12 -16.1 11.1 -16.6 10.1 -17.2 9.6 -18.6 8.8 -19.7 8 -20.3 7.4 -22 6.8 -23.1 6.1 -23.9 5.9 -27.4 5.2 -27.5 4.9 -30.5z" fill="#00a1ff"/>
<path d="M584.8 125.4l4.2 22.4 6.1 19.6 8.2 17.9 10.9 17.4 14 17.4 17.2 17.3 20.8 17.7 24.7 18.4 30.3 20.3 35.7 21.8 40.7 23.2 46.5 25 53.3 27.3 59.1 29.1 66.2 31.7 74.1 34.5 -10 32.4 -5.6 14.5 -6.5 14.7 -6.8 13.4 -7.1 12.5 -8.1 12.3 -8.2 11.2 -150.9 -54.2 -121.4 -42 -97 -31.5 -39.7 -12 -35.2 -9.8 -29.7 -7.6 -26.2 -5.7 -22.6 -3.9 -20.5 -2.4 -18.3 -.8 -16.7 .7 -16.2 2.1 -16.9 3.8 15.7 -14.2 15.3 -15.3 13.8 -15.1 12.6 -15.5 11.6 -16 10.8 -16.7 9.8 -17.2 9.2 -18.4 8.6 -19.3 7.6 -20.1 7.1 -21.2 6.6 -22.5 6 -24.1 5.5 -25.6 5.2 -27.5 4.9 -30.5z" fill="#00a8ff"/>
<path d="M584.8 125.4l4.2 22.4 6.1 19.6 8.2 17.9 10.9 17.4 14 17.4 17.2 17.3 20.8 17.7 24.7 18.4 30.3 20.3 35.7 21.8 40.7 23.2 46.5 25 53.3 27.3 59.1 29.1 66.2 31.7 74.1 34.5 -9.7 31.3 -11 27.4 -6.5 13.2 -6.8 12.2 -7.8 12.4 -7.9 11.1 -150.8 -54.3 -121.2 -42 -96.8 -31.6 -39.6 -12.1 -35 -9.8 -29.5 -7.6 -26.1 -5.8 -22.6 -4 -20.2 -2.4 -17.8 -.9 -16.6 .6 -16.3 2 -16.5 3.7 14.9 -13.9 14.7 -15 13.3 -14.9 12.1 -15.3 11.2 -15.8 10.3 -16.3 9.3 -16.5 9.2 -18.6 8.2 -18.9 7.5 -19.7 7 -21.4 6.5 -22.6 6 -24.2 5.5 -25.7 5.1 -27.6 4.6 -28.5z" fill="#00afff"/>
<path d="M584.8 125.4l4.2 22.4 6.1 19.6 8.2 17.9 10.9 17.4 14 17.4 17.2 17.3 20.8 17.7 24.7 18.4 30.3 20.3 35.7 21.8 40.7 23.2 46.5 25 53.3 27.3 59.1 29.1 66.2 31.7 74.1 34.5 -9.3 30.2 -10.6 26.6 -5.9 12.3 -6.9 12.7 -14.5 22.4 -151.4 -54.6 -120.3 -41.8 -96.8 -31.7 -39.3 -12.1 -34.9 -9.9 -29.5 -7.6 -26 -5.8 -22.3 -4 -20.1 -2.5 -17.9 -1 -16.3 .5 -15.9 1.9 -16.1 3.6 14.4 -13.8 14.2 -14.8 12.7 -14.8 11.8 -15.3 10.8 -15.5 9.9 -16.2 9.3 -16.9 8.8 -18.3 7.6 -18 7.5 -20.1 6.9 -21.2 6.1 -21.8 5.9 -23.9 5.1 -24 5.1 -27.6 4.6 -28.5z" fill="#00b6ff"/>
<path d="M584.8 125.4l4.2 22.4 6.1 19.6 8.2 17.9 10.9 17.4 14 17.4 17.2 17.3 20.8 17.7 24.7 18.4 30.3 20.3 35.7 21.8 40.7 23.2 46.5 25 53.3 27.3 59.1 29.1 66.2 31.7 74.1 34.5 -8.9 29.1 -10.1 25.7 -11.9 23.9 -13.9 22.2 -149.5 -54 -120.9 -42.2 -97.5 -32.1 -39.4 -12.1 -34.8 -10 -29.2 -7.6 -25.8 -5.9 -22.4 -4.1 -19.9 -2.5 -17.4 -1.1 -16.3 .4 -15.5 1.9 -16.1 3.4 14.2 -13.9 13.2 -14.3 12.3 -14.7 11.4 -15 10.3 -15.4 9.7 -16 9.4 -17.6 8.1 -17.2 7.5 -18 7.1 -19.5 6.7 -21 6 -21.3 5.8 -23.8 5.1 -24.2 9.4 -54.6z" fill="#00bdff"/>
<path d="M584.8 125.4l4.2 22.4 6.1 19.6 8.2 17.9 10.9 17.4 14 17.4 17.2 17.3 20.8 17.7 24.7 18.4 30.3 20.3 35.7 21.8 40.7 23.2 46.5 25 53.3 27.3 59.1 29.1 66.2 31.7 74.1 34.5 -8.5 28.1 -9.6 24.8 -11.5 23.5 -13 21.3 -149.3 -54.1 -121.8 -42.6 -96.3 -31.8 -39.6 -12.3 -34.4 -9.9 -29.2 -7.7 -25.7 -5.9 -22.1 -4.1 -19.8 -2.7 -17.2 -1.1 -16.2 .4 -15.2 1.7 -15.9 3.4 13.7 -13.8 12.8 -14.1 11.8 -14.5 10.9 -14.8 10.2 -15.6 9.6 -16.2 8.6 -16.5 8 -17.3 7.4 -18.1 6.8 -19.1 6.4 -20.2 5.9 -21.4 5.5 -22.6 5.1 -24.1 9.3 -54.2z" fill="#00c5ff"/>
<path d="M584.8 125.4l4.2 22.4 6.1 19.6 8.2 17.9 10.9 17.4 14 17.4 17.2 17.3 20.8 17.7 24.7 18.4 30.3 20.3 35.7 21.8 40.7 23.2 46.5 25 53.3 27.3 59.1 29.1 66.2 31.7 74.1 34.5 -8.2 27 -9.4 24.6 -10.6 22.1 -12.2 20.7 -150.6 -54.6 -120.3 -42.1 -95.6 -31.8 -73.9 -22.3 -29.4 -7.8 -25.2 -5.8 -22.4 -4.3 -19.7 -2.7 -17.1 -1.2 -15.9 .3 -15.1 1.6 -15.6 3.3 13.3 -13.7 12.2 -13.9 11.4 -14.3 10.5 -14.7 9.8 -15.1 9.1 -15.8 8.5 -16.6 7.8 -17.3 7.2 -17.9 6.4 -18.2 6.4 -20.3 5.9 -21.5 10.5 -47 8.9 -52.2z" fill="#00ccff"/>
<path d="M584.8 125.4l4.2 22.4 6.1 19.6 8.2 17.9 10.9 17.4 14 17.4 17.2 17.3 20.8 17.7 24.7 18.4 30.3 20.3 35.7 21.8 40.7 23.2 46.5 25 53.3 27.3 59.1 29.1 66.2 31.7 74.1 34.5 -7.8 25.9 -9.1 24 -9.9 21.2 -11.6 20.1 -150.1 -54.5 -121.5 -42.7 -95 -31.6 -74.2 -22.5 -28.6 -7.6 -25.2 -6 -21.9 -4.2 -19.5 -2.7 -17.2 -1.3 -15.6 .2 -15 1.6 -15 3.1 12.7 -13.4 11.8 -13.8 10.9 -14 10.2 -14.6 9.4 -15 8.6 -15.2 8.4 -16.8 7.6 -17 7.2 -18.3 6.5 -18.5 5.8 -19.1 5.8 -21.3 10.1 -45.3 8.9 -52.2z" fill="#00d3ff"/>
<path d="M584.8 125.4l4.2 22.4 6.1 19.6 8.2 17.9 10.9 17.4 14 17.4 17.2 17.3 20.8 17.7 24.7 18.4 30.3 20.3 35.7 21.8 40.7 23.2 46.5 25 53.3 27.3 59.1 29.1 66.2 31.7 74.1 34.5 -7.4 24.8 -8.6 23.1 -9.8 21.2 -10.6 19 -150 -54.6 -120.3 -42.4 -96 -32.1 -73.2 -22.3 -28.9 -7.8 -25.2 -6 -22 -4.3 -19.3 -2.8 -16.9 -1.3 -15.6 .1 -14.6 1.5 -15.1 3.1 12.2 -13.3 11.3 -13.5 10.5 -13.8 9.7 -14.2 9.3 -15.1 8.2 -14.9 8.4 -16.8 7.1 -16.3 6.6 -17 6.7 -19.4 5.8 -18.9 5.8 -21.5 10.1 -45.7 8.5 -50.3z" fill="#00daff"/>
<path d="M584.8 125.4l4.2 22.4 6.1 19.6 8.2 17.9 10.9 17.4 14 17.4 17.2 17.3 20.8 17.7 24.7 18.4 30.3 20.3 35.7 21.8 40.7 23.2 46.5 25 53.3 27.3 59.1 29.1 66.2 31.7 74.1 34.5 -7.1 23.7 -8.1 22.2 -9.2 20.4 -10.1 18.7 -152 -55.4 -119.2 -42.1 -94.5 -31.7 -73.3 -22.4 -29.1 -7.9 -25 -6.1 -21.6 -4.3 -19.3 -2.8 -16.6 -1.3 -15.4 0 -14.5 1.4 -14.9 3 11.7 -13.1 10.9 -13.3 10.2 -13.7 9.4 -14.2 9.3 -15.4 8.1 -15.1 7.6 -15.7 7 -16.3 6.6 -17.2 6.1 -18 6 -19.7 5.6 -21.1 9.6 -43.8 8.5 -50.3z" fill="#00e1ff"/>
<path d="M584.8 125.4l4.2 22.4 6.1 19.6 8.2 17.9 10.9 17.4 14 17.4 17.2 17.3 20.8 17.7 24.7 18.4 30.3 20.3 35.7 21.8 40.7 23.2 46.5 25 53.3 27.3 59.1 29.1 66.2 31.7 74.1 34.5 -6.7 22.6 -7.8 21.5 -8.5 19.4 -9.7 18.4 -149.8 -54.7 -120 -42.5 -95.5 -32.1 -73.1 -22.5 -28.7 -7.9 -24.7 -6 -22 -4.5 -19.2 -2.9 -16.5 -1.4 -15.4 0 -14.2 1.4 -14.6 2.8 11.3 -12.9 10.5 -13.3 9.9 -13.6 9.1 -14 8.6 -14.6 8 -15.1 7.5 -15.8 7 -16.5 6.5 -17.3 6 -18.2 11 -39.4 9.4 -43.1 8.3 -49.3z" fill="#00e8ff"/>
<path d="M584.8 125.4l4.2 22.4 6.1 19.6 8.2 17.9 10.9 17.4 14 17.4 17.2 17.3 20.8 17.7 24.7 18.4 30.3 20.3 35.7 21.8 40.7 23.2 46.5 25 53.3 27.3 59.1 29.1 66.2 31.7 74.1 34.5 -6.7 22.6 -7.3 20.2 -8.1 18.8 -8.8 17.2 -150.8 -55.1 -120 -42.5 -93.5 -31.6 -73.3 -22.7 -29.1 -8 -25.1 -6.2 -21.3 -4.4 -19 -2.9 -16.4 -1.4 -15.1 -.1 -14.2 1.3 -14.4 2.8 10.9 -12.8 10.2 -13.3 9.6 -13.6 8.9 -13.9 7.9 -13.7 7.9 -15.2 7.4 -15.9 6.8 -16.6 12.4 -35.4 10.5 -38.5 9.1 -42.2 8.2 -48.4z" fill="#00efff"/>
<path d="M584.8 125.4l4.2 22.4 6.1 19.6 8.2 17.9 10.9 17.4 14 17.4 17.2 17.3 20.8 17.7 24.7 18.4 30.3 20.3 35.7 21.8 40.7 23.2 46.5 25 53.3 27.3 59.1 29.1 66.2 31.7 74.1 34.5 -6.3 21.3 -6.9 19.5 -7.5 17.9 -8.6 17 -147.4 -53.9 -120.9 -43 -96.3 -32.6 -72.8 -22.6 -28.5 -8 -24.6 -6.1 -21.8 -4.5 -18.9 -3 -16.3 -1.5 -14.9 -.1 -14 1.2 -14.2 2.7 10.4 -12.5 9.8 -13 9.2 -13.2 8.6 -13.8 7.9 -14.1 7.6 -14.8 13.5 -31.4 11.9 -34.4 10.4 -38 9.1 -42.2 8.2 -48.4z" fill="#00f6ff"/>
<path d="M584.8 125.4l4.2 22.4 6.1 19.6 8.2 17.9 10.9 17.4 14 17.4 17.2 17.3 20.8 17.7 24.7 18.4 30.3 20.3 35.7 21.8 40.7 23.2 46.5 25 53.3 27.3 59.1 29.1 66.2 31.7 74.1 34.5 -6 20.3 -6.4 18.6 -7.2 17.3 -8.1 16.5 -149.4 -54.8 -121 -43 -94 -31.9 -73.1 -22.8 -28 -7.8 -24.5 -6.2 -21.5 -4.5 -18.9 -3.1 -16.4 -1.5 -14.6 -.2 -13.9 1.2 -13.8 2.6 10 -12.4 9.5 -12.8 8.8 -13.1 8.3 -13.6 15 -28.6 13.4 -31.6 11.7 -34.3 9.9 -36.9 9.1 -42.5 7.8 -46.4z" fill="#00feff"/>
<path d="M584.8 125.4l4.2 22.4 6.1 19.6 8.2 17.9 10.9 17.4 14 17.4 17.2 17.3 20.8 17.7 24.7 18.4 30.3 20.3 35.7 21.8 40.7 23.2 46.5 25 53.3 27.3 59.1 29.1 66.2 31.7 74.1 34.5 -5.6 19.2 -6.4 18.4 -6.6 16.3 -7.5 15.8 -150.5 -55.2 -120 -42.8 -93.6 -31.8 -72.7 -22.8 -28.2 -7.9 -24.8 -6.3 -21.1 -4.5 -18.7 -3.1 -16.3 -1.6 -14.6 -.2 -13.7 1.2 -13.6 2.5 19 -25.1 16.5 -26.4 14.5 -28.1 12.7 -30.4 11.2 -33.2 10.1 -37.9 8.8 -41.2 7.8 -46.4z" fill="#06fff9"/>
<path d="M584.8 125.4l4.2 22.4 6.1 19.6 8.2 17.9 10.9 17.4 14 17.4 17.2 17.3 20.8 17.7 24.7 18.4 30.3 20.3 35.7 21.8 40.7 23.2 46.5 25 53.3 27.3 59.1 29.1 66.2 31.7 74.1 34.5 -5.3 18.1 -5.9 17.4 -6.4 16.1 -7 15.2 -151.4 -55.7 -118.5 -42.3 -93.8 -32 -72 -22.6 -28.6 -8.2 -24.3 -6.2 -21.6 -4.7 -18.6 -3 -15.9 -1.7 -14.6 -.2 -13.5 1 -13.6 2.5 18 -24.4 16 -26.1 14.3 -28.3 12.5 -30.6 11.1 -33.5 9.8 -36.9 8.6 -40.9 7.4 -44.5z" fill="#0dfff2"/>
<path d="M584.8 125.4l4.2 22.4 6.1 19.6 8.2 17.9 10.9 17.4 14 17.4 17.2 17.3 20.8 17.7 24.7 18.4 30.3 20.3 35.7 21.8 40.7 23.2 46.5 25 53.3 27.3 59.1 29.1 66.2 31.7 74.1 34.5 -4.9 17 -5.5 16.4 -6.1 15.8 -6.6 14.6 -147.2 -54.1 -120.4 -43.1 -94.7 -32.5 -73 -23.1 -28.5 -8.1 -24.3 -6.2 -21.5 -4.8 -18.5 -3.1 -15.8 -1.6 -14.4 -.4 -13.4 1 -13.5 2.4 17.6 -24.4 15.7 -26.2 13.5 -27.3 12.1 -30.2 10.8 -32.9 9.7 -37.1 8.3 -39.7 7.3 -43.9z" fill="#14ffeb"/>
<path d="M584.8 125.4l4.2 22.4 6.1 19.6 8.2 17.9 10.9 17.4 14 17.4 17.2 17.3 20.8 17.7 24.7 18.4 30.3 20.3 35.7 21.8 40.7 23.2 46.5 25 53.3 27.3 59.1 29.1 66.2 31.7 74.1 34.5 -10 32.4 -5.6 14.5 -6.2 14 -147 -54.2 -120.4 -43.2 -94.5 -32.4 -72.9 -23.1 -27.6 -8 -25.1 -6.5 -21.3 -4.7 -18.4 -3.2 -15.8 -1.7 -14.3 -.4 -13.2 1 -13.3 2.3 17 -24.2 15 -25.6 13.3 -27.4 11.7 -29.7 10.5 -32.6 9.3 -35.5 8.2 -39.4 7.3 -43.9z" fill="#1bffe4"/>
<path d="M584.8 125.4l4.2 22.4 6.1 19.6 8.2 17.9 10.9 17.4 14 17.4 17.2 17.3 20.8 17.7 24.7 18.4 30.3 20.3 35.7 21.8 40.7 23.2 46.5 25 53.3 27.3 59.1 29.1 66.2 31.7 74.1 34.5 -9.4 30.4 -11 27.6 -146.9 -54.2 -120.3 -43.2 -94.1 -32.4 -73.1 -23.3 -52.6 -14.5 -21.3 -4.8 -18.3 -3.2 -15.6 -1.7 -14.3 -.4 -13.1 .8 -13 2.3 16.5 -24.1 14.6 -25.5 12.8 -27 11.6 -29.8 9.8 -31 9.2 -35.7 8.1 -39.3 7.1 -42.5z" fill="#22ffdd"/>
<path d="M584.8 125.4l4.2 22.4 6.1 19.6 8.2 17.9 10.9 17.4 14 17.4 17.2 17.3 20.8 17.7 24.7 18.4 30.3 20.3 35.7 21.8 40.7 23.2 46.5 25 53.3 27.3 59.1 29.1 66.2 31.7 74.1 34.5 -8.9 29.1 -10.2 26 -149.9 -55.3 -118.2 -42.6 -94.5 -32.5 -71.5 -22.9 -52.4 -14.5 -21.2 -4.8 -18.2 -3.2 -15.6 -1.8 -14.1 -.5 -12.9 .8 -13 2.2 15.8 -23.4 13.9 -24.7 12.9 -27.8 11 -28.6 10 -31.8 8.9 -35.1 7.7 -37.6 7.1 -42.5z" fill="#29ffd6"/>
<path d="M584.8 125.4l4.2 22.4 6.1 19.6 8.2 17.9 10.9 17.4 14 17.4 17.2 17.3 20.8 17.7 24.7 18.4 30.3 20.3 35.7 21.8 40.7 23.2 46.5 25 53.3 27.3 59.1 29.1 66.2 31.7 74.1 34.5 -8.3 27.5 -9.5 24.7 -147.9 -54.6 -119 -42.9 -93.9 -32.5 -72.9 -23.4 -52.9 -14.7 -20.6 -4.7 -18.1 -3.3 -15.7 -1.8 -13.9 -.5 -12.9 .8 -12.6 2.1 15.6 -23.7 13.6 -24.9 12.2 -26.8 10.5 -27.9 10 -32.3 8.5 -33.8 7.8 -38.3 6.7 -40.5z" fill="#30ffcf"/>
<path d="M584.8 125.4l4.2 22.4 6.1 19.6 8.2 17.9 10.9 17.4 14 17.4 17.2 17.3 20.8 17.7 24.7 18.4 30.3 20.3 35.7 21.8 40.7 23.2 46.5 25 53.3 27.3 59.1 29.1 66.2 31.7 74.1 34.5 -7.8 25.9 -8.8 23.5 -149.8 -55.4 -118 -42.6 -94.4 -32.7 -71.3 -22.9 -52 -14.6 -21.1 -4.9 -18 -3.3 -15.7 -1.9 -13.8 -.5 -12.7 .8 -12.5 2 14.7 -22.9 13.4 -24.8 11.6 -25.7 10.7 -29 9.5 -30.9 8.3 -33.3 7.7 -37.8 6.7 -40.5z" fill="#38ffc7"/>
<path d="M584.8 125.4l3.5 19.2 4.7 16.9 6.3 15.9 8 15 10.1 14.7 12.2 14.5 14.2 14.3 17.2 14.9 28.7 21.8 34.6 23.1 41.7 25.2 48.9 27.3 57 30 65.2 32.6 75.4 36.3 84.3 39.3 -7.3 24.4 -8.2 22.1 -149.8 -55.5 -118.9 -42.9 -92.3 -32 -72.3 -23.4 -52.2 -14.7 -20.7 -4.8 -17.8 -3.3 -15.5 -1.9 -13.6 -.5 -12.6 .6 -12.4 2.1 14.5 -23.2 12.7 -24.1 11.3 -25.7 10.1 -27.7 9.2 -30 8.5 -34.5 7.3 -36 6.7 -40.5z" fill="#3fffc0"/>
<path d="M584.8 125.4l3.5 19.2 4.8 17.3 6.4 15.9 8.1 15 10.2 14.9 12.2 14.4 14.8 14.7 17.4 15 28.7 21.7 35.4 23.5 41.4 24.9 48.7 27.1 56.6 29.7 65.1 32.6 74.4 35.8 84.3 39.3 -6.7 22.6 -7.6 21.1 -149.1 -55.3 -119.9 -43.3 -93.2 -32.4 -70.8 -22.9 -52 -14.8 -20.5 -4.8 -18 -3.3 -15.1 -1.9 -13.6 -.7 -12.6 .7 -12.3 1.9 13.7 -22.5 12.5 -24.2 11.2 -25.9 10.1 -27.9 9 -30.2 8 -33 7.3 -36.1 6.3 -38.6z" fill="#46ffb9"/>
<path d="M584.8 125.4l3.6 19.6 4.8 17.2 6.5 16 8.4 15.4 10.3 14.8 12.6 14.7 15.1 14.8 17.9 15.4 29 21.6 35.4 23.4 41.7 25 48.5 26.9 56.4 29.5 65.2 32.6 73.3 35.2 83.3 38.9 -6.3 21.3 -6.9 19.6 -147.6 -54.8 -119.3 -43.2 -94.4 -32.9 -71.4 -23.2 -51.4 -14.6 -20.4 -4.9 -18 -3.4 -15.3 -2 -13.7 -.7 -12.4 .6 -12.2 1.9 13.3 -22.2 12.1 -23.9 10.5 -24.7 9.9 -28 9 -30.4 7.7 -31.8 7.2 -35.6 6.3 -38.6z" fill="#4dffb2"/>
<path d="M584.8 125.4l3.6 19.6 5 17.6 6.5 16 8.4 15.4 10.6 15.1 12.7 14.7 15.3 14.9 18.3 15.6 28.8 21.4 35.4 23.2 41.7 25 48.9 27.1 56 29.3 65.2 32.5 73.3 35.2 82.3 38.4 -5.6 19.2 -6.5 18.9 -147.5 -54.8 -118.8 -43.1 -94.9 -33.1 -70.8 -23.1 -51.7 -14.8 -20.8 -5 -17.8 -3.4 -15 -2 -13.5 -.7 -12.3 .6 -12.1 1.8 13 -22.3 11.6 -23.3 10.9 -26.3 9.3 -26.8 8.4 -29 7.6 -31.5 6.9 -34.5 6.3 -38.3z" fill="#54ffab"/>
<path d="M584.8 125.4l3.6 19.9 5.1 17.7 6.6 16 8.5 15.5 10.7 15 13.1 15.1 15.5 15 18.5 15.6 29.4 21.7 34.6 22.7 41.8 24.8 48.6 27 56.2 29.4 64.4 32.1 73.1 35.1 82.3 38.4 -5.3 18.1 -5.8 17.2 -148.9 -55.4 -118.2 -42.9 -92.3 -32.2 -72.3 -23.7 -52.1 -15 -20.2 -4.9 -17.8 -3.4 -15 -2 -13.3 -.7 -12.2 .5 -11.9 1.8 12.4 -21.7 11.4 -23.4 10.3 -25.1 9.2 -26.9 8.4 -29.2 7.5 -31.6 6.8 -34.4 6 -36.6z" fill="#5bffa4"/>
<path d="M584.8 125.4l3.6 19.9 5.1 17.7 6.7 16.4 8.7 15.5 11.1 15.6 13.4 15.1 15.8 15.2 19.1 15.9 29.5 21.6 35.4 23 41.6 24.7 48.3 26.6 56 29.2 64.1 32 72.3 34.7 81.3 37.9 -10.1 32.5 -146.3 -54.4 -120.6 -43.9 -93.8 -32.8 -70.9 -23.3 -50.8 -14.7 -20.6 -5 -17.8 -3.5 -15 -2.1 -13.5 -.8 -12.2 .5 -11.8 1.8 11.8 -21.1 11.3 -23.6 9.9 -24.7 8.9 -26.2 7.9 -27.6 7.5 -31.6 6.8 -34.4 6 -36.6z" fill="#62ff9d"/>
<path d="M584.8 125.4l3.7 20.3 5.2 18 6.9 16.4 8.8 15.6 11.4 15.7 13.6 15.2 16.6 15.8 19.3 15.9 29.6 21.4 35.6 23 41.1 24.3 48.5 26.7 55.4 28.8 63.7 31.8 72.3 34.7 80.3 37.4 -9.1 29.7 -150.5 -56 -117.4 -42.7 -92.6 -32.5 -71 -23.3 -51 -14.8 -20.7 -5.1 -17.5 -3.5 -15.1 -2 -13.1 -.8 -12 .4 -11.6 1.7 11.7 -21.3 10.8 -23 9.7 -24.7 8.9 -26.5 7.8 -27.9 7 -30 6.4 -32.6 6 -36.6z" fill="#69ff96"/>
<path d="M584.8 125.4l3.7 20.3 5.2 18 7.1 16.8 8.9 15.7 11.5 15.7 13.7 15.3 16.9 15.9 19.5 16 29.6 21.3 35.2 22.7 41.1 24.2 48.1 26.5 55.8 29 63.1 31.5 72.3 34.7 80.3 37.4 -8.2 27 -146.2 -54.5 -120.9 -44.1 -93.3 -32.7 -71.2 -23.5 -51 -14.9 -20.1 -4.9 -17.5 -3.5 -14.7 -2.1 -13.1 -.8 -11.9 .4 -11.6 1.7 11.4 -21.3 10.3 -22.7 9.4 -24.2 8.5 -25.6 7.8 -28.3 7 -30.2 6.4 -32.7 5.6 -34.6z" fill="#71ff8e"/>
<path d="M584.8 125.4l3.8 20.6 5.4 18.3 7.1 16.8 9.1 15.9 11.7 15.8 14 15.4 17.1 15.9 20.4 16.5 29.5 21.1 35.6 22.9 41.8 24.5 47.3 25.9 55.5 28.9 63.2 31.4 71.3 34.2 79.2 36.9 -7.2 24.2 -150.4 -56 -117.3 -42.8 -92.5 -32.5 -70.8 -23.4 -51.3 -15 -20.5 -5.1 -17 -3.4 -14.9 -2.2 -12.8 -.8 -11.8 .4 -11.5 1.6 11.2 -21.4 10 -22.3 8.8 -22.8 8.4 -26.1 7.7 -27.9 6.6 -28.7 6.4 -32.7 5.6 -34.6z" fill="#78ff87"/>
<path d="M584.8 125.4l3.8 20.6 5.4 18.4 7.2 16.9 9.3 16.2 12 16 14.5 15.8 17.5 16.1 20.9 16.8 29.7 21 35.4 22.5 40.8 24 47.9 26.2 55 28.5 63.1 31.4 70.3 33.7 79.2 36.9 -6.3 21.5 -146.1 -54.5 -120.6 -44.1 -93.3 -32.8 -70.7 -23.4 -50.8 -15 -20.4 -5.1 -17.4 -3.6 -14.6 -2.1 -13 -.9 -11.7 .3 -11.4 1.6 10.5 -20.4 10.1 -22.9 8.7 -23.1 7.9 -24.7 7.2 -26.5 7 -30.3 6 -30.9 5.6 -34.6z" fill="#7fff80"/>
<path d="M584.8 125.4l3.9 21 5.4 18.4 7.3 16.9 9.4 16.2 11.9 15.9 15 16.2 17.5 16 21.3 17 29.7 21 35.4 22.4 40.7 23.8 47.9 26.2 55 28.5 62.1 30.9 70.3 33.7 79.2 36.9 -5.5 18.8 -150.4 -56.2 -117.4 -42.9 -91.9 -32.4 -71.2 -23.6 -50.8 -15 -20.2 -5.1 -17.3 -3.5 -14.4 -2.1 -12.8 -.9 -11.5 .3 -11.2 1.5 10 -20 9.5 -21.7 8.6 -23.2 7.9 -24.8 7.2 -26.6 6.7 -29.4 5.8 -30.1 5.6 -34.6z" fill="#86ff79"/>
<path d="M584.8 125.4l3.9 21 5.6 18.8 7.5 17.3 9.6 16.3 12.1 15.9 15.3 16.3 18.3 16.6 21.4 16.9 29.5 20.7 35.5 22.4 40.9 23.8 47.8 26.1 55 28.4 62.1 30.9 69.3 33.1 78.2 36.5 -4.6 16.1 -148.8 -55.6 -117.5 -43 -93.4 -33 -70.5 -23.5 -51.1 -15.1 -19.8 -5 -17.3 -3.6 -14.7 -2.3 -12.8 -.9 -11.5 .3 -11 1.5 9.7 -19.6 9.3 -22 8.5 -23.3 7.8 -25 6.8 -25.6 6.4 -28.3 5.9 -31.1 5.3 -32.5z" fill="#8dff72"/>
<path d="M584.8 125.4l4 21.3 5.6 18.9 7.6 17.3 9.7 16.3 12.6 16.5 15.4 16.2 18.4 16.6 22.4 17.5 29.5 20.5 35.7 22.4 40.7 23.6 47.9 26.1 54.6 28.2 61.5 30.5 69.2 33.1 77.2 36 -3.8 13.4 -147.4 -55.2 -119.8 -43.8 -92.4 -32.7 -71 -23.7 -50.5 -15 -19.6 -5 -17.5 -3.7 -14.2 -2.1 -12.7 -1 -11.5 .2 -11 1.5 9.7 -20.3 8.8 -21.1 7.9 -22 7.8 -25.1 6.6 -25.3 6.5 -28.9 5.5 -29.2 5.3 -32.5z" fill="#94ff6b"/>
<path d="M584.8 125.4l4.1 21.7 5.7 18.8 7.6 17.4 10.1 16.8 12.9 16.5 15.6 16.4 19.3 17.2 22.4 17.3 29.7 20.4 35.5 22.2 40.7 23.6 47.9 25.9 54 27.9 61.2 30.3 69.1 33.1 76.2 35.5 -3 10.7 -148.9 -55.8 -117.2 -42.9 -93.2 -33 -70.4 -23.6 -50.9 -15.2 -20.2 -5.1 -16.7 -3.6 -14.6 -2.2 -12.7 -1 -11.3 .2 -10.8 1.4 9.6 -20.3 8.5 -21 7.9 -22.2 7.1 -23.7 6.6 -25.3 6.1 -27.2 5.5 -29.2 5.3 -32.5z" fill="#9bff64"/>
<path d="M584.8 125.4l4.1 21.7 5.8 19.2 7.9 17.8 10.3 16.9 13.1 16.6 15.9 16.5 19.3 16.9 23.4 18 30 20.5 35.2 21.8 40.7 23.5 47.8 25.9 53.5 27.6 60.6 29.9 68.2 32.7 76.2 35.5 -2.2 8 -145.4 -54.4 -119.3 -43.9 -93.3 -33.1 -71.1 -23.8 -50.7 -15.2 -20.2 -5.2 -17.1 -3.7 -14.4 -2.3 -12.7 -1 -11.3 .2 -10.7 1.3 8.8 -18.9 8.4 -20.8 7.7 -22.3 7.2 -23.8 6.6 -25.4 6 -27.3 5.5 -29.4 4.9 -30.5z" fill="#a2ff5d"/>
<path d="M584.8 125.4l4.1 22 5.9 19.3 8.1 17.8 10.3 16.9 13.3 16.8 16.6 17 20.1 17.4 23.4 17.8 25.6 17.5 29.8 18.8 34.2 20.1 37.7 20.9 57 30 66.2 33.1 75.4 36.3 84.3 39.3 -1.5 5.3 -146.1 -54.8 -121 -44.4 -92.9 -33 -69.9 -23.4 -50.1 -15.1 -19.8 -5.1 -16.9 -3.7 -14.2 -2.2 -12.5 -1.1 -11.3 .1 -10.8 1.4 9 -19.9 7.8 -19.8 7.2 -20.9 7.2 -23.9 6.5 -25.6 5.6 -25.7 5.5 -29.2 4.9 -30.5z" fill="#aaff55"/>
<path d="M584.8 125.4l4.1 22 6.1 19.7 8.1 17.9 10.7 17.3 13.8 17 16.6 17 20.6 17.7 23.9 17.9 27.4 18.6 32.6 20.2 37.2 21.5 42.3 23.1 55.1 28.7 63 31.3 71.3 34.2 79.2 36.9 -.7 2.6 -149.3 -55.9 -118 -43.4 -91.6 -32.6 -70.7 -23.7 -50.5 -15.3 -19.7 -5.1 -16.9 -3.7 -14.1 -2.2 -12.4 -1.1 -11.1 .1 -10.6 1.4 8.2 -18.4 8 -20.6 7.2 -21.2 6.8 -23.1 6.1 -23.9 5.9 -27.4 5.2 -27.5 4.9 -30.5z" fill="#b1ff4e"/>
<path d="M584.8 125.4l4.2 22.4 6.1 19.6 8.2 17.9 10.9 17.4 13.5 16.9 17.2 17.3 20.7 17.7 25.1 18.7 30.3 20.3 35 21.4 40.6 23.2 46.8 25.2 53 27.2 59 29.1 67.2 32.1 73.8 34.4 -148.3 -55.6 -117 -43 -92.9 -33.2 -69.8 -23.5 -50.5 -15.3 -20.1 -5.3 -16.9 -3.7 -14.5 -2.4 -12.3 -1 -11.1 .1 -10.4 1.2 8.5 -19.5 7.7 -20.1 7 -21.4 6.5 -22.6 6 -24.2 5.5 -25.7 5.1 -27.6 4.6 -28.5z" fill="#b8ff47"/>
<path d="M584.8 125.4l4.1 21.7 5.8 19.2 7.9 17.8 10.3 16.9 13.1 16.6 15.9 16.5 19.8 17.4 23.2 17.7 28.5 19.5 33.1 20.7 37.9 22 43.2 23.6 49.4 25.8 55 27.5 62.1 30 68.1 32.1 -136.5 -51.1 -110.7 -40.6 -86.8 -30.7 -66 -22.1 -47.4 -14.2 -34.7 -8.3 -13.4 -2.1 -11.8 -1 -10.8 .1 -10.2 1.2 8.4 -19.4 7.2 -19.4 6.8 -20.8 6.4 -22.8 6 -24.2 5.1 -24 5.1 -27.6 4.6 -28.5z" fill="#bfff40"/>
<path d="M584.8 125.4l4 21.3 5.6 18.9 7.6 17.3 9.7 16.3 12.2 16 15.2 16.2 18.2 16.4 22 17.3 26.7 18.7 30.5 19.5 35.7 21.1 39.9 22.3 45.6 24.1 51.8 26.3 57.1 28 63.6 30.3 -127 -47.3 -104.4 -38.2 -80.9 -28.5 -60.5 -20 -44.4 -13.2 -33.3 -7.8 -13 -2 -11.3 -1 -10.3 .2 -9.8 1.1 8 -19.3 7 -19 6.5 -20 6.4 -22.9 5.8 -23.8 5.1 -24.2 9.4 -54.6z" fill="#c6ff39"/>
<path d="M584.8 125.4l3.8 20.6 5.4 18.3 7.1 16.8 9.2 15.9 11.6 15.8 14.5 15.9 17.4 16.1 20.1 16.2 24.9 18 28.5 18.6 32.6 19.8 37.7 21.4 42.8 23 47.8 24.7 53.2 26.4 58.9 28.4 -118.3 -44 -95.2 -34.7 -75.3 -26.4 -58.8 -19.3 -42 -12.4 -31.4 -7.2 -12.3 -1.8 -11.1 -.9 -9.8 .1 -9.6 1.1 7.9 -19 6.9 -19.4 6.4 -20.2 5.9 -21.4 5.5 -22.6 5.1 -24.1 9.3 -54.2z" fill="#cdff32"/>
<path d="M584.8 125.4l3.6 19.9 5.2 18 6.8 16.4 8.8 15.7 11.2 15.5 13.5 15.2 16.1 15.4 19.3 16 23.4 17.3 26.5 17.7 30.6 18.8 34.6 20.1 39.7 21.7 43.8 23 49.9 25.1 54.6 26.7 -110.8 -41 -88.8 -32.2 -70.1 -24.4 -53.7 -17.6 -39.9 -11.6 -30.1 -6.8 -12 -1.8 -10.4 -.7 -9.5 .1 -9.3 1.1 7.2 -18 6.8 -19.1 6.4 -20.3 5.9 -21.5 10.5 -47 8.9 -52.2z" fill="#d4ff2b"/>
<path d="M584.8 125.4l3.6 19.6 4.8 17.2 6.5 16 8.4 15.4 10.3 14.8 12.6 14.7 15.1 14.8 18.1 15.6 21.7 16.4 25.1 17.2 28.6 18.1 32.6 19.2 36.6 20.5 40.7 21.7 45.9 23.5 51 25.2 -103 -38 -82.2 -29.7 -65.6 -22.7 -51 -16.5 -37.8 -10.8 -28.4 -6.3 -11.4 -1.7 -10 -.7 -9.2 .2 -8.8 1 7.1 -17.9 6.5 -18.5 6.1 -20 5.8 -21.3 10.1 -45.3 8.9 -52.2z" fill="#dbff24"/>
<path d="M584.8 125.4l3.5 19.2 4.7 16.9 6.1 15.5 8 14.9 10 14.9 12 14.3 14.6 14.6 16.4 14.5 20.4 15.8 23.4 16.4 26.5 17.2 30.5 18.3 34.7 19.7 37.7 20.4 88.8 45.4 -94.9 -35 -76.7 -27.5 -61.9 -21.3 -48 -15.4 -35.6 -10.1 -26.9 -5.8 -10.8 -1.5 -9.8 -.7 -8.9 .2 -8.4 1 7 -18 6.1 -18 5.8 -18.9 5.8 -21.5 10.1 -45.7 8.5 -50.3z" fill="#e3ff1c"/>
<path d="M584.8 125.4l3.3 18.5 4.5 16.5 6 15.4 7.5 14.5 9.2 14 11.2 13.9 13.7 14.3 15.7 14.1 18.9 15.1 22 15.9 24.4 16.2 28.4 17.5 31.7 18.4 35.1 19.3 83 43.1 -88.5 -32.5 -72.2 -25.8 -57.3 -19.5 -44.8 -14.3 -33.3 -9.3 -25.5 -5.4 -19.7 -2 -8.6 .2 -8.2 .9 6.9 -18.1 6.1 -18.1 11.1 -39.2 9.6 -43.8 8.5 -50.3z" fill="#eaff15"/>
<path d="M584.8 125.4l3.2 18.2 4.4 16.1 5.6 14.8 7.1 14.1 8.7 13.7 10.7 13.6 12.5 13.4 15 13.9 17.7 14.6 20.2 15 23.2 15.7 25.9 16.3 30.1 17.9 32.6 18.3 76.5 40.3 -80.4 -29.3 -68.4 -24.3 -53.3 -18.1 -42.4 -13.4 -31.7 -8.7 -24.3 -5.1 -19.2 -1.9 -8.2 .2 -7.8 .9 12.3 -34.9 11 -39.4 9.4 -43.1 8.3 -49.3z" fill="#f1ff0e"/>
<path d="M584.8 125.4l3.1 17.5 4.1 15.7 5.4 14.5 6.8 13.9 8.4 13.5 10.1 13.3 12 13.2 13.9 13.2 16.6 14.1 18.8 14.2 21.1 14.7 24.3 15.7 27.5 16.7 30.5 17.5 71 38.1 -138.1 -49.6 -50.4 -17 -39.3 -12.2 -30 -8.2 -23.3 -4.7 -18.1 -1.8 -8 .2 -7.6 .9 12.1 -34.8 10.5 -38.5 9.1 -42.2 8.2 -48.4z" fill="#f8ff07"/>
<path d="M584.8 125.4l3 17.1 4 15.3 5.1 14.2 6.4 13.3 8 13.2 9.5 12.9 11.1 12.7 12.9 12.7 15.3 13.4 17.4 13.5 20.3 14.6 22.4 14.8 25.5 15.8 28.5 16.7 65.7 35.9 -129.9 -46.3 -46.4 -15.6 -36.8 -11.3 -28.4 -7.5 -21.7 -4.3 -17.3 -1.5 -14.7 1 11.6 -34 10.3 -38.2 9.1 -42.5 7.8 -46.4z" fill="#ffff00"/>
<path d="M584.8 125.4l2.9 16.4 3.8 14.9 4.8 13.8 6.1 13.2 7.3 12.5 8.9 12.4 10.5 12.5 12.2 12.4 14.6 13.1 16.3 13.1 18.7 13.8 21.2 14.3 23.4 14.9 26.5 15.9 60.6 33.8 -120.4 -42.8 -43.9 -14.6 -34.4 -10.4 -26.4 -6.9 -20.9 -4.1 -16.6 -1.4 -14.3 1 11.5 -34.4 9.9 -36.7 8.6 -40.8 7.8 -46.4z" fill="#fff800"/>
<path d="M584.8 125.4l2.8 16.1 3.7 14.5 4.5 13.3 5.8 12.8 7 12.4 8.2 11.8 9.7 11.9 11.5 12.1 13.8 12.8 15.4 12.7 17.4 13.2 19.3 13.4 21.4 14 24.5 14.9 56.7 32.3 -110.6 -39 -40.6 -13.4 -33.4 -10.1 -25.1 -6.5 -20.1 -3.8 -16.1 -1.4 -13.8 1 10.9 -33.2 9.8 -36.9 8.6 -40.9 7.4 -44.5z" fill="#fff100"/>
<path d="M584.8 125.4l2.6 15.4 3.5 14.1 4.5 13.3 5.4 12.3 6.8 12.3 7.7 11.5 9.4 11.8 10.7 11.6 12.5 11.9 14.3 12.2 16.3 12.7 18.3 13.1 20.4 13.5 22.4 14.1 51.9 30.2 -104.4 -36.7 -37.9 -12.3 -30.1 -9 -23.9 -6 -18.7 -3.5 -15.3 -1.2 -13.4 .9 10.8 -33.6 9.3 -35.5 8.3 -39.7 7.3 -43.9z" fill="#ffea00"/>
<path d="M584.8 125.4l2.6 15 3.3 13.8 4.3 12.9 5.1 11.9 6.2 11.7 7.5 11.6 8.7 11.2 9.9 11.1 11.8 11.7 13.1 11.5 15.1 12.1 17.3 12.7 39.7 26.3 48 28.5 -97 -33.8 -35.2 -11.3 -28.9 -8.5 -22.3 -5.6 -17.6 -3.1 -14.8 -1.2 -12.8 1 10.3 -32.5 9.2 -35.7 8.1 -39.3 7.1 -42.5z" fill="#ffe200"/>
<path d="M584.8 125.4l2.5 14.7 3.2 13.4 4.1 12.4 4.9 11.9 5.8 11.2 7 11.1 8.1 10.9 9.6 11.1 10.8 10.9 12.3 11.2 14.1 11.6 15.8 12 36.7 25 44.6 27.1 -89.1 -30.9 -33.7 -10.7 -26.9 -7.8 -21.4 -5.3 -17 -3 -14 -1 -12.5 .9 10.1 -32 8.9 -35.1 7.7 -37.6 7.1 -42.5z" fill="#ffdb00"/>
<path d="M584.8 125.4l2.4 14.3 3.1 13.1 3.8 12 4.7 11.4 5.6 11.2 6.4 10.5 7.8 10.7 8.7 10.5 10.2 10.7 11.4 10.8 13.3 11.2 14.3 11.2 34.5 24.1 41.1 25.6 -83.4 -28.7 -30.9 -9.7 -25.2 -7.2 -20.1 -4.9 -16.4 -2.8 -13.5 -.9 -11.9 .8 9.8 -31.8 8.5 -33.8 7.8 -38.3 6.7 -40.5z" fill="#ffd400"/>
<path d="M584.8 125.4l2.4 14 2.9 12.7 3.6 11.6 4.5 11.4 5.3 10.7 6.2 10.4 7.1 10.1 8.4 10.3 9.5 10.4 10.7 10.4 11.9 10.4 14 11.3 31.5 22.6 37.8 24.1 -77.4 -26.4 -29.4 -9.2 -23.3 -6.5 -18.9 -4.5 -15.6 -2.6 -12.9 -.8 -11.5 .8 9.4 -30.7 8.5 -34.5 7.3 -36 6.7 -40.5z" fill="#ffcd00"/>
<path d="M584.8 125.4l2.2 13.3 2.9 12.4 3.5 11.5 4.2 10.9 4.8 10.2 5.9 10.3 6.8 10.1 7.6 9.7 8.9 10 10.2 10.2 23.8 20.6 29.2 21.6 35.1 23.1 -71.6 -24.3 -27.1 -8.4 -22.8 -6.3 -17.7 -4.1 -14.8 -2.4 -12.3 -.7 -11.1 .8 8.9 -29.7 8.1 -32.8 7.3 -36 6.7 -40.5z" fill="#ffc600"/>
<path d="M584.8 125.4l2.2 13 2.7 11.9 3.3 11.2 3.9 10.5 4.7 10.1 5.5 9.8 6.2 9.6 7.1 9.5 8.2 9.6 9.4 9.7 22.2 19.9 27.4 21 32.4 21.8 -66.8 -22.5 -25.5 -7.8 -20.8 -5.6 -16.9 -3.8 -14 -2.2 -11.8 -.7 -10.8 .7 8.9 -30.2 7.7 -31.8 7.2 -35.6 6.3 -38.6z" fill="#ffbf00"/>
<path d="M584.8 125.4l4.7 24.2 3.1 10.8 3.7 10.1 4.3 9.6 5.2 9.8 5.9 9.3 6.9 9.4 16.3 18.6 20.3 18.8 25.3 20 30.2 20.9 -62.4 -20.7 -43.2 -12.4 -16 -3.5 -13.2 -2 -11.4 -.6 -10.2 .7 8.4 -29.2 7.6 -31.5 6.9 -34.5 6.3 -38.3z" fill="#ffb800"/>
<path d="M584.8 125.4l4.5 23.5 6.5 20.4 4.2 9.7 4.9 9.2 5.6 9.3 6.3 8.8 15.1 17.8 19.2 18.4 23.3 18.9 27.6 19.7 -57.5 -18.9 -40.9 -11.6 -15.2 -3.2 -12.6 -1.9 -10.8 -.5 -9.9 .7 8.1 -28.2 7.5 -31.6 6.8 -34.4 6 -36.6z" fill="#ffb100"/>
<path d="M584.8 125.4l4.2 22.4 6.3 20 8.4 18.4 11.1 17.4 14.3 17.5 17.6 17.4 21.6 18.2 25.6 18.9 -53.6 -17.5 -38.2 -10.6 -14.4 -3 -12 -1.7 -10.3 -.5 -9.4 .7 7.9 -28.1 7.2 -30.8 6.4 -32.6 6 -36.6z" fill="#ffa900"/>
<path d="M584.8 125.4l4.1 22 5.9 19.3 8.1 17.8 10.3 16.9 13.2 16.7 16.4 16.8 19.7 17.2 23.8 18.1 -50 -16.1 -35.7 -9.8 -13.3 -2.7 -11.4 -1.6 -9.9 -.4 -9.2 .7 7.7 -27.9 7 -30.2 6.4 -32.7 5.6 -34.6z" fill="#ffa200"/>
<path d="M584.8 125.4l3.9 21 5.6 18.8 7.5 17.3 9.6 16.3 12.5 16.4 15.2 16.2 18.2 16.4 21.9 17.2 -46 -14.7 -33.7 -9 -12.6 -2.5 -11.1 -1.5 -9.5 -.4 -8.7 .7 7.3 -26.9 7 -30.3 6 -30.9 5.6 -34.6z" fill="#ff9b00"/>
<path d="M584.8 125.4l3.8 20.6 5.3 18.1 7.1 16.8 9 15.7 11.5 15.7 14.2 15.7 16.8 15.7 20.1 16.4 -42.8 -13.5 -31.4 -8.3 -12.1 -2.4 -10.5 -1.3 -9 -.3 -8.4 .6 7 -25.9 6.7 -29.4 5.8 -30.1 5.6 -34.6z" fill="#ff9400"/>
<path d="M584.8 125.4l3.6 19.9 5.1 17.7 6.6 16 8.5 15.5 10.7 15 13.1 15.1 15.5 15 18.5 15.6 -40.2 -12.5 -29.3 -7.5 -21.1 -3.3 -8.6 -.3 -8 .6 6.7 -25.4 6.4 -28.3 5.9 -31.1 5.3 -32.5z" fill="#ff8d00"/>
<path d="M584.8 125.4l3.5 19.2 4.7 16.9 6.3 15.9 7.9 14.8 9.9 14.6 12 14.3 14.6 14.6 17 14.9 -37.2 -11.4 -27.4 -6.9 -20.2 -3.1 -8.3 -.3 -7.7 .6 6.7 -25.7 6.1 -27.2 5.5 -29.2 5.3 -32.5z" fill="#ff8600"/>
<path d="M584.8 125.4l3.3 18.5 4.5 16.5 5.8 15 7.4 14.5 9.3 14.2 11.3 14 13.4 13.9 15.5 14.1 -34.5 -10.4 -25.9 -6.4 -19 -2.8 -7.9 -.2 -7.3 .5 6.4 -24.7 6 -27.3 5.5 -29.4 4.9 -30.5z" fill="#ff7f00"/>
<path d="M584.8 125.4l3.2 17.8 4.2 15.7 5.5 15 6.9 13.9 8.6 13.6 10.3 13.3 12.4 13.5 14.4 13.6 -32 -9.6 -24.2 -5.8 -18.1 -2.6 -7.5 -.2 -7.1 .6 6.5 -25.7 5.5 -25.6 5.2 -27.5 4.9 -30.5z" fill="#ff7700"/>
<path d="M584.8 125.4l3 17.1 4 15.3 5.2 14.4 6.5 13.6 7.9 13 9.8 13.1 11.2 12.7 13.2 12.9 -30 -8.8 -22.5 -5.2 -17.1 -2.4 -13.9 .4 6.2 -24.8 5.5 -25.7 5.1 -27.6 4.6 -28.5z" fill="#ff7000"/>
<path d="M584.8 125.4l2.9 16.4 3.8 14.9 4.8 13.8 6.1 13.2 7.3 12.5 8.9 12.4 10.5 12.5 12.1 12.3 -27.8 -8 -21.1 -4.8 -16.2 -2.1 -13.3 .4 5.9 -23.9 5.1 -24 5.1 -27.6 4.6 -28.5z" fill="#ff6900"/>
<path d="M584.8 125.4l2.7 15.7 3.7 14.6 4.5 13.2 5.7 12.8 6.9 12.3 8.2 11.9 9.5 11.7 11.1 11.8 -25.3 -7.1 -19.9 -4.5 -15.6 -2 -12.8 .4 5.6 -23 5.1 -24.1 9.3 -54.2z" fill="#ff6200"/>
<path d="M584.8 125.4l2.6 15.4 3.4 13.8 4.3 12.8 5.3 12.3 6.4 11.8 7.5 11.4 8.8 11.3 10.2 11.4 -23.9 -6.7 -18.4 -4 -14.6 -1.7 -12.2 .4 10.4 -46.5 8.9 -52.2z" fill="#ff5b00"/>
<path d="M584.8 125.4l2.5 14.7 3.2 13.4 4.1 12.4 4.9 11.9 5.8 11.2 7 11.1 8.1 10.9 9.4 10.8 -22.1 -6 -17.4 -3.7 -13.9 -1.6 -11.5 .4 10.1 -45.7 8.5 -50.3z" fill="#ff5400"/>
<path d="M584.8 125.4l2.4 14 3 13 3.8 12 4.6 11.4 5.5 11.1 6.4 10.6 7.3 10.2 8.6 10.4 -20.2 -5.4 -16.4 -3.4 -13.2 -1.4 -11.1 .4 9.7 -44.1 8.3 -49.3z" fill="#ff4d00"/>
<path d="M584.8 125.4l2.3 13.6 2.8 12.3 3.6 11.7 4.2 10.9 4.9 10.2 6 10.4 6.9 10 7.8 10 -18.9 -4.9 -15.4 -3.1 -12.3 -1.2 -10.5 .3 9.1 -42.3 8.2 -48.4z" fill="#ff4600"/>
<path d="M584.8 125.4l2.2 13 2.7 11.9 3.3 11.2 3.9 10.5 4.7 10.1 5.5 9.8 6.2 9.6 7.1 9.5 -17.7 -4.5 -14 -2.7 -11.8 -1.2 -10.1 .4 8.9 -41.7 7.8 -46.4z" fill="#ff3e00"/>
<path d="M584.8 125.4l4.6 23.8 3.1 10.8 3.6 10.1 4.3 9.6 4.9 9.3 5.8 9.3 6.6 9.2 -16.3 -4 -13.4 -2.5 -11 -1 -9.6 .4 8.7 -41 7.4 -44.5z" fill="#ff3700"/>
<path d="M584.8 125.4l4.3 22.7 6.3 20.1 8.6 18.4 11.2 17.6 -15 -3.7 -12.6 -2.2 -10.4 -.9 -9.1 .4 8.1 -39 7.3 -43.9z" fill="#ff3000"/>
<path d="M584.8 125.4l4.1 21.7 5.8 19.2 7.9 17.8 10.2 16.7 -14 -3.2 -11.7 -2 -9.8 -.8 -8.6 .3 7.7 -37.7 7.1 -42.5z" fill="#ff2900"/>
<path d="M584.8 125.4l3.8 20.6 5.4 18.4 7.2 16.9 9.4 16.3 -13.2 -3 -10.7 -1.7 -9.2 -.7 -8.2 .3 7.5 -37.1 6.7 -40.5z" fill="#ff2200"/>
<path d="M584.8 125.4l3.6 19.9 5.1 17.7 6.6 16 8.5 15.4 -22.1 -4.2 -8.8 -.6 -7.9 .3 7.4 -36.4 6.3 -38.6z" fill="#ff1b00"/>
<path d="M584.8 125.4l3.4 18.9 4.7 16.8 6 15.5 7.8 14.7 -20.8 -3.8 -8 -.5 -7.5 .3 6.8 -34.1 6.3 -38.3z" fill="#ff1400"/>
<path d="M584.8 125.4l3.2 17.8 4.3 16.1 5.6 15 7 13.9 -19.1 -3.4 -7.7 -.4 -7.1 .3 6.5 -33.2 6 -36.6z" fill="#ff0d00"/>
<path d="M584.8 125.4l2.9 16.8 4 15.3 5.1 14.1 6.4 13.6 -17.8 -3 -13.9 -.1 6.4 -32.6 5.6 -34.6z" fill="#ff0500"/>
<path d="M584.8 125.4l2.8 16.1 3.7 14.5 4.5 13.3 5.8 12.9 -16.5 -2.7 -13 0 5.8 -30 5.6 -34.6z" fill="#fd0000"/>
<path d="M584.8 125.4l2.6 15 3.3 13.8 4.3 12.9 5.2 12.1 -15.2 -2.3 -12.4 0 5.6 -29.5 5.3 -32.5z" fill="#f60000"/>
<path d="M584.8 125.4l2.4 14.3 3.1 13.1 3.8 12 4.7 11.5 -14.2 -2 -11.4 0 5.4 -28.9 4.9 -30.5z" fill="#ef0000"/>
<path d="M584.8 125.4l2.2 13.3 2.9 12.4 3.5 11.5 4.1 10.8 -12.9 -1.7 -10.9 0 5.2 -28.3 4.6 -28.5z" fill="#e80000"/>
<path d="M584.8 125.4l4.7 24.2 3.1 10.8 3.7 10.2 -12.1 -1.6 -10 .2 9.3 -54.3z" fill="#e10000"/>
<path d="M584.8 125.4l4.2 22.4 6.2 19.9 -11 -1.2 -9.5 .1 8.8 -51.7z" fill="#da0000"/>
<path d="M584.8 125.4l3.9 21 5.5 18.6 -10.3 -1.1 -8.7 .1 8.3 -49.1z" fill="#d30000"/>
<path d="M584.8 125.4l3.6 19.6 4.8 17.2 -9.4 -.9 -8.1 .1 7.8 -46.5z" fill="#cb0000"/>
<path d="M584.8 125.4l3.2 17.8 4.3 16.3 -8.5 -.8 -7.6 .2 7.3 -44z" fill="#c40000"/>
<path d="M584.8 125.4l2.9 16.4 3.8 14.9 -8 -.6 -6.9 .2 6.9 -41.4z" fill="#bd0000"/>
<path d="M584.8 125.4l2.6 15 3.3 13.7 -13.6 -.4 6.4 -38.8z" fill="#b60000"/>
<path d="M584.8 125.4l2.3 13.6 2.9 12.4 -12.4 -.2 5.9 -36.3z" fill="#af0000"/>
<path d="M584.8 125.4l4.5 23.3 -11.3 -.1 5.5 -33.7z" fill="#a80000"/>
<path d="M584.8 125.4l3.8 20.7 -10.1 0 5 -31.2z" fill="#a10000"/>
<path d="M584.8 125.4l3.2 18.1 -9.1 0 4.6 -28.6z" fill="#9a0000"/>
<path d="M584.8 125.4l2.7 15.5 -8.2 .1 4.2 -26.1z" fill="#920000"/>
<path d="M584.8 125.4l2.1 12.9 -7.1 .1 3.7 -23.5z" fill="#8b0000"/>
<path d="M584.8 125.4l1.7 10.3 -6.3 .2 3.3 -21z" fill="#840000"/>
<path d="M584.8 125.4l1.2 7.8 -5.4 .1 2.9 -18.4z" fill="#800000"/>
</g>
<path d="M1014.3 625.1l-147.4 -51.7 -120.5 -40.5 -50.9 -16.2 -46 -14 -40.7 -11.6 -35.7 -9.4 -31 -7.2 -27.1 -5.4 -24.7 -3.7 -22.3 -2.2 -19.9 -.5 -18.7 .9 -18.3 2.5 -19.2 4.2M1033.6 604.4l-145.2 -51.8 -120.4 -41.3 -95.4 -30.8 -39.9 -11.9 -34.9 -9.8 -30 -7.5 -26.2 -5.8 -23.6 -4.1 -21.2 -2.6 -18.8 -1.1 -17.1 .4 -16.7 1.8 -16.7 3.3M1048.1 585.6l-143.9 -51.9 -120.2 -42 -94.1 -31.1 -38.7 -12 -34.9 -10.2 -29.3 -7.8 -25.5 -6 -22.8 -4.5 -20.2 -3 -17.8 -1.4 -16 -.1 -15.3 1.3 -15.2 2.7M1059.3 568.1l-144.8 -52.8 -116.1 -41.1 -93.7 -31.6 -73 -22.7 -28.6 -8 -26.1 -6.5 -22.1 -4.8 -19.1 -3.1 -17.1 -1.9 -15.2 -.4 -14.4 .8 -14.1 2.3M1068.3 551.5l-145.3 -53.4 -117.3 -42 -91.9 -31.4 -71.5 -22.7 -28.9 -8.3 -24.7 -6.5 -21.5 -4.9 -18.4 -3.3 -16.3 -2 -14.5 -.7 -13.5 .5 -12.9 1.8M1075.7 535.5l-143.8 -53.2 -114.7 -41.4 -93.1 -32.3 -72.2 -23.4 -28.2 -8.4 -24.1 -6.5 -21.4 -5.2 -17.9 -3.5 -15.9 -2.2 -14.1 -1 -12.7 .3 -12.4 1.5M1081.8 519.9l-143.4 -53.3 -115.3 -41.8 -91.2 -32 -71.3 -23.5 -52.5 -15.5 -20.9 -5.2 -17.7 -3.7 -15.6 -2.4 -13.4 -1.2 -12.3 .1 -11.7 1.2M1087 504.8l-142.1 -53 -115.2 -42.2 -91.1 -32.2 -71.4 -23.9 -52 -15.6 -20.5 -5.3 -17.4 -3.9 -15.2 -2.5 -13.1 -1.3 -11.8 -.2 -11.1 1M1091.5 489.9l-144 -53.9 -112.6 -41.4 -90.8 -32.3 -71.2 -24.1 -51.4 -15.8 -20.5 -5.4 -16.9 -4 -14.9 -2.7 -12.9 -1.4 -11.3 -.3 -10.7 .8M938.1 416.3l-98.1 -36.2 -78 -28.1 -64.3 -22.2 -50.1 -16.3 -37.7 -11 -28.6 -6.6 -11.5 -1.8 -10.3 -1.1 -9.3 -.1 -8.8 .6M823 357.9l-64.3 -23.1 -52.4 -18.3 -43.4 -14.5 -35.3 -10.9 -26.9 -7.2 -21.5 -4.5 -17.1 -1.9 -14.4 .4M744.8 314.1l-77.6 -26.6 -29.4 -9.3 -24.2 -6.9 -19.4 -4.8 -16.1 -2.9 -13.2 -1.3 -11.7 .4M691.6 280.1l-51.1 -16.7 -36.5 -10.2 -14.2 -3.1 -12.1 -1.9 -10.3 -.8 -9.3 .3M655.4 252.7l-33 -10 -25.7 -6.5 -19.2 -3.1 -8 -.5 -7.1 .2M630.8 229.9l-21.7 -5.9 -17.2 -3.9 -14 -1.8 -11.5 -.1M614.1 210.2l-14 -3.3 -11.6 -2.2 -9.9 -1 -8.7 0M602.7 192.7l-16.3 -2.9 -13.2 -.5M594.9 176.5l-10.1 -1.3 -8.7 -.2M589.7 161.3l-10.9 -.4M586.1 146.8l-4.8 0" fill="none" stroke="#000" stroke-width="1.4"/>
<path d="M1005.2 633.7l-145.7 -50.8 -123.6 -41.1 -57.6 -18 -39.5 -11.8 -45.2 -12.8 -34.7 -8.7 -29.2 -6.5 -30.4 -5.6 -24.5 -3.3 -18.6 -1.5 -21.6 -.4 -17.9 1 -20.9 2.9 -20.6 4.7" fill="none" stroke="#fff" stroke-width="2.8"/>
<path d="M837.7 365.7l-7.9 28.3 -9 25.5 -10.3 23.5 -11.7 21.8 -13.4 20.3 -15.1 19.1 -17.4 18.6 -19.7 18M497.3 371.2l4.2 9.7 6.1 9.2 8.2 9 10.8 9.3 13.7 10 17.1 10.9 20.8 11.9 24.5 13 29.8 15 35.1 16.8 86.9 39.7 111.4 48.6 139.5 59.2" fill="none" stroke="#f00" stroke-width="4.2" stroke-linejoin="round"/>
<path d="M60.5 675.3L579.0 879.2L1096.9 675.3" fill="none" stroke="#000" stroke-width="1.45"/>
<path d="M60.5 675.3L48.4 680.1M164.2 716.1L152.1 720.8M267.9 756.9L255.8 761.6M371.6 797.6L359.5 802.4M475.3 838.4L463.2 843.2M579.0 879.2L566.9 884.0M1039.4 698.0L1051.5 702.8M924.3 743.3L936.4 748.1M809.2 788.6L821.3 793.4M694.1 833.9L706.2 838.7M579.0 879.2L591.1 884.0M60.5 675.3L48.4 670.5M60.5 607.3L48.4 602.5M60.5 539.3L48.4 534.5M60.5 471.3L48.4 466.5M60.5 403.3L48.4 398.5M60.5 335.3L48.4 330.5M60.5 267.3L48.4 262.5" fill="none" stroke="#000" stroke-width="1.45"/>
<g font-family="'Liberation Sans', Arial, sans-serif" font-size="23" fill="#000"><text x="39.2" y="704.6" text-anchor="end">0</text><text x="142.9" y="745.4" text-anchor="end">0.2</text><text x="246.6" y="786.2" text-anchor="end">0.4</text><text x="350.3" y="826.9" text-anchor="end">0.6</text><text x="454.0" y="867.7" text-anchor="end">0.8</text><text x="557.7" y="908.5" text-anchor="end">1</text><text x="1057.7" y="726.4">2</text><text x="942.6" y="771.7">4</text><text x="827.5" y="817.0">6</text><text x="712.4" y="862.3">8</text><text x="597.3" y="907.6">10</text><text x="39.7" y="675.6" text-anchor="end">0</text><text x="39.7" y="607.6" text-anchor="end">2</text><text x="39.7" y="539.6" text-anchor="end">4</text><text x="39.7" y="471.6" text-anchor="end">6</text><text x="39.7" y="403.6" text-anchor="end">8</text><text x="39.7" y="335.6" text-anchor="end">10</text><text x="39.7" y="267.6" text-anchor="end">12</text><text x="60.6" y="212.8">x 10</text><text x="106.2" y="189.6" font-size="15.5">4</text><text x="1099.7" y="731.8">x 10</text><text x="1144.6" y="708.8" font-size="15.5">-4</text></g>
<g font-family="'Liberation Serif', 'Times New Roman', serif" fill="#000"><text x="7.5" y="140.2" font-size="31" font-style="italic">L</text><text x="24.5" y="146.5" font-size="25" font-style="italic" textLength="47.5" lengthAdjust="spacingAndGlyphs">max</text><text x="163.5" y="848" font-size="29" font-style="italic" text-anchor="middle">&#946;</text><path d="M138.8 861.5H190.2" stroke="#000" stroke-width="1.8"/><text x="139.5" y="891.5" font-size="29" font-style="italic">&#945;C</text><text x="176.5" y="897.5" font-size="21">0</text><text x="939.5" y="840.5" font-size="29" font-style="italic" text-anchor="middle">&#964;</text><path d="M919.6 855.2H962.3" stroke="#000" stroke-width="1.8"/><text x="920" y="885" font-size="29" font-style="italic">V</text><text x="937.5" y="891.5" font-size="25" font-style="italic">at</text><text x="452.0" y="38.6" font-size="44" font-style="italic">k</text><path d="M492.6 21.0H518.2M492.6 29.4H518.2" stroke="#000" stroke-width="2.2"/><text x="536.8" y="38.6" font-size="44" textLength="149.6" lengthAdjust="spacingAndGlyphs">0.00025</text></g>
<g transform="translate(142.9 611.3) rotate(-21.5) scale(1.80 0.80)" fill="#e8c8c8" stroke="#e8c8c8" stroke-width="0.7" stroke-linejoin="round" font-family="'Liberation Sans', Arial, sans-serif" font-weight="bold" font-size="20.7"><text x="0" y="0" textLength="132.8" lengthAdjust="spacing">Geometrical</text><text x="18.2" y="34.6" textLength="117.2" lengthAdjust="spacing">restriction</text></g><g transform="translate(142.3 610.3) rotate(-21.5) scale(1.80 0.80)" fill="#fff" stroke="#fff" stroke-width="0.7" stroke-linejoin="round" font-family="'Liberation Sans', Arial, sans-serif" font-weight="bold" font-size="20.7"><text x="0" y="0" textLength="132.8" lengthAdjust="spacing">Geometrical</text><text x="18.2" y="34.6" textLength="117.2" lengthAdjust="spacing">restriction</text></g>
<g font-family="'Liberation Serif', 'Times New Roman', serif" fill="#000"><path d="M850.3 253.1L797.4 274.1L756.1 508.6" fill="none" stroke="#000" stroke-width="1.6"/><path d="M753.9 520.9L751.4 502.7L756.1 508.6L762.5 504.6z" fill="#000"/><rect x="850.3" y="203.4" width="275.3" height="99.5" fill="#fff" stroke="#000" stroke-width="1.5"/><text x="889.6" y="243.0" font-size="31" textLength="55.7" lengthAdjust="spacingAndGlyphs">(0.5;</text><text x="959.9" y="243.0" font-size="31" textLength="116.0" lengthAdjust="spacingAndGlyphs">0.00025)</text><text x="866.8" y="284.1" font-size="31.5" font-style="italic">L</text><text x="882.8" y="290.3" font-size="25" font-style="italic" textLength="45" lengthAdjust="spacingAndGlyphs">max</text><path d="M945.1 269.5H964.0M945.1 276.5H964.0" stroke="#000" stroke-width="1.9"/><text x="975.3" y="284.1" font-size="31" textLength="79.5" lengthAdjust="spacingAndGlyphs">24437</text><text x="1064.9" y="284.1" font-size="31" font-style="italic" textLength="41.1" lengthAdjust="spacingAndGlyphs">&#956;m</text></g>
<text x="-37.2" y="45.0" font-family="'Liberation Sans', Arial, sans-serif" font-weight="bold" font-size="52">B</text>
</g>
<g transform="translate(649.5 1001.0)">
<path d="M60.5 675.3L578.4 471.4M578.4 471.4L1096.9 675.3M60.5 607.3L578.4 403.4M578.4 403.4L1096.9 607.3M60.5 539.3L578.4 335.4M578.4 335.4L1096.9 539.3M60.5 471.3L578.4 267.4M578.4 267.4L1096.9 471.3M60.5 403.3L578.4 199.4M578.4 199.4L1096.9 403.3M60.5 335.3L578.4 131.4M578.4 131.4L1096.9 335.3M60.5 267.3L578.4 63.4M578.4 63.4L1096.9 267.3M520.9 494.1L520.9 86.1M520.9 494.1L1039.4 698.0M405.8 539.4L405.8 131.4M405.8 539.4L924.3 743.3M290.7 584.7L290.7 176.7M290.7 584.7L809.2 788.6M175.6 630.0L175.6 222.0M175.6 630.0L694.1 833.9M60.5 675.3L60.5 267.3M60.5 675.3L579.0 879.2M578.4 471.4L578.4 63.4M578.4 471.4L60.5 675.3M682.1 512.2L682.1 104.2M682.1 512.2L164.2 716.1M785.8 553.0L785.8 145.0M785.8 553.0L267.9 756.9M889.5 593.8L889.5 185.8M889.5 593.8L371.6 797.6M993.2 634.6L993.2 226.6M993.2 634.6L475.3 838.4M1096.9 675.3L1096.9 267.3M1096.9 675.3L579.0 879.2" fill="none" stroke="#000" stroke-width="1.75" stroke-dasharray="2.5 6.8"/>
<clipPath id="cbC"><path d="M947.6 677.4l-.6 31.3 -1.2 12.6 -1.2 3.9 -1.6 2.7 -2.6 2.4 -4.2 2.6 -16 7.2 -37.8 15.3 -302.8 119.4 -251.3 -102.3 -86.8 -36.3 -65 -28 -45 -20.5 -31 -15.6 -10.7 -6.3 -8.2 -5.4 -6 -5 -4.2 -4.8 63.7 -30.1 53.4 -27.3 22.7 -12.6 21.4 -12.4 18.7 -11.7 17.2 -11.6 28.9 -7.7 14.8 -3 14.5 -2.4 14.3 -1.7 17.5 -1.2 28.4 -.2 19.2 1.1 21.7 2.1 18.4 2.4 24.5 3.9 23.5 4.4 31.6 6.8 61.3 15.1 74.9 21.2 79.1 24 98.7 31.7 106.7 35.7z"/></clipPath>
<g opacity="0.70" clip-path="url(#cbC)">
<path d="M584.8 125.4l4.2 22.4 6.1 19.6 8.2 17.9 10.9 17.4 14 17.4 17.2 17.3 20.8 17.7 24.7 18.4 30.3 20.3 35.7 21.8 40.7 23.2 46.5 25 53.3 27.3 59.1 29.1 66.2 31.7 74.1 34.5 -9.7 31.3 -5.5 14.6 -6 13.8 -6 12.2 -7 12.5 -7.6 12.1 -8.2 11.5 -8.9 11.3 -9.7 10.9 -10.5 10.6 -11.3 10.6 -25.6 20.8 -29 20.2 -.7 45.4 -.9 4.7 -2.1 2.6 -7.9 4.1 -25.2 10.2 -335 132 -258.5 -105.3 -88.5 -37.1 -65.2 -28.1 -44.8 -20.6 -29.5 -15.1 -10.1 -6.1 -7.6 -5.4 -5.4 -5 -3.7 -4.9 66.1 -31.6 54.3 -28.2 37.4 -21.3 32.1 -20.6 43.6 -23.9 38.6 -22.8 37.3 -24.1 32.6 -23.7 28.6 -23.5 25.1 -24 12.2 -13.1 11.6 -13.8 10.9 -14.4 9.6 -14 8.9 -14.3 8.9 -16.1 8.4 -16.8 7.1 -16.3 6.6 -17 6.7 -19.4 5.8 -18.9 5.8 -21.5 10.1 -45.7 8.5 -50.3z" fill="#000083"/>
<path d="M584.8 125.4l4.2 22.4 6.1 19.6 8.2 17.9 10.9 17.4 14 17.4 17.2 17.3 20.8 17.7 24.7 18.4 30.3 20.3 35.7 21.8 40.7 23.2 46.5 25 53.3 27.3 59.1 29.1 66.2 31.7 74.1 34.5 -9.7 31.3 -5.5 14.6 -6 13.8 -6 12.2 -7 12.5 -7.6 12.1 -8.2 11.5 -8.9 11.3 -9.7 10.9 -10.5 10.6 -11.3 10.6 -25.6 20.8 -29 20.2 -.4 40.2 -.5 7.4 -1.2 3.5 -139 13.8 -139 16.6 -139.4 19.3 -139.6 22.1 -145.5 -60.2 -94.7 -41.1 -31.6 -14.7 -22.9 -11.6 -15.8 -9.4 -10.2 -7.9 -5.3 -6.6 68.2 -32.7 56.4 -29.3 34.9 -20.1 30.4 -19.6 53.7 -29.7 46.2 -28.1 32.9 -22.3 28.2 -21.3 25.4 -21.7 22.4 -22.1 12.2 -13.4 11.2 -13.6 10.1 -13.5 9.4 -13.9 8.7 -14.4 8.2 -14.9 7.9 -16.1 7.5 -17.1 6.6 -17.1 6.4 -18.8 11.3 -39.8 10.1 -45.5 8.5 -50.3z" fill="#00008a"/>
<path d="M584.8 125.4l4.2 22.4 6.1 19.6 8.2 17.9 10.9 17.4 14 17.4 17.2 17.3 20.8 17.7 24.7 18.4 30.3 20.3 35.7 21.8 40.7 23.2 46.5 25 53.3 27.3 59.1 29.1 66.2 31.7 74.1 34.5 -9.7 31.3 -5.5 14.6 -6 13.8 -6 12.2 -7 12.5 -7.6 12.1 -8.2 11.5 -8.9 11.3 -9.7 10.9 -10.5 10.6 -11.3 10.6 -25.6 20.8 -29 20.2 -.4 40.2 -.7 8.1 -89.8 -3.2 -87.6 -1.3 -85.2 .4 -84.8 2.2 -82.9 4 -83.2 5.8 -81.9 7.6 -82.6 9.6 -86.7 -36.9 -59.1 -26.7 -20.2 -9.9 -15.7 -8.5 -11.2 -7.1 -7.8 -6.3 -5.3 -6.6 68.2 -32.7 56.4 -29.3 34.9 -20.1 30.4 -19.6 53.7 -29.7 46.2 -28.1 32.9 -22.3 28.2 -21.3 25.4 -21.7 22.4 -22.1 12.2 -13.4 11.2 -13.6 10.1 -13.5 9.4 -13.9 8.7 -14.4 8.2 -14.9 7.9 -16.1 7.5 -17.1 6.6 -17.1 6.4 -18.8 11.3 -39.8 10.1 -45.5 8.5 -50.3z" fill="#000091"/>
<path d="M584.8 125.4l4.2 22.4 6.1 19.6 8.2 17.9 10.9 17.4 14 17.4 17.2 17.3 20.8 17.7 24.7 18.4 30.3 20.3 35.7 21.8 40.7 23.2 46.5 25 53.3 27.3 59.1 29.1 66.2 31.7 74.1 34.5 -9.7 31.3 -5.5 14.6 -6 13.8 -6 12.2 -7 12.5 -7.6 12.1 -8.2 11.5 -8.9 11.3 -9.7 10.9 -10.5 10.6 -11.3 10.6 -25.6 20.8 -29 20.2 -.7 45.8 -105.4 -11.4 -101.1 -8.3 -49.3 -3 -48.2 -2.2 -46.8 -1.5 -46.9 -.7 -46.7 .1 -45.5 .9 -43.8 1.5 -44.8 2.4 -44.6 3.2 -44.6 4 -44.2 4.7 -42.9 5.5 -50.9 -22.6 -36.2 -17.3 -23.4 -12.8 -7.9 -5.4 -5.9 -4.9 -5.3 -6.6 68.2 -32.7 56.4 -29.3 34.9 -20.1 30.4 -19.6 53.7 -29.7 46.2 -28.1 32.9 -22.3 28.2 -21.3 25.4 -21.7 22.4 -22.1 12.2 -13.4 11.2 -13.6 10.1 -13.5 9.4 -13.9 8.7 -14.4 8.2 -14.9 7.9 -16.1 7.5 -17.1 6.6 -17.1 6.4 -18.8 11.3 -39.8 10.1 -45.5 8.5 -50.3z" fill="#000098"/>
<path d="M584.8 125.4l4.2 22.4 6.1 19.6 8.2 17.9 10.9 17.4 14 17.4 17.2 17.3 20.8 17.7 24.7 18.4 30.3 20.3 35.7 21.8 40.7 23.2 46.5 25 53.3 27.3 59.1 29.1 66.2 31.7 74.1 34.5 -9.7 31.3 -5.5 14.6 -6 13.8 -6 12.2 -7 12.5 -7.6 12.1 -8.2 11.5 -8.9 11.3 -9.7 10.9 -10.5 10.6 -11.3 10.6 -25.6 20.8 -29 20.2 -.5 43.3 -60.3 -9.7 -58.7 -8.7 -56.7 -7.6 -55.4 -6.4 -52.8 -5.2 -53.1 -4.3 -51.3 -3.1 -48.1 -1.9 -48.1 -.9 -48.2 .2 -46.5 1.2 -45.3 2.4 -45.4 3.4 -43.8 4.4 -44.8 5.6 -45 6.8 -29.2 -13.7 -21.9 -11.2 -14.9 -8.9 -9.8 -7.7 -5.3 -6.6 68.2 -32.7 56.4 -29.3 34.9 -20.1 30.4 -19.6 53.7 -29.7 46.2 -28.1 32.9 -22.3 28.2 -21.3 25.4 -21.7 22.4 -22.1 12.2 -13.4 11.2 -13.6 10.1 -13.5 9.4 -13.9 8.7 -14.4 8.2 -14.9 7.9 -16.1 7.5 -17.1 6.6 -17.1 6.4 -18.8 11.3 -39.8 10.1 -45.5 8.5 -50.3z" fill="#00009f"/>
<path d="M584.8 125.4l4.2 22.4 6.1 19.6 8.2 17.9 10.9 17.4 14 17.4 17.2 17.3 20.8 17.7 24.7 18.4 30.3 20.3 35.7 21.8 40.7 23.2 46.5 25 53.3 27.3 59.1 29.1 66.2 31.7 74.1 34.5 -9.7 31.3 -5.5 14.6 -6 13.8 -6 12.2 -7 12.5 -7.6 12.1 -8.2 11.5 -8.9 11.3 -9.7 10.9 -10.5 10.6 -11.3 10.6 -25.6 20.8 -29 20.2 -.4 40.9 -56.7 -11.2 -55.7 -10.2 -54.4 -9.2 -51.3 -7.9 -49.3 -6.8 -48.6 -5.9 -47 -4.8 -44.1 -3.6 -57.7 -3.3 -55.3 -1.5 -54.9 .2 -52.4 2 -52.1 3.8 -51.3 5.5 -51.2 7.4 -52.5 9.5 -28.8 -15.3 -9.4 -6.1 -6.7 -5.5 -5.3 -6.6 68.2 -32.7 56.4 -29.3 34.9 -20.1 30.4 -19.6 53.7 -29.7 46.2 -28.1 32.9 -22.3 28.2 -21.3 25.4 -21.7 22.4 -22.1 12.2 -13.4 11.2 -13.6 10.1 -13.5 9.4 -13.9 8.7 -14.4 8.2 -14.9 7.9 -16.1 7.5 -17.1 6.6 -17.1 6.4 -18.8 11.3 -39.8 10.1 -45.5 8.5 -50.3z" fill="#0000a7"/>
<path d="M584.8 125.4l4.2 22.4 6.1 19.6 8.2 17.9 10.9 17.4 14 17.4 17.2 17.3 20.8 17.7 24.7 18.4 30.3 20.3 35.7 21.8 40.7 23.2 46.5 25 53.3 27.3 59.1 29.1 66.2 31.7 74.1 34.5 -9.7 31.3 -5.5 14.6 -6 13.8 -6 12.2 -7 12.5 -7.6 12.1 -8.2 11.5 -8.9 11.3 -9.7 10.9 -10.5 10.6 -11.3 10.6 -25.6 20.8 -29 20.2 -.4 38.5 -66.2 -14.7 -63 -13 -59.2 -11.3 -58.6 -10.1 -57.1 -8.7 -52.3 -6.8 -50.9 -5.5 -49.2 -4 -52.2 -2.8 -52.4 -1 -50.5 1 -48.6 2.7 -47.7 4.6 -47.9 6.5 -48.7 8.7 -49.7 10.7 -15.2 -9 -10 -7.8 -5.3 -6.6 68.2 -32.7 56.4 -29.3 34.9 -20.1 30.4 -19.6 53.7 -29.7 46.2 -28.1 32.9 -22.3 28.2 -21.3 25.4 -21.7 22.4 -22.1 12.2 -13.4 11.2 -13.6 10.1 -13.5 9.4 -13.9 8.7 -14.4 8.2 -14.9 7.9 -16.1 7.5 -17.1 6.6 -17.1 6.4 -18.8 11.3 -39.8 10.1 -45.5 8.5 -50.3z" fill="#0000ae"/>
<path d="M584.8 125.4l4.2 22.4 6.1 19.6 8.2 17.9 10.9 17.4 14 17.4 17.2 17.3 20.8 17.7 24.7 18.4 30.3 20.3 35.7 21.8 40.7 23.2 46.5 25 53.3 27.3 59.1 29.1 66.2 31.7 74.1 34.5 -9.7 31.3 -5.5 14.6 -6 13.8 -6 12.2 -7 12.5 -7.6 12.1 -8.2 11.5 -8.9 11.3 -9.7 10.9 -10.5 10.6 -11.3 10.6 -25.6 20.8 -29 20.2 -.3 36.1 -72.7 -17.5 -69.1 -15.5 -65.9 -13.6 -61.3 -11.5 -58.5 -9.7 -54.4 -7.6 -52.1 -5.9 -52.2 -4.4 -42.3 -2.1 -42.9 -.9 -39.8 .6 -40 2.1 -52.6 5 -53.2 7.8 -53.9 10.8 -55.9 13.8 -7.2 -4.9 -5.5 -4.6 -5.3 -6.6 68.2 -32.7 56.4 -29.3 34.9 -20.1 30.4 -19.6 53.7 -29.7 46.2 -28.1 32.9 -22.3 28.2 -21.3 25.4 -21.7 22.4 -22.1 12.2 -13.4 11.2 -13.6 10.1 -13.5 9.4 -13.9 8.7 -14.4 8.2 -14.9 7.9 -16.1 7.5 -17.1 6.6 -17.1 6.4 -18.8 11.3 -39.8 10.1 -45.5 8.5 -50.3z" fill="#0000b5"/>
<path d="M584.8 125.4l4.2 22.4 6.1 19.6 8.2 17.9 10.9 17.4 14 17.4 17.2 17.3 20.8 17.7 24.7 18.4 30.3 20.3 35.7 21.8 40.7 23.2 46.5 25 53.3 27.3 59.1 29.1 66.2 31.7 74.1 34.5 -9.7 31.3 -5.5 14.6 -6 13.8 -6 12.2 -7 12.5 -7.6 12.1 -8.2 11.5 -8.9 11.3 -9.7 10.9 -10.5 10.6 -11.3 10.6 -25.6 20.8 -29 20.2 -.3 33.7 -78.6 -20 -73.6 -17.7 -68.3 -15 -64.8 -13 -61.5 -10.7 -57.2 -8.5 -52.5 -6.1 -50.3 -4.2 -45.6 -2 -43.8 -.3 -43 1.6 -40.8 3.4 -46.7 6.2 -47.1 8.6 -48.9 11.5 -52.1 14.5 -4.7 -4 -5.3 -6.6 68.2 -32.7 56.4 -29.3 34.9 -20.1 30.4 -19.6 53.7 -29.7 46.2 -28.1 32.9 -22.3 28.2 -21.3 25.4 -21.7 22.4 -22.1 12.2 -13.4 11.2 -13.6 10.1 -13.5 9.4 -13.9 8.7 -14.4 8.2 -14.9 7.9 -16.1 7.5 -17.1 6.6 -17.1 6.4 -18.8 11.3 -39.8 10.1 -45.5 8.5 -50.3z" fill="#0000bc"/>
<path d="M584.8 125.4l4.2 22.4 6.1 19.6 8.2 17.9 10.9 17.4 14 17.4 17.2 17.3 20.8 17.7 24.7 18.4 30.3 20.3 35.7 21.8 40.7 23.2 46.5 25 53.3 27.3 59.1 29.1 66.2 31.7 74.1 34.5 -8.2 27 -9.1 23.9 -10.4 21.9 -11.9 20.3 -9.8 14.1 -10.2 12.8 -11.2 12.5 -12.2 12.1 -13.4 12 -14.8 11.9 -16.1 11.9 -17.7 12 -.3 31.3 -83.2 -22.2 -77.6 -19.6 -70.7 -16.4 -68.2 -14.3 -59.6 -11 -57.7 -8.9 -55 -6.7 -50.4 -4.1 -45.6 -1.8 -44.6 .3 -42.9 2.5 -43.2 4.8 -42 6.9 -43.7 9.5 -45.4 12 -50 15.4 -5 -6.3 68.2 -32.7 56.4 -29.3 34.9 -20.1 30.4 -19.6 53.2 -29.4 45.7 -27.8 32.8 -22.2 28.9 -21.7 25.5 -21.8 22.7 -22.3 12.2 -13.4 11.2 -13.6 10.1 -13.5 9.4 -13.9 8.7 -14.4 8.2 -14.9 7.9 -16.1 7.5 -17.1 6.6 -17.1 6.4 -18.8 11.3 -39.8 10.1 -45.5 8.5 -50.3z" fill="#0000c3"/>
<path d="M584.8 125.4l4.2 22.4 6.1 19.6 8.2 17.9 10.9 17.4 14 17.4 17.2 17.3 20.8 17.7 24.7 18.4 30.3 20.3 35.7 21.8 40.7 23.2 46.5 25 53.3 27.3 59.1 29.1 66.2 31.7 74.1 34.5 -8.2 27 -9.4 24.6 -10.6 22.1 -12.5 21.1 -9.3 13.2 -10.3 12.8 -11.2 12.4 -11.8 11.6 -13.3 11.9 -14.6 11.8 -16.1 11.9 -17.7 12 -.2 29 -85.6 -23.8 -79.3 -20.8 -72.7 -17.7 -68.5 -15.1 -62 -12 -58.5 -9.5 -52.4 -6.6 -49.8 -4.3 -45.6 -1.7 -43.7 .5 -42 2.9 -40.7 5.1 -41.3 7.6 -42.7 10.1 -46.3 13.3 -52.1 17 -1.7 -2.6 73.2 -35.2 30.8 -15.8 27.7 -15 30.9 -18 27.3 -17.7 47.5 -26.1 41.1 -24.6 35.4 -23.2 31.3 -23 27.3 -22.8 24.2 -23.3 12.2 -13.3 11.4 -13.7 10.2 -13.4 10.2 -14.9 8.9 -14.5 8.6 -15.5 8 -16.2 7.4 -16.9 6.9 -17.8 6.1 -18 6.3 -20.5 5.3 -20.1 10.1 -45.5 8.5 -50.3z" fill="#0000ca"/>
<path d="M584.8 125.4l4.2 22.4 6.1 19.6 8.2 17.9 10.9 17.4 14 17.4 17.2 17.3 20.8 17.7 24.7 18.4 30.3 20.3 35.7 21.8 40.7 23.2 46.5 25 53.3 27.3 59.1 29.1 66.2 31.7 74.1 34.5 -8.3 27.5 -9.4 24.4 -11 22.7 -12.5 20.9 -9.2 13.1 -10.3 12.7 -10.8 11.9 -12.3 12.2 -13.5 11.9 -14.7 11.8 -15.8 11.6 -17.2 11.7 -.2 26.6 -87.9 -25.3 -81 -21.9 -73.5 -18.5 -68 -15.6 -62 -12.6 -56.7 -9.8 -53.1 -7.1 -49.1 -4.4 -44.4 -1.9 -41.2 .6 -40.8 2.9 -40 5.3 -39.8 7.8 -41.9 10.5 -46 13.8 -53.4 18.2 64.1 -30.8 52.3 -27.3 35.9 -20.6 31.5 -20.2 44.5 -24.4 40 -23.7 37 -24.1 32.2 -23.5 28.3 -23.5 24.8 -23.8 12.2 -13.3 11.4 -13.7 10.2 -13.4 10.2 -14.9 8.9 -14.5 8.6 -15.5 8 -16.2 7.4 -16.9 6.9 -17.8 6.1 -18 6.3 -20.5 5.3 -20.1 10.1 -45.5 8.5 -50.3z" fill="#0000d1"/>
<path d="M584.8 125.4l4.2 22.4 6.1 19.6 8.2 17.9 10.9 17.4 14 17.4 17.2 17.3 20.8 17.7 24.7 18.4 30.3 20.3 35.7 21.8 40.7 23.2 46.5 25 53.3 27.3 59.1 29.1 66.2 31.7 74.1 34.5 -8.5 28.1 -9.6 24.8 -11 22.6 -12.7 21 -8.8 12.4 -10.3 12.7 -11.1 12.1 -12.3 12.1 -13.3 11.8 -14.4 11.5 -15.8 11.6 -17.2 11.7 -.2 24.2 -86.7 -25.6 -80 -22.4 -72.7 -19 -66.7 -16 -60.8 -13.1 -56.5 -10.5 -50.9 -7.5 -47.8 -5.1 -43.2 -2.4 -39.3 -.1 -37.7 2.1 -37.9 4.4 -37.1 6.8 -39.1 9.4 -42.7 12.5 -49.3 16.5 52.1 -25.8 44.2 -23.6 30.8 -18 26.3 -17.1 51.3 -28.3 44.4 -26.8 35 -23.5 30.5 -23 27 -23.2 23.6 -23.5 11.5 -12.9 10.6 -13.2 10 -13.6 9.3 -14 8.9 -14.9 8.2 -15.4 7.8 -16.2 7 -16.4 6.5 -17.3 6.1 -18.1 11.1 -39.2 9.6 -43.8 8.5 -50.3z" fill="#0000d8"/>
<path d="M584.8 125.4l4.2 22.4 6.1 19.6 8.2 17.9 10.9 17.4 14 17.4 17.2 17.3 20.8 17.7 24.7 18.4 30.3 20.3 35.7 21.8 40.7 23.2 46.5 25 53.3 27.3 59.1 29.1 66.2 31.7 74.1 34.5 -8.5 28.1 -9.6 24.8 -11 22.6 -13.3 21.8 -9 12.6 -10.2 12.5 -10.6 11.6 -12.4 12.1 -13 11.5 -14.5 11.6 -15.8 11.6 -17.1 11.6 -.2 21.8 -85.1 -25.7 -79.3 -22.8 -72.4 -19.5 -65.5 -16.4 -58.6 -13.3 -57.1 -11.2 -48.9 -7.9 -47.2 -5.7 -40.4 -3 -38.8 -.7 -36.9 1.5 -35.9 3.8 -34.9 5.9 -36.7 8.5 -39.5 11.4 -45.4 14.9 41.7 -21.2 36 -19.7 26.6 -15.8 23.3 -15.2 56.8 -31.5 25.4 -15.2 22.9 -14.5 32.8 -22.6 29.4 -22.8 25.7 -22.7 22.7 -23.3 11.2 -13 10.4 -13.3 9.7 -13.7 8.9 -13.8 8.3 -14.2 7.7 -14.7 7.4 -15.9 6.9 -16.6 6.5 -17.3 6 -18.3 10.6 -38.3 9.4 -43.5 8.2 -48.4z" fill="#0000e0"/>
<path d="M584.8 125.4l4.2 22.4 6.1 19.6 8.2 17.9 10.9 17.4 14 17.4 17.2 17.3 20.8 17.7 24.7 18.4 30.3 20.3 35.7 21.8 40.7 23.2 46.5 25 53.3 27.3 59.1 29.1 66.2 31.7 74.1 34.5 -8.5 28.1 -10.1 25.7 -11.5 23.5 -13.1 21.3 -9.3 12.7 -9.8 11.9 -10.7 11.6 -12.3 12 -12.9 11.3 -13.9 11.1 -15.8 11.6 -17.1 11.6 -.2 19.4 -85.3 -26.2 -78.1 -23 -70.9 -19.7 -65.2 -16.8 -61.2 -14.4 -51.8 -10.7 -50.5 -8.8 -44.1 -5.8 -39.5 -3.4 -37 -1.2 -35.4 .9 -33.5 3.1 -33.7 5.3 -34.2 7.5 -37.3 10.4 -42.8 14 33.4 -17.6 29.3 -16.4 22.5 -13.6 20.3 -13.3 37.3 -20.3 32.9 -19 43.1 -27.3 31.8 -22.5 27.9 -22.3 24.7 -22.4 21.8 -23.1 10.8 -12.9 9.5 -12.5 9.6 -13.8 8.6 -13.8 8.2 -14.5 7.6 -14.8 13.5 -31.4 11.9 -34.4 10.4 -38 9.1 -42.2 8.2 -48.4z" fill="#0000e7"/>
<path d="M584.8 125.4l4.2 22.4 6.1 19.6 8.2 17.9 10.9 17.4 14 17.4 17.2 17.3 20.8 17.7 24.7 18.4 30.3 20.3 35.7 21.8 40.7 23.2 46.5 25 53.3 27.3 59.1 29.1 66.2 31.7 74.1 34.5 -8.9 29.1 -10.1 25.7 -11.6 23.4 -13.5 21.6 -9.4 12.8 -10.2 12.1 -10.8 11.6 -11.8 11.3 -12.8 11.2 -14 11.1 -31.9 22.5 -.2 17 -84.5 -26.4 -76.5 -22.9 -69.8 -19.9 -64.1 -17.1 -59.5 -14.6 -52.8 -11.4 -48.5 -9 -44.6 -6.5 -39.3 -3.9 -34.9 -1.6 -33.9 .4 -33 2.5 -31.7 4.6 -33 7 -35.2 9.6 -40 12.9 47 -26.1 20.2 -12.3 19.1 -12.6 33.7 -18.3 30.3 -17.4 28.7 -17.5 26.8 -17.6 30.7 -22.2 27 -22 24.3 -22.6 20.8 -22.5 19.3 -24.6 9.2 -13.6 8.2 -13.3 8.2 -14.7 7.2 -14.2 13.5 -31.5 11.8 -34.5 10.3 -38.2 9.1 -42.5 7.8 -46.4z" fill="#0000ee"/>
<path d="M584.8 125.4l4.2 22.4 6.1 19.6 8.2 17.9 10.9 17.4 14 17.4 17.2 17.3 20.8 17.7 24.7 18.4 30.3 20.3 35.7 21.8 40.7 23.2 46.5 25 53.3 27.3 59.1 29.1 66.2 31.7 74.1 34.5 -8.9 29.1 -10.1 25.7 -11.9 23.9 -13.8 22 -9.1 12.2 -9.9 11.8 -10.8 11.6 -11.8 11.3 -12.8 11.2 -14 11.1 -31.9 22.5 -.1 14.6 -84.3 -26.7 -76.3 -23.2 -70.6 -20.5 -63.1 -17.3 -58.2 -14.6 -52 -11.7 -48.5 -9.4 -40.8 -6.4 -37.4 -4.2 -35.6 -2.2 -33.3 0 -31.7 2 -31 4.2 -31.1 6.3 -33.1 8.8 -37.7 12 37.5 -21.4 32.1 -20.6 37.3 -20.3 32.9 -19 28.8 -17.9 26.5 -17.7 29.6 -21.9 26.2 -21.8 23.3 -22.2 20.5 -22.6 18.8 -24.6 9 -13.5 8.2 -13.6 14.5 -28.1 13.2 -31.2 11.4 -33.7 10.1 -37.9 8.8 -41.2 7.8 -46.4z" fill="#0000f5"/>
<path d="M584.8 125.4l4.2 22.4 6.1 19.6 8.2 17.9 10.9 17.4 14 17.4 17.2 17.3 20.8 17.7 24.7 18.4 30.3 20.3 35.7 21.8 40.7 23.2 46.5 25 53.3 27.3 59.1 29.1 66.2 31.7 74.1 34.5 -8.9 29.1 -10.7 27.1 -12 23.8 -14.2 22.3 -9.2 12.2 -9.8 11.5 -10.4 11.1 -11.9 11.3 -12.9 11.2 -14.1 11.1 -30.9 21.7 -.1 12.2 -83.5 -26.8 -75.8 -23.4 -69.6 -20.6 -62.3 -17.4 -55.5 -14.4 -52.2 -12.2 -46.1 -9.5 -43 -7.2 -37.1 -4.6 -34.5 -2.6 -32.2 -.4 -30.7 1.5 -29.8 3.7 -30 5.8 -31.7 8.2 -35.9 11.2 29.5 -17.4 25.3 -16.4 39.7 -21.6 35.5 -20.8 28.8 -18.1 26.7 -18.1 28.8 -21.7 25.6 -21.7 22.6 -21.9 20.1 -22.8 18.5 -24.7 16.2 -26.3 14.4 -28.1 12.6 -30.5 11.1 -33.4 9.9 -36.7 8.6 -40.8 7.8 -46.4z" fill="#0000fc"/>
<path d="M584.8 125.4l4.2 22.4 6.1 19.6 8.2 17.9 10.9 17.4 14 17.4 17.2 17.3 20.8 17.7 24.7 18.4 30.3 20.3 35.7 21.8 40.7 23.2 46.5 25 53.3 27.3 59.1 29.1 66.2 31.7 74.1 34.5 -9.3 30.2 -10.6 26.6 -12.2 24.1 -14.3 22.2 -9.1 12 -9.6 11.2 -10.9 11.5 -11.4 10.8 -12.6 11 -14.1 11.1 -30.9 21.7 -.1 9.9 -85 -27.6 -75.5 -23.7 -68.1 -20.4 -62.8 -17.9 -54.8 -14.5 -52.9 -12.7 -44.3 -9.3 -42.6 -7.5 -35.5 -4.7 -33.8 -2.8 -30.6 -.7 -29.7 1.2 -28.7 3.3 -28.1 5.2 -30.3 7.6 -34 10.5 21.4 -13 20.2 -13.2 41.4 -22.6 37 -21.7 29.7 -18.9 26.1 -17.9 28.3 -21.5 25.1 -21.6 22.2 -22 19.8 -22.7 18.1 -24.7 15.5 -25.3 14.3 -28.3 12.5 -30.6 11.1 -33.5 9.8 -36.9 8.6 -40.9 7.4 -44.5z" fill="#0004ff"/>
<path d="M584.8 125.4l4.2 22.4 6.1 19.6 8.2 17.9 10.9 17.4 14 17.4 17.2 17.3 20.8 17.7 24.7 18.4 30.3 20.3 35.7 21.8 40.7 23.2 46.5 25 53.3 27.3 59.1 29.1 66.2 31.7 74.1 34.5 -9.4 30.4 -10.9 27.3 -12.4 24.1 -14.6 22.6 -9.3 12 -9.9 11.5 -10.6 11 -11.3 10.7 -25.7 21.1 -30.9 21.7 -.1 7.5 -84.6 -27.7 -75.3 -23.9 -69 -21 -61.6 -17.8 -54.1 -14.6 -49.9 -12.4 -46.3 -10.1 -42.2 -7.7 -35.1 -5 -32.1 -2.9 -31.4 -1 -28.3 .9 -27.3 2.9 -27 4.9 -28.8 7.1 -32 9.7 29.9 -19.2 42.4 -23.2 38.1 -22.4 29.7 -19 27.7 -19.2 27.7 -21.4 24.6 -21.4 21.6 -21.7 19.5 -22.8 17.5 -24.1 15.8 -26.2 13.9 -28.1 12.3 -30.5 10.8 -32.9 9.7 -37.1 8.3 -39.7 7.3 -43.9z" fill="#000bff"/>
<path d="M584.8 125.4l4.2 22.4 6.1 19.6 8.2 17.9 10.9 17.4 14 17.4 17.2 17.3 20.8 17.7 24.7 18.4 30.3 20.3 35.7 21.8 40.7 23.2 46.5 25 53.3 27.3 59.1 29.1 66.2 31.7 74.1 34.5 -9.4 30.4 -10.9 27.3 -6.4 13.3 -6.5 11.7 -7 11.3 -8 11.6 -15.5 19.1 -17.7 18.4 -13.3 12 -15.5 12.6 -16.2 12 -18.6 12.7 -.1 5.1 -85.4 -28.2 -73.2 -23.5 -67.6 -20.9 -60.7 -17.8 -55.1 -15.2 -51.9 -13.1 -43.3 -9.8 -40.1 -7.7 -35.4 -5.4 -31.7 -3.2 -30.1 -1.4 -27.5 .5 -26.9 2.5 -26.7 4.5 -27.7 6.6 -31.1 9.4 19.3 -12.7 43.6 -23.9 38.6 -22.8 31.1 -19.9 28 -19.7 27.2 -21.2 24.3 -21.6 21.1 -21.4 19.5 -23.2 17.4 -24.6 15.1 -25.6 13.4 -27.3 11.8 -29.5 10.5 -32.2 9.7 -37.1 8.3 -39.7 7.3 -43.9z" fill="#0012ff"/>
<path d="M584.8 125.4l4.2 22.4 6.1 19.6 8.2 17.9 10.9 17.4 14 17.4 17.2 17.3 20.8 17.7 24.7 18.4 30.3 20.3 35.7 21.8 40.7 23.2 46.5 25 53.3 27.3 59.1 29.1 66.2 31.7 74.1 34.5 -9.7 31.3 -11 27.4 -6.5 13.2 -6.8 12.2 -7.2 11.5 -8.2 11.6 -16.4 19.9 -19.6 19.8 -13.3 11.5 -14.3 11.5 -15.4 11.2 -16.6 11.3 0 2.7 -158 -51.9 -66.9 -20.9 -61.2 -18.2 -54.8 -15.4 -48.6 -12.6 -43.1 -10.1 -41.8 -8.4 -34.6 -5.5 -31.6 -3.5 -28.6 -1.6 -28 .3 -25.6 2.2 -25.6 4.1 -26.8 6.2 -29.7 8.8 9.7 -6.5 43.6 -23.9 38.9 -22.9 32.4 -20.9 29.1 -20.6 27 -21.3 23.8 -21.4 21.1 -21.8 18.9 -22.7 16.9 -24.1 14.9 -25.5 13.3 -27.4 12 -30.3 10.2 -32 9.3 -35.5 8.2 -39.4 7.3 -43.9z" fill="#001aff"/>
<path d="M584.8 125.4l4.2 22.4 6.1 19.6 8.2 17.9 10.9 17.4 14 17.4 17.2 17.3 20.8 17.7 24.7 18.4 30.3 20.3 35.7 21.8 40.7 23.2 46.5 25 53.3 27.3 59.1 29.1 66.2 31.7 74.1 34.5 -9.7 31.3 -5.5 14.6 -6 13.8 -6 12.2 -7 12.5 -7.6 12.1 -8.2 11.5 -8.6 10.9 -9.3 10.5 -10.4 10.7 -11.3 10.5 -24.5 20.1 -30.9 22 -157.9 -52.3 -67.2 -21.2 -60.3 -18.2 -66.5 -18.9 -36.6 -9.6 -41.9 -9.9 -42.8 -8.8 -31.7 -5.3 -32.7 -3.9 -27.2 -1.7 -28.6 .1 -24.1 1.9 -25.3 3.9 -25.3 5.8 -28.1 8.2 45.5 -25.1 37.7 -22.3 34.1 -22 29.8 -21.2 26.8 -21.4 23.8 -21.5 20.9 -22 18.8 -22.9 16.5 -23.8 14.4 -24.9 13.2 -27.5 11.7 -29.7 10.3 -32.5 9.2 -35.7 8.1 -39.3 7.1 -42.5z" fill="#001dff"/>
</g>
<path d="M946.4 717.4l-67.5 -14.1 -64.6 -12.6 -61.2 -10.7 -60.2 -9.5 -56.7 -7.8 -55.2 -6.3 -52.9 -4.7 -51.4 -3.2 -49.2 -1.7 -46.4 -.2 -46.2 1.3 -45.7 2.7 -44.7 4.3 -45 5.8 -44.5 7.3 -45.2 9M947.1 704l-84.5 -24.3 -78 -21.1 -70.3 -17.8 -67.1 -15.6 -58.9 -12.2 -56.1 -10 -51.6 -7.3 -49.7 -5 -42.9 -2.3 -42.3 -.1 -38.9 2.1 -19.7 1.9 -19.8 2.5 -38.7 6.8 -40.1 9.3 -43 12.1 -48.9 15.9M947.4 690.8l-81.2 -25.9 -74 -22.7 -67.5 -19.9 -61.7 -17.1 -55.3 -14.3 -49.7 -11.6 -46.2 -9.5 -43.4 -7.4 -37.6 -4.8 -34 -2.7 -31.7 -.8 -30.6 1.2 -28.9 3 -30 5.2 -30.8 7.3 -34 10.1M947.6 677.6l-80.2 -26.9 -72.3 -23.7 -58.7 -18.5 -60 -18.3 -44.5 -12.9 -51.2 -14.1 -39.3 -9.8 -47.1 -10.4 -38.2 -6.9 -25.5 -3.6 -29.6 -2.7 -28.7 -.9 -26.2 1 -25.4 3.1 -26.1 5.1 -26.6 7.1" fill="none" stroke="#000" stroke-width="1.4"/>
<path d="M667.8 588.1l-4.6 9.7 -5.6 9.1 -6.4 8.1 -7.7 7.9 -9 7.6 -10.7 7.7 -12.9 8.1 -14.8 8.3 -38.5 19.1 -53.5 23.8 -74.6 31.4 -104 42.4" fill="none" stroke="#f00" stroke-width="4.2" stroke-linejoin="round"/>
<polygon points="583.6,420.9 1091.8,620.7 579.6,822.3 71.4,622.5" fill="rgb(0,204,204)" fill-opacity="0.70" stroke="rgb(0,200,200)" stroke-opacity="0.35" stroke-width="1.2"/>
<clipPath id="caC"><path d="M583.7 133.1l4.2 21.7 2.8 9.8 3.3 9.5 3.9 9.2 4.5 8.8 5.1 8.6 5.7 8.3 6.4 8.4 7.4 8.5 17.3 17.1 20.8 17.5 24.4 18.1 30.4 20.1 34.8 21.2 40.7 23.1 45.9 24.5 52.2 26.8 58.8 28.9 66.1 31.5 73.4 34.1 -8.5 27.1 -9.8 24.6 -11.2 22.4 -12.6 20.4 -14.4 19.1 -16.9 18.6 -19.3 18.1 -22.3 17.9 -29.2 20.4 -93.4 -31.3 -74.8 -24.3 -73.3 -22.9 -58 -17.2 -61 -17.2 -46 -11.5 -46.9 -10.4 -37.8 -6.8 -25.6 -3.6 -24.7 -2.4 -23.6 -1.2 -24 .3 -20.8 1.5 -22.7 3.2 -22.8 4.8 -23.7 6.5 40.7 -22.5 36.3 -21.5 32.8 -21.2 29 -20.7 25.7 -20.4 22.9 -20.6 20.6 -21.4 17.9 -21.5 16.4 -23.3 14.3 -24.2 12.7 -25.7 11.2 -27.5 10 -29.8 9.3 -34.3 8.1 -36.9 7.2 -40.6z"/></clipPath>
<g opacity="0.70" clip-path="url(#caC)">
<path d="M584.8 125.4l4.2 22.4 6.1 19.6 8.2 17.9 10.9 17.4 14 17.4 17.2 17.3 20.8 17.7 24.7 18.4 30.3 20.3 35.7 21.8 40.7 23.2 46.5 25 53.3 27.3 59.1 29.1 66.2 31.7 74.1 34.5 -8.9 29.1 -10.1 25.7 -11.6 23.4 -13.7 21.9 -16 20.7 -17.8 19.1 -21 18.9 -24.2 18.7 -21.7 15 -94.3 -31.7 -78.1 -25.4 -73.3 -22.9 -58 -17.2 -61 -17.2 -46 -11.5 -46.9 -10.4 -37.8 -6.8 -25.6 -3.6 -29.7 -2.8 -24.9 -.9 -23.2 .7 -21.6 2 -23.4 3.8 -23.3 5.3 -28.1 8.3 43.5 -23.9 37.9 -22.4 33.9 -21.8 30.8 -21.9 26.8 -21.4 23.8 -21.5 20.9 -22 18.8 -22.9 16.5 -23.8 14.4 -24.9 13.2 -27.5 11.7 -29.7 10.3 -32.5 9.2 -35.7 8.1 -39.3 7.1 -42.5z" fill="#0021ff"/>
<path d="M584.8 125.4l4.2 22.4 6.1 19.6 8.2 17.9 10.9 17.4 14 17.4 17.2 17.3 20.8 17.7 24.7 18.4 30.3 20.3 35.7 21.8 40.7 23.2 46.5 25 53.3 27.3 59.1 29.1 66.2 31.7 74.1 34.5 -8.9 29.1 -10.1 25.7 -11.6 23.4 -13.7 21.9 -16 20.7 -17.8 19.1 -21 18.9 -24.2 18.7 -14 9.8 -86.3 -29.2 -77.6 -25.5 -69.9 -22.2 -62.2 -18.8 -55.5 -15.8 -50.2 -13.1 -43.6 -10.2 -39.6 -7.8 -30.2 -4.7 -28 -3 -26 -1.4 -23.8 .3 -22.9 1.9 -23 3.6 -23.4 5.3 -25.9 7.5 41 -23 35.9 -21.7 32.3 -21.3 28.7 -21 25.4 -20.8 22.5 -21 20.4 -21.9 18 -22.6 15.9 -23.6 14.4 -25.4 12.3 -26.4 11.6 -30 10 -31.8 8.9 -35.1 7.7 -37.6 7.1 -42.5z" fill="#0028ff"/>
<path d="M584.8 125.4l4.2 22.4 6.1 19.6 8.2 17.9 10.9 17.4 14 17.4 17.2 17.3 20.8 17.7 24.7 18.4 30.3 20.3 35.7 21.8 40.7 23.2 46.5 25 53.3 27.3 59.1 29.1 66.2 31.7 74.1 34.5 -8.9 29.1 -10.1 25.7 -11.6 23.4 -13.7 21.9 -16 20.7 -17.8 19.1 -21 18.9 -24.2 18.7 -5.9 4.2 -159 -53.4 -67.9 -21.8 -61.1 -18.8 -54.4 -15.9 -48.9 -13.2 -44 -10.7 -38.7 -8.2 -31.5 -5.4 -29.2 -3.7 -26.6 -1.9 -24.4 -.2 -23.2 1.6 -22.7 3.2 -23.6 5.2 -25.7 7.3 38 -21.8 34.2 -21.2 30.5 -20.8 27.3 -20.6 24.1 -20.4 21.6 -20.9 19.3 -21.4 17.2 -22.3 15.3 -23.4 13.6 -24.9 12.2 -26.8 10.8 -28.8 9.7 -31.4 8.5 -33.8 7.8 -38.3 6.7 -40.5z" fill="#002fff"/>
<path d="M584.8 125.4l4.2 22.4 6.1 19.6 8.2 17.9 10.9 17.4 14 17.4 17.2 17.3 20.8 17.7 24.7 18.4 30.3 20.3 35.7 21.8 40.7 23.2 46.5 25 53.3 27.3 59.1 29.1 66.2 31.7 74.1 34.5 -8.9 29.1 -10.1 25.7 -11.6 23.4 -13.5 21.6 -15.5 20.2 -17.9 19.3 -20.7 18.8 -23.6 18.3 -155.1 -52.5 -66.5 -21.6 -59.6 -18.6 -54.3 -16 -48.1 -13.4 -42.7 -10.8 -38.4 -8.5 -33 -6.2 -30.1 -4.3 -26.6 -2.3 -25.1 -.5 -23.2 1.2 -22.7 2.9 -23.2 4.9 -25.5 7.2 36.1 -21.4 31.8 -20.3 28.8 -20.2 25.5 -19.8 22.9 -20 20.4 -20.3 18.4 -21 16.5 -21.9 14.3 -22.5 13.5 -25 12 -26.9 10.4 -28.2 9.3 -30.3 8.3 -33.3 7.7 -37.8 6.7 -40.5z" fill="#0036ff"/>
<path d="M584.8 125.4l4.2 22.4 6.1 19.6 8.2 17.9 10.9 17.4 14 17.4 17.2 17.3 20.8 17.7 24.7 18.4 30.3 20.3 35.7 21.8 40.7 23.2 46.5 25 53.3 27.3 59.1 29.1 66.2 31.7 74.1 34.5 -8.5 28.1 -9.6 24.8 -11 22.6 -12.7 21 -14.5 19.6 -16.7 18.7 -19.5 18.4 -22.4 18.1 -154.8 -52.7 -65.9 -21.5 -59.7 -18.8 -54.3 -16.3 -47.6 -13.3 -42.4 -10.9 -38 -8.7 -32.7 -6.3 -29.4 -4.4 -26.6 -2.5 -24.6 -.7 -22.5 1 -22.1 2.7 -22.7 4.6 -24.7 6.8 33.4 -20.2 30.8 -20.2 27.1 -19.6 24.4 -19.6 22.1 -19.9 19.7 -20.2 17.4 -20.7 15.5 -21.4 14.1 -22.8 12.6 -24.1 11.3 -25.8 10 -27.8 9.1 -30.2 8.1 -32.8 7.3 -36 6.7 -40.5z" fill="#003dff"/>
<path d="M584.8 125.4l4.2 22.4 6.1 19.6 8.2 17.9 10.9 17.4 14 17.4 17.2 17.3 20.8 17.7 24.7 18.4 30.3 20.3 35.7 21.8 40.7 23.2 46.5 25 53.3 27.3 59.1 29.1 66.2 31.7 74.1 34.5 -8.2 27 -9.1 23.9 -10.5 22.2 -12.3 20.8 -13.7 19 -16.1 18.7 -18 17.5 -20.7 17.4 -153.3 -52.5 -67.6 -22.3 -58.6 -18.6 -54.1 -16.3 -47.3 -13.5 -42.1 -11 -37.8 -8.8 -32.5 -6.5 -29.2 -4.5 -26.3 -2.6 -23.8 -.9 -22.1 .8 -21.7 2.5 -21.9 4.4 -23.9 6.5 31.5 -19.6 29 -19.5 25.7 -19.2 23.3 -19.2 20.7 -19.3 19 -20.1 16.8 -20.6 14.7 -20.9 13.1 -21.6 12.4 -24.3 11.2 -26 9.9 -28 9 -30.4 7.7 -31.8 7.2 -35.6 6.3 -38.6z" fill="#0044ff"/>
<path d="M584.8 125.4l4.2 22.4 6.1 19.6 8.2 17.9 10.9 17.4 14 17.4 17.2 17.3 20.8 17.7 24.7 18.4 30.3 20.3 35.7 21.8 40.7 23.2 46.5 25 53.3 27.3 59.1 29.1 66.2 31.7 74.1 34.5 -7.8 25.9 -9.1 24 -9.9 21.2 -11.7 20.3 -12.9 18.5 -15.1 18 -16.8 16.9 -19.4 17 -151.8 -52.3 -127.8 -41.6 -53.1 -16.2 -47 -13.6 -41.9 -11.1 -37.5 -8.9 -32 -6.5 -28.9 -4.7 -25.8 -2.8 -23.7 -1 -21.7 .6 -21.1 2.3 -21.4 4.2 -23.2 6.2 30.6 -19.5 26.7 -18.6 24.4 -18.6 21.9 -18.7 19.6 -18.8 18.3 -19.9 16 -20.2 14.3 -20.8 12.9 -21.8 11.6 -23.2 10.9 -25.9 9.4 -27 8.5 -28.9 8 -33.2 6.9 -34.5 6.3 -38.3z" fill="#004bff"/>
<path d="M584.8 125.4l4.2 22.4 6.1 19.6 8.2 17.9 10.9 17.4 14 17.4 17.2 17.3 20.8 17.7 24.7 18.4 30.3 20.3 35.7 21.8 40.7 23.2 46.5 25 53.3 27.3 59.1 29.1 66.2 31.7 74.1 34.5 -7.4 24.8 -8.6 23.1 -9.8 21.2 -11 19.7 -12.6 18.4 -13.6 16.8 -16.1 16.8 -18.1 16.4 -153.7 -53.1 -126 -41.3 -52.1 -16 -47 -13.7 -41.4 -11.2 -37.2 -9 -32 -6.6 -28.6 -4.8 -25.3 -2.9 -23.4 -1.2 -21.2 .5 -20.7 2.1 -20.8 4 -22.6 5.9 28.5 -18.6 25.9 -18.5 23.3 -18.4 21 -18.4 19 -18.9 17.3 -19.5 15.4 -20.1 13.5 -20.2 12.4 -21.6 11.4 -23.4 10.3 -25.1 9.2 -26.9 8.4 -29.2 7.5 -31.6 6.8 -34.4 6 -36.6z" fill="#0053ff"/>
<path d="M584.8 125.4l4.2 22.4 6.1 19.6 8.2 17.9 10.9 17.4 14 17.4 17.2 17.3 20.8 17.7 24.7 18.4 30.3 20.3 35.7 21.8 40.7 23.2 46.5 25 53.3 27.3 59.1 29.1 66.2 31.7 74.1 34.5 -7.3 24.4 -8.2 22.3 -9.3 20.4 -10.2 18.7 -12 18.2 -13.3 16.8 -14.9 16.3 -16.9 15.7 -150.9 -52.4 -126.5 -41.7 -52.2 -16.2 -46.7 -13.8 -42.1 -11.5 -37.5 -9.3 -31.7 -6.7 -28.2 -4.9 -25.1 -3 -23.1 -1.3 -20.8 .3 -20.4 2 -20.2 3.7 -21.9 5.7 26.8 -18.1 24.7 -18.1 22 -17.9 20.1 -18.1 18.4 -18.8 15.9 -18.4 14.9 -19.8 13.4 -20.5 12.3 -22.1 10.6 -22.3 9.9 -24.7 8.9 -26.2 7.9 -27.6 7.5 -31.6 6.8 -34.4 6 -36.6z" fill="#005aff"/>
<path d="M584.8 125.4l4.2 22.4 6.1 19.6 8.2 17.9 10.9 17.4 14 17.4 17.2 17.3 20.8 17.7 24.7 18.4 30.3 20.3 35.7 21.8 40.7 23.2 46.5 25 53.3 27.3 59.1 29.1 66.2 31.7 74.1 34.5 -7.1 23.7 -7.7 21.2 -8.9 20.1 -10 18.6 -11 17.1 -12.9 17 -13.9 15.5 -15.8 15.4 -152 -53 -124.8 -41.4 -53.3 -16.7 -46.6 -13.9 -41.7 -11.5 -36.1 -9 -31.5 -6.8 -28.1 -5 -24.7 -3.1 -22.7 -1.5 -20.5 .2 -19.8 1.8 -19.9 3.6 -21.3 5.5 25.7 -17.8 23.2 -17.5 21.1 -17.7 19.1 -17.8 17.7 -18.6 15.5 -18.5 14.1 -19.2 12.7 -20.2 11.6 -21.2 11 -23.7 9.5 -24.2 8.6 -25.8 7.8 -27.9 7 -30 6.4 -32.6 6 -36.6z" fill="#0061ff"/>
<path d="M584.8 125.4l4.2 22.4 6.1 19.6 8.2 17.9 10.9 17.4 14 17.4 17.2 17.3 20.8 17.7 24.7 18.4 30.3 20.3 35.7 21.8 40.7 23.2 46.5 25 53.3 27.3 59.1 29.1 66.2 31.7 74.1 34.5 -6.7 22.6 -7.7 21.2 -8.3 19.1 -9.4 18 -10.8 17.2 -11.6 15.8 -13.4 15.5 -14.9 15 -153.4 -53.6 -124 -41.4 -51.8 -16.3 -46.4 -13.9 -40.5 -11.3 -37.1 -9.5 -31.1 -6.9 -27.8 -5 -24.6 -3.3 -22.4 -1.5 -20.2 0 -19.5 1.7 -19.4 3.3 -20.8 5.3 24.6 -17.5 22.1 -17.2 20.1 -17.3 18.4 -17.6 16.9 -18.3 14.9 -18.4 13.4 -18.8 12.3 -19.9 11.3 -21.3 10.2 -22.5 9.3 -23.9 8.3 -25.3 7.7 -28 7 -30.2 6.4 -32.7 5.6 -34.6z" fill="#0068ff"/>
<path d="M584.8 125.4l4.2 22.4 6.1 19.6 8.2 17.9 10.9 17.4 14 17.4 17.2 17.3 20.8 17.7 24.7 18.4 30.3 20.3 35.7 21.8 40.7 23.2 46.5 25 53.3 27.3 59.1 29.1 66.2 31.7 74.1 34.5 -6.7 22.6 -7.3 20.2 -8.1 18.8 -8.8 17.1 -9.8 16.1 -11.2 15.7 -12.5 15 -14.2 14.9 -151.5 -53.2 -123.2 -41.3 -52.7 -16.8 -46.2 -14 -41.7 -11.8 -36.2 -9.3 -31.4 -7.1 -27.1 -5.1 -24.7 -3.4 -22.2 -1.6 -19.9 -.1 -19.1 1.5 -19 3.2 -20.2 5.1 23.3 -17.1 21.2 -16.9 19.2 -17 17.5 -17.3 15.6 -17.3 14.8 -18.8 12.8 -18.4 12.2 -20.3 10.7 -20.5 10.2 -22.9 8.9 -23.6 8.2 -25.6 7.2 -26.5 7 -30.3 6 -30.9 5.6 -34.6z" fill="#006fff"/>
<path d="M584.8 125.4l4.2 22.4 6.1 19.6 8.2 17.9 10.9 17.4 14 17.4 17.2 17.3 20.8 17.7 24.7 18.4 30.3 20.3 35.7 21.8 40.7 23.2 46.5 25 53.3 27.3 59.1 29.1 66.2 31.7 74.1 34.5 -6.3 21.3 -6.9 19.5 -7.5 17.9 -8.9 17.7 -9.5 16 -10.9 15.6 -11.7 14.5 -12.9 13.9 -151.3 -53.3 -123.9 -41.7 -53.7 -17.2 -45.1 -13.7 -40.6 -11.6 -35.8 -9.3 -30.2 -6.9 -27.9 -5.4 -24.5 -3.5 -21.9 -1.8 -19.6 -.2 -18.8 1.4 -18.5 3 -19.8 4.9 21.9 -16.4 20 -16.4 18.3 -16.6 16.6 -16.9 15.4 -17.4 14.3 -18.6 12.7 -18.7 11.4 -19.4 10.4 -20.5 9.7 -22 9 -24.2 7.9 -24.8 7.2 -26.6 6.7 -29.4 5.8 -30.1 5.6 -34.6z" fill="#0076ff"/>
<path d="M584.8 125.4l4.2 22.4 6.1 19.6 8.2 17.9 10.9 17.4 14 17.4 17.2 17.3 20.8 17.7 24.7 18.4 30.3 20.3 35.7 21.8 40.7 23.2 46.5 25 53.3 27.3 59.1 29.1 66.2 31.7 74.1 34.5 -6 20.3 -6.8 19.4 -7.5 18 -7.9 16 -9.2 16 -9.9 14.7 -11.3 14.5 -12.3 13.7 -151 -53.4 -123.7 -41.9 -97.3 -30.6 -41.1 -11.8 -36.3 -9.6 -30.8 -7.2 -26.7 -5.2 -24.3 -3.6 -21.7 -1.9 -19.3 -.3 -18.4 1.3 -18.3 2.8 -19.3 4.7 21 -16.1 19.2 -16.3 17.6 -16.4 16 -16.7 14.7 -17.2 13.5 -17.9 12.3 -18.7 11.2 -19.6 10.3 -20.7 9.3 -22 8.5 -23.3 7.4 -23.7 7.1 -26.4 6.5 -28.8 5.9 -31.1 5.3 -32.5z" fill="#007dff"/>
<path d="M584.8 125.4l4.2 22.4 6.1 19.6 8.2 17.9 10.9 17.4 14 17.4 17.2 17.3 20.8 17.7 24.7 18.4 30.3 20.3 35.7 21.8 40.7 23.2 46.5 25 53.3 27.3 59.1 29.1 66.2 31.7 74.1 34.5 -6 20.3 -6.4 18.4 -7 17.1 -7.8 16.1 -8.6 15.2 -9.5 14.4 -10.4 13.8 -11.6 13.5 -151.9 -53.8 -122.4 -41.6 -98.2 -31.1 -41 -11.9 -35.2 -9.4 -30.5 -7.2 -26.4 -5.3 -24.1 -3.6 -21.4 -2 -19.1 -.4 -18.1 1.1 -17.9 2.8 -18.8 4.5 20.1 -15.9 18.4 -16 17.2 -16.6 15 -16.1 13.7 -16.6 13.2 -17.9 11.5 -17.8 10.9 -19.6 9.6 -19.5 9.3 -22 8.1 -22.5 7.6 -24.4 6.8 -25.6 6.4 -28.3 5.9 -31.1 5.3 -32.5z" fill="#0084ff"/>
<path d="M584.8 125.4l4.2 22.4 6.1 19.6 8.2 17.9 10.9 17.4 14 17.4 17.2 17.3 20.8 17.7 24.7 18.4 30.3 20.3 35.7 21.8 40.7 23.2 46.5 25 53.3 27.3 59.1 29.1 66.2 31.7 74.1 34.5 -5.6 19.2 -6 17.4 -7 17.2 -7.2 15.3 -8.2 15 -8.9 14 -10.2 14 -10.9 13 -151.7 -53.9 -122.2 -41.7 -97.9 -31.1 -40.1 -11.8 -35.8 -9.6 -30.3 -7.3 -26.8 -5.5 -23.9 -3.7 -20.6 -2 -18.8 -.5 -17.9 1 -17.5 2.7 -18.5 4.3 19.2 -15.6 17.7 -15.8 15.7 -15.5 15.3 -16.8 13.3 -16.6 12.4 -17.4 11.2 -17.8 10.9 -19.9 9.4 -19.7 8.6 -20.8 8.1 -22.8 7.4 -24.6 6.6 -25.3 6.1 -27.2 5.5 -29.2 5.3 -32.5z" fill="#008cff"/>
<path d="M584.8 125.4l4.2 22.4 6.1 19.6 8.2 17.9 10.9 17.4 14 17.4 17.2 17.3 20.8 17.7 24.7 18.4 30.3 20.3 35.7 21.8 40.7 23.2 46.5 25 53.3 27.3 59.1 29.1 66.2 31.7 74.1 34.5 -5.3 18.1 -5.9 17.4 -6.5 16.4 -7.1 15.4 -7.9 14.5 -8.5 13.7 -9.4 13.4 -10.2 12.6 -150.9 -53.8 -124.8 -42.7 -96.6 -30.9 -40.4 -11.9 -34.8 -9.4 -29.4 -7.2 -26.7 -5.5 -23.1 -3.7 -21.3 -2.2 -18.7 -.6 -17.5 1 -17.2 2.5 -17.8 4.2 18.4 -15.4 16.9 -15.5 15.3 -15.6 14.3 -16.2 13 -16.5 12 -17.3 11 -17.9 10.1 -18.8 9.3 -19.9 8.5 -21 7.7 -22.3 7.2 -23.8 6.6 -25.4 6 -27.3 5.5 -29.4 4.9 -30.5z" fill="#0093ff"/>
<path d="M584.8 125.4l4.2 22.4 6.1 19.6 8.2 17.9 10.9 17.4 14 17.4 17.2 17.3 20.8 17.7 24.7 18.4 30.3 20.3 35.7 21.8 40.7 23.2 46.5 25 53.3 27.3 59.1 29.1 66.2 31.7 74.1 34.5 -5.3 18.1 -5.5 16.4 -6.1 15.4 -7 15.5 -7.2 13.7 -8.5 14 -8.8 12.7 -9.4 12.1 -151.3 -54 -120.8 -41.5 -97.9 -31.6 -41.1 -12.2 -34.8 -9.5 -29.9 -7.4 -26 -5.5 -23.6 -3.9 -20.7 -2.3 -18.4 -.6 -17.3 .8 -16.9 2.4 -17.7 4 17.4 -14.9 16.2 -15.3 15.2 -15.8 13.4 -15.7 12.4 -16.2 11.8 -17.4 10.7 -17.9 9.4 -17.9 9.1 -19.9 8.2 -20.7 7.4 -21.5 7 -23.3 6.3 -24.4 6 -27.5 5.5 -29.2 4.9 -30.5z" fill="#009aff"/>
<path d="M584.8 125.4l4.2 22.4 6.1 19.6 8.2 17.9 10.9 17.4 14 17.4 17.2 17.3 20.8 17.7 24.7 18.4 30.3 20.3 35.7 21.8 40.7 23.2 46.5 25 53.3 27.3 59.1 29.1 66.2 31.7 74.1 34.5 -4.9 17 -5.5 16.4 -6 15.5 -6.6 14.6 -6.9 13.4 -7.5 12.8 -8.4 12.6 -9.2 12.1 -151.2 -54.2 -122.6 -42.2 -96.2 -31.1 -39.7 -11.9 -35.3 -9.8 -29.7 -7.4 -26.2 -5.6 -23.1 -4 -20.6 -2.3 -18.1 -.7 -17.1 .7 -16.7 2.3 -17.3 3.9 16.8 -14.8 15.6 -15.1 14.2 -15.2 13.3 -16 11.8 -15.7 10.8 -16.4 10.3 -17.4 9.6 -18.6 8.8 -19.7 8 -20.3 7.4 -22 6.8 -23.1 6.1 -23.9 5.9 -27.4 5.2 -27.5 4.9 -30.5z" fill="#00a1ff"/>
<path d="M584.8 125.4l4.2 22.4 6.1 19.6 8.2 17.9 10.9 17.4 14 17.4 17.2 17.3 20.8 17.7 24.7 18.4 30.3 20.3 35.7 21.8 40.7 23.2 46.5 25 53.3 27.3 59.1 29.1 66.2 31.7 74.1 34.5 -10 32.4 -5.6 14.5 -6.5 14.7 -6.8 13.4 -7.1 12.5 -8.1 12.3 -8.2 11.2 -151.9 -54.6 -121.5 -42 -95.9 -31.1 -39.6 -12 -35.6 -9.9 -29.4 -7.5 -26.4 -5.7 -22.5 -3.9 -20.4 -2.4 -18.3 -.8 -16.7 .7 -16.4 2.1 -16.7 3.8 16.2 -14.7 14.9 -14.8 13.7 -15.2 12.5 -15.3 11.6 -15.9 10.6 -16.4 10.1 -17.7 9.2 -18.4 8.6 -19.3 7.6 -20.1 7.1 -21.2 6.6 -22.5 6 -24.1 5.5 -25.6 5.2 -27.5 4.9 -30.5z" fill="#00a8ff"/>
<path d="M584.8 125.4l4.2 22.4 6.1 19.6 8.2 17.9 10.9 17.4 14 17.4 17.2 17.3 20.8 17.7 24.7 18.4 30.3 20.3 35.7 21.8 40.7 23.2 46.5 25 53.3 27.3 59.1 29.1 66.2 31.7 74.1 34.5 -9.7 31.3 -11 27.4 -6.5 13.2 -6.8 12.2 -7.8 12.4 -7.9 11.1 -150.8 -54.3 -121.2 -42 -96.9 -31.7 -39.8 -12.1 -34.7 -9.7 -29.6 -7.6 -25.5 -5.7 -23 -4 -20.3 -2.5 -18.2 -.9 -16.5 .6 -16.1 2.1 -16.4 3.6 15.3 -14.2 14 -14.4 13.4 -15 12.3 -15.5 11.2 -15.8 10.3 -16.3 9.3 -16.5 9.2 -18.6 8.2 -18.9 7.5 -19.7 7 -21.4 6.5 -22.6 6 -24.2 5.5 -25.7 5.1 -27.6 4.6 -28.5z" fill="#00afff"/>
<path d="M584.8 125.4l4.2 22.4 6.1 19.6 8.2 17.9 10.9 17.4 14 17.4 17.2 17.3 20.8 17.7 24.7 18.4 30.3 20.3 35.7 21.8 40.7 23.2 46.5 25 53.3 27.3 59.1 29.1 66.2 31.7 74.1 34.5 -9.3 30.2 -10.6 26.6 -5.9 12.3 -6.9 12.7 -14.5 22.4 -151.4 -54.6 -120.3 -41.8 -96.8 -31.7 -39.9 -12.2 -33.9 -9.7 -29.8 -7.7 -25.5 -5.7 -22.8 -4.1 -19.7 -2.5 -18.1 -1 -16.4 .5 -15.8 1.9 -16.4 3.6 15.3 -14.7 13.4 -14.1 12.9 -15 11.7 -15.2 10.6 -15.4 10.3 -16.7 8.9 -16.2 8.8 -18.3 7.6 -18 7.5 -20.1 6.9 -21.2 6.1 -21.8 5.9 -23.9 5.1 -24 5.1 -27.6 4.6 -28.5z" fill="#00b6ff"/>
<path d="M584.8 125.4l4.2 22.4 6.1 19.6 8.2 17.9 10.9 17.4 14 17.4 17.2 17.3 20.8 17.7 24.7 18.4 30.3 20.3 35.7 21.8 40.7 23.2 46.5 25 53.3 27.3 59.1 29.1 66.2 31.7 74.1 34.5 -8.9 29.1 -10.1 25.7 -11.9 23.9 -13.9 22.2 -149.5 -54 -120.9 -42.2 -97.5 -32.1 -39.4 -12.1 -34.4 -9.9 -29.6 -7.7 -25.4 -5.8 -22.7 -4.2 -20 -2.5 -17.7 -1.1 -16.2 .4 -15.6 1.9 -15.8 3.4 14.1 -13.8 13.2 -14.2 12.3 -14.7 11.3 -14.9 10.2 -15.2 10 -16.5 9.4 -17.6 8.1 -17.2 7.5 -18 7.1 -19.5 6.7 -21 6 -21.3 5.8 -23.8 5.1 -24.2 9.4 -54.6z" fill="#00bdff"/>
<path d="M584.8 125.4l4.2 22.4 6.1 19.6 8.2 17.9 10.9 17.4 14 17.4 17.2 17.3 20.8 17.7 24.7 18.4 30.3 20.3 35.7 21.8 40.7 23.2 46.5 25 53.3 27.3 59.1 29.1 66.2 31.7 74.1 34.5 -8.5 28.1 -9.6 24.8 -11.5 23.5 -13 21.3 -149.3 -54.1 -121.8 -42.6 -96.3 -31.8 -39.6 -12.3 -34.4 -9.9 -29.2 -7.7 -25.7 -5.9 -22.1 -4.1 -19.8 -2.7 -17.6 -1.1 -15.8 .4 -15.5 1.8 -15.6 3.3 13.8 -13.9 12.7 -14.1 11.7 -14.2 10.8 -14.7 10 -15.2 9.3 -15.7 9.2 -17.5 8.1 -17.5 7.4 -18.1 6.8 -19.1 6.4 -20.2 5.9 -21.4 5.5 -22.6 5.1 -24.1 9.3 -54.2z" fill="#00c5ff"/>
<path d="M584.8 125.4l4.2 22.4 6.1 19.6 8.2 17.9 10.9 17.4 14 17.4 17.2 17.3 20.8 17.7 24.7 18.4 30.3 20.3 35.7 21.8 40.7 23.2 46.5 25 53.3 27.3 59.1 29.1 66.2 31.7 74.1 34.5 -8.2 27 -9.4 24.6 -10.6 22.1 -12.2 20.7 -150.6 -54.6 -120.3 -42.1 -95.6 -31.8 -73.9 -22.3 -29.8 -7.9 -25.3 -5.9 -22 -4.2 -19.6 -2.6 -17.4 -1.2 -15.8 .3 -15.1 1.7 -15.4 3.2 12.8 -13.2 12.4 -14 11.4 -14.4 10.7 -14.7 9.8 -15.3 9.2 -15.9 8.5 -16.6 7.8 -17.3 7.2 -17.9 6.4 -18.2 6.4 -20.3 5.9 -21.5 10.5 -47 8.9 -52.2z" fill="#00ccff"/>
<path d="M584.8 125.4l4.2 22.4 6.1 19.6 8.2 17.9 10.9 17.4 14 17.4 17.2 17.3 20.8 17.7 24.7 18.4 30.3 20.3 35.7 21.8 40.7 23.2 46.5 25 53.3 27.3 59.1 29.1 66.2 31.7 74.1 34.5 -7.8 25.9 -9.1 24 -9.9 21.2 -11.6 20.1 -150.1 -54.5 -121.5 -42.7 -95 -31.6 -74.2 -22.5 -28.6 -7.6 -25.4 -6 -21.7 -4.2 -19.7 -2.8 -16.7 -1.2 -15.7 .2 -14.9 1.6 -15.3 3.1 12.7 -13.5 11.5 -13.4 10.9 -14 10.5 -14.9 9.4 -15 8.6 -15.2 8.4 -16.8 7.6 -17 7.2 -18.3 6.5 -18.5 5.8 -19.1 5.8 -21.3 10.1 -45.3 8.9 -52.2z" fill="#00d3ff"/>
<path d="M584.8 125.4l4.2 22.4 6.1 19.6 8.2 17.9 10.9 17.4 14 17.4 17.2 17.3 20.8 17.7 24.7 18.4 30.3 20.3 35.7 21.8 40.7 23.2 46.5 25 53.3 27.3 59.1 29.1 66.2 31.7 74.1 34.5 -7.4 24.8 -8.6 23.1 -9.8 21.2 -10.6 19 -150 -54.6 -120.3 -42.4 -96 -32.1 -73.2 -22.3 -28.9 -7.8 -24.9 -5.9 -22.2 -4.4 -19.4 -2.8 -16.9 -1.3 -15.7 .1 -14.7 1.6 -14.9 3 12.3 -13.4 11.3 -13.5 10.2 -13.5 9.6 -14 8.9 -14.3 8.9 -16.1 8.4 -16.8 7.1 -16.3 6.6 -17 6.7 -19.4 5.8 -18.9 5.8 -21.5 10.1 -45.7 8.5 -50.3z" fill="#00daff"/>
<path d="M584.8 125.4l4.2 22.4 6.1 19.6 8.2 17.9 10.9 17.4 14 17.4 17.2 17.3 20.8 17.7 24.7 18.4 30.3 20.3 35.7 21.8 40.7 23.2 46.5 25 53.3 27.3 59.1 29.1 66.2 31.7 74.1 34.5 -7.1 23.7 -8.1 22.2 -9.2 20.4 -10.1 18.7 -152 -55.4 -119.2 -42.1 -94.5 -31.7 -73.3 -22.4 -29.1 -7.9 -25 -6.1 -21.9 -4.3 -19 -2.8 -17 -1.4 -15.2 .1 -14.5 1.5 -14.7 2.9 11.8 -13.1 11 -13.5 10 -13.5 9.3 -14 8.7 -14.4 8.2 -15 8.2 -17 7 -16.3 6.6 -17.2 6.1 -18 6 -19.7 5.6 -21.1 9.6 -43.8 8.5 -50.3z" fill="#00e1ff"/>
<path d="M584.8 125.4l4.2 22.4 6.1 19.6 8.2 17.9 10.9 17.4 14 17.4 17.2 17.3 20.8 17.7 24.7 18.4 30.3 20.3 35.7 21.8 40.7 23.2 46.5 25 53.3 27.3 59.1 29.1 66.2 31.7 74.1 34.5 -6.7 22.6 -7.8 21.5 -8.5 19.4 -9.7 18.4 -149.8 -54.7 -120 -42.5 -95.5 -32.1 -73.1 -22.5 -28.7 -7.9 -24.7 -6 -22 -4.5 -19.2 -2.9 -16.5 -1.4 -15.5 0 -14.3 1.4 -14.4 2.8 11.3 -12.9 10.5 -13.3 9.9 -13.6 9.1 -14 8.6 -14.6 8 -15.1 7.5 -15.8 7 -16.5 6.5 -17.3 6 -18.2 11 -39.4 9.4 -43.1 8.3 -49.3z" fill="#00e8ff"/>
<path d="M584.8 125.4l4.2 22.4 6.1 19.6 8.2 17.9 10.9 17.4 14 17.4 17.2 17.3 20.8 17.7 24.7 18.4 30.3 20.3 35.7 21.8 40.7 23.2 46.5 25 53.3 27.3 59.1 29.1 66.2 31.7 74.1 34.5 -6.7 22.6 -7.3 20.2 -8.1 18.8 -8.8 17.2 -150.8 -55.1 -120 -42.5 -93.5 -31.6 -73.3 -22.7 -29.1 -8 -25.1 -6.2 -21.5 -4.4 -18.8 -2.9 -16.8 -1.5 -14.9 0 -14.1 1.3 -14.3 2.8 11.1 -13.1 10.3 -13.3 9.3 -13.3 9 -14.1 8.4 -14.6 7.3 -14.1 7.4 -15.9 6.8 -16.6 12.4 -35.4 10.5 -38.5 9.1 -42.2 8.2 -48.4z" fill="#00efff"/>
<path d="M584.8 125.4l4.2 22.4 6.1 19.6 8.2 17.9 10.9 17.4 14 17.4 17.2 17.3 20.8 17.7 24.7 18.4 30.3 20.3 35.7 21.8 40.7 23.2 46.5 25 53.3 27.3 59.1 29.1 66.2 31.7 74.1 34.5 -6.3 21.3 -6.9 19.5 -7.5 17.9 -8.6 17 -147.4 -53.9 -120.9 -43 -96.3 -32.6 -72.8 -22.6 -28.5 -8 -24.6 -6.1 -21.8 -4.5 -18.9 -3 -16.3 -1.5 -14.9 -.1 -14 1.2 -14.2 2.7 10.1 -12.2 10.1 -13.3 9.3 -13.4 8.5 -13.6 7.9 -14.1 7.6 -14.8 13.5 -31.4 11.9 -34.4 10.4 -38 9.1 -42.2 8.2 -48.4z" fill="#00f6ff"/>
<path d="M584.8 125.4l4.2 22.4 6.1 19.6 8.2 17.9 10.9 17.4 14 17.4 17.2 17.3 20.8 17.7 24.7 18.4 30.3 20.3 35.7 21.8 40.7 23.2 46.5 25 53.3 27.3 59.1 29.1 66.2 31.7 74.1 34.5 -6 20.3 -6.4 18.6 -7.2 17.3 -8.1 16.5 -149.4 -54.8 -121 -43 -94 -31.9 -73.1 -22.8 -28 -7.8 -24.5 -6.2 -21.5 -4.5 -18.9 -3.1 -16.1 -1.5 -14.7 -.2 -13.9 1.2 -14 2.6 10 -12.3 9.7 -13.1 16.9 -26.5 15 -28.6 13.4 -31.6 11.7 -34.3 9.9 -36.9 9.1 -42.5 7.8 -46.4z" fill="#00feff"/>
<path d="M584.8 125.4l4.2 22.4 6.1 19.6 8.2 17.9 10.9 17.4 14 17.4 17.2 17.3 20.8 17.7 24.7 18.4 30.3 20.3 35.7 21.8 40.7 23.2 46.5 25 53.3 27.3 59.1 29.1 66.2 31.7 74.1 34.5 -5.6 19.2 -6.4 18.4 -6.6 16.3 -7.5 15.8 -150.5 -55.2 -120 -42.8 -93.6 -31.8 -72.7 -22.8 -28.2 -7.9 -24.8 -6.3 -21.1 -4.5 -18.7 -3.1 -16.2 -1.5 -14.6 -.3 -13.6 1.1 -13.8 2.6 19.2 -25.4 16.3 -26.1 14.5 -28.1 12.7 -30.4 11.2 -33.2 10.1 -37.9 8.8 -41.2 7.8 -46.4z" fill="#06fff9"/>
<path d="M584.8 125.4l4.2 22.4 6.1 19.6 8.2 17.9 10.9 17.4 14 17.4 17.2 17.3 20.8 17.7 24.7 18.4 30.3 20.3 35.7 21.8 40.7 23.2 46.5 25 53.3 27.3 59.1 29.1 66.2 31.7 74.1 34.5 -5.3 18.1 -5.9 17.4 -6.4 16.1 -7 15.2 -151.4 -55.7 -118.5 -42.3 -93.8 -32 -72 -22.6 -28.6 -8.2 -24.3 -6.2 -21.6 -4.7 -18.6 -3 -16.2 -1.7 -14.5 -.2 -13.5 1 -13.4 2.5 17.8 -24.2 16.2 -26.3 14.3 -28.3 12.5 -30.6 11.1 -33.5 9.8 -36.9 8.6 -40.9 7.4 -44.5z" fill="#0dfff2"/>
<path d="M584.8 125.4l4.2 22.4 6.1 19.6 8.2 17.9 10.9 17.4 14 17.4 17.2 17.3 20.8 17.7 24.7 18.4 30.3 20.3 35.7 21.8 40.7 23.2 46.5 25 53.3 27.3 59.1 29.1 66.2 31.7 74.1 34.5 -4.9 17 -5.5 16.4 -6.1 15.8 -6.6 14.6 -147.2 -54.1 -120.4 -43.1 -94.7 -32.5 -73 -23.1 -28.5 -8.1 -24.3 -6.2 -21.5 -4.8 -18.5 -3.1 -15.8 -1.6 -14.4 -.4 -13.6 1 -13.3 2.4 17.9 -24.8 15.4 -25.8 13.5 -27.3 12.1 -30.2 10.8 -32.9 9.7 -37.1 8.3 -39.7 7.3 -43.9z" fill="#14ffeb"/>
<path d="M584.8 125.4l4.2 22.4 6.1 19.6 8.2 17.9 10.9 17.4 14 17.4 17.2 17.3 20.8 17.7 24.7 18.4 30.3 20.3 35.7 21.8 40.7 23.2 46.5 25 53.3 27.3 59.1 29.1 66.2 31.7 74.1 34.5 -10 32.4 -5.6 14.5 -6.2 14 -147 -54.2 -120.4 -43.2 -94.5 -32.4 -72.9 -23.1 -27.6 -8 -25.1 -6.5 -21.3 -4.7 -18.4 -3.2 -16.1 -1.7 -14.2 -.4 -13.2 1 -13.1 2.3 17.1 -24.3 14.9 -25.5 13.3 -27.4 11.7 -29.7 10.5 -32.6 9.3 -35.5 8.2 -39.4 7.3 -43.9z" fill="#1bffe4"/>
<path d="M584.8 125.4l4.2 22.4 6.1 19.6 8.2 17.9 10.9 17.4 14 17.4 17.2 17.3 20.8 17.7 24.7 18.4 30.3 20.3 35.7 21.8 40.7 23.2 46.5 25 53.3 27.3 59.1 29.1 66.2 31.7 74.1 34.5 -9.4 30.4 -11 27.6 -146.9 -54.2 -120.3 -43.2 -94.1 -32.4 -73.1 -23.3 -52.6 -14.5 -21.3 -4.8 -18.3 -3.2 -15.9 -1.7 -14.1 -.4 -13.1 .9 -12.9 2.2 16.7 -24.4 14.4 -25.2 12.8 -27 11.6 -29.8 9.8 -31 9.2 -35.7 8.1 -39.3 7.1 -42.5z" fill="#22ffdd"/>
<path d="M584.8 125.4l4.2 22.4 6.1 19.6 8.2 17.9 10.9 17.4 14 17.4 17.2 17.3 20.8 17.7 24.7 18.4 30.3 20.3 35.7 21.8 40.7 23.2 46.5 25 53.3 27.3 59.1 29.1 66.2 31.7 74.1 34.5 -8.9 29.1 -10.2 26 -149.9 -55.3 -118.2 -42.6 -94.5 -32.5 -71.5 -22.9 -52.4 -14.5 -21.2 -4.8 -18.2 -3.2 -15.9 -1.8 -13.9 -.5 -13 .9 -12.8 2.1 15.8 -23.4 13.9 -24.7 12.9 -27.8 11 -28.6 10 -31.8 8.9 -35.1 7.7 -37.6 7.1 -42.5z" fill="#29ffd6"/>
<path d="M584.8 125.4l4.2 22.4 6.1 19.6 8.2 17.9 10.9 17.4 14 17.4 17.2 17.3 20.8 17.7 24.7 18.4 30.3 20.3 35.7 21.8 40.7 23.2 46.5 25 53.3 27.3 59.1 29.1 66.2 31.7 74.1 34.5 -8.3 27.5 -9.5 24.7 -147.9 -54.6 -119 -42.9 -93.9 -32.5 -72.9 -23.4 -52.9 -14.7 -20.6 -4.7 -18.1 -3.3 -15.7 -1.8 -13.9 -.5 -12.9 .8 -12.6 2.1 15.6 -23.7 13.6 -24.9 12.2 -26.8 10.5 -27.9 10 -32.3 8.5 -33.8 7.8 -38.3 6.7 -40.5z" fill="#30ffcf"/>
<path d="M584.8 125.4l4.2 22.4 6.1 19.6 8.2 17.9 10.9 17.4 14 17.4 17.2 17.3 20.8 17.7 24.7 18.4 30.3 20.3 35.7 21.8 40.7 23.2 46.5 25 53.3 27.3 59.1 29.1 66.2 31.7 74.1 34.5 -7.8 25.9 -8.8 23.5 -149.8 -55.4 -118 -42.6 -94.4 -32.7 -71.3 -22.9 -52 -14.6 -21.1 -4.9 -18 -3.3 -15.7 -1.9 -13.8 -.5 -12.7 .8 -12.5 2 14.7 -22.9 13.4 -24.8 11.6 -25.7 10.7 -29 9.5 -30.9 8.3 -33.3 7.7 -37.8 6.7 -40.5z" fill="#38ffc7"/>
<path d="M584.8 125.4l3.5 19.2 4.7 16.9 6.3 15.9 8 15 10.1 14.7 12.2 14.5 14.2 14.3 17.2 14.9 28.7 21.8 34.6 23.1 41.7 25.2 48.9 27.3 57 30 65.2 32.6 75.4 36.3 84.3 39.3 -7.3 24.4 -8.2 22.1 -149.8 -55.5 -118.9 -42.9 -92.3 -32 -72.3 -23.4 -52.2 -14.7 -20.7 -4.8 -17.8 -3.3 -15.5 -1.9 -13.6 -.5 -12.6 .6 -12.4 2.1 14.5 -23.2 12.7 -24.1 11.3 -25.7 10.1 -27.7 9.2 -30 8.5 -34.5 7.3 -36 6.7 -40.5z" fill="#3fffc0"/>
<path d="M584.8 125.4l3.5 19.2 4.8 17.3 6.4 15.9 8.1 15 10.2 14.9 12.2 14.4 14.8 14.7 17.4 15 28.7 21.7 35.4 23.5 41.4 24.9 48.7 27.1 56.6 29.7 65.1 32.6 74.4 35.8 84.3 39.3 -6.7 22.6 -7.6 21.1 -149.1 -55.3 -119.9 -43.3 -93.2 -32.4 -70.8 -22.9 -52 -14.8 -20.5 -4.8 -18 -3.3 -15.1 -1.9 -13.6 -.7 -12.6 .7 -12.3 1.9 13.7 -22.5 12.5 -24.2 11.2 -25.9 10.1 -27.9 9 -30.2 8 -33 7.3 -36.1 6.3 -38.6z" fill="#46ffb9"/>
<path d="M584.8 125.4l3.6 19.6 4.8 17.2 6.5 16 8.4 15.4 10.3 14.8 12.6 14.7 15.1 14.8 17.9 15.4 29 21.6 35.4 23.4 41.7 25 48.5 26.9 56.4 29.5 65.2 32.6 73.3 35.2 83.3 38.9 -6.3 21.3 -6.9 19.6 -147.6 -54.8 -119.3 -43.2 -94.4 -32.9 -71.4 -23.2 -51.4 -14.6 -20.4 -4.9 -18 -3.4 -15.3 -2 -13.7 -.7 -12.4 .6 -12.2 1.9 13.3 -22.2 12.1 -23.9 10.5 -24.7 9.9 -28 9 -30.4 7.7 -31.8 7.2 -35.6 6.3 -38.6z" fill="#4dffb2"/>
<path d="M584.8 125.4l3.6 19.6 5 17.6 6.5 16 8.4 15.4 10.6 15.1 12.7 14.7 15.3 14.9 18.3 15.6 28.8 21.4 35.4 23.2 41.7 25 48.9 27.1 56 29.3 65.2 32.5 73.3 35.2 82.3 38.4 -5.6 19.2 -6.5 18.9 -147.5 -54.8 -118.8 -43.1 -94.9 -33.1 -70.8 -23.1 -51.7 -14.8 -20.8 -5 -17.8 -3.4 -15 -2 -13.5 -.7 -12.3 .6 -12.1 1.8 13 -22.3 11.6 -23.3 10.9 -26.3 9.3 -26.8 8.4 -29 7.6 -31.5 6.9 -34.5 6.3 -38.3z" fill="#54ffab"/>
<path d="M584.8 125.4l3.6 19.9 5.1 17.7 6.6 16 8.5 15.5 10.7 15 13.1 15.1 15.5 15 18.5 15.6 29.4 21.7 34.6 22.7 41.8 24.8 48.6 27 56.2 29.4 64.4 32.1 73.1 35.1 82.3 38.4 -5.3 18.1 -5.8 17.2 -148.9 -55.4 -118.2 -42.9 -92.3 -32.2 -72.3 -23.7 -52.1 -15 -20.2 -4.9 -17.8 -3.4 -15 -2 -13.3 -.7 -12.2 .5 -11.9 1.8 12.4 -21.7 11.4 -23.4 10.3 -25.1 9.2 -26.9 8.4 -29.2 7.5 -31.6 6.8 -34.4 6 -36.6z" fill="#5bffa4"/>
<path d="M584.8 125.4l3.6 19.9 5.1 17.7 6.7 16.4 8.7 15.5 11.1 15.6 13.4 15.1 15.8 15.2 19.1 15.9 29.5 21.6 35.4 23 41.6 24.7 48.3 26.6 56 29.2 64.1 32 72.3 34.7 81.3 37.9 -10.1 32.5 -146.3 -54.4 -120.6 -43.9 -93.8 -32.8 -70.9 -23.3 -50.8 -14.7 -20.6 -5 -17.8 -3.5 -15 -2.1 -13.5 -.8 -12.2 .5 -11.8 1.8 11.8 -21.1 11.3 -23.6 9.9 -24.7 8.9 -26.2 7.9 -27.6 7.5 -31.6 6.8 -34.4 6 -36.6z" fill="#62ff9d"/>
<path d="M584.8 125.4l3.7 20.3 5.2 18 6.9 16.4 8.8 15.6 11.4 15.7 13.6 15.2 16.6 15.8 19.3 15.9 29.6 21.4 35.6 23 41.1 24.3 48.5 26.7 55.4 28.8 63.7 31.8 72.3 34.7 80.3 37.4 -9.1 29.7 -150.5 -56 -117.4 -42.7 -92.6 -32.5 -71 -23.3 -51 -14.8 -20.7 -5.1 -17.5 -3.5 -15.1 -2 -13.1 -.8 -12 .4 -11.6 1.7 11.7 -21.3 10.8 -23 9.7 -24.7 8.9 -26.5 7.8 -27.9 7 -30 6.4 -32.6 6 -36.6z" fill="#69ff96"/>
<path d="M584.8 125.4l3.7 20.3 5.2 18 7.1 16.8 8.9 15.7 11.5 15.7 13.7 15.3 16.9 15.9 19.5 16 29.6 21.3 35.2 22.7 41.1 24.2 48.1 26.5 55.8 29 63.1 31.5 72.3 34.7 80.3 37.4 -8.2 27 -146.2 -54.5 -120.9 -44.1 -93.3 -32.7 -71.2 -23.5 -51 -14.9 -20.1 -4.9 -17.5 -3.5 -14.7 -2.1 -13.1 -.8 -11.9 .4 -11.6 1.7 11.4 -21.3 10.3 -22.7 9.4 -24.2 8.5 -25.6 7.8 -28.3 7 -30.2 6.4 -32.7 5.6 -34.6z" fill="#71ff8e"/>
<path d="M584.8 125.4l3.8 20.6 5.4 18.3 7.1 16.8 9.1 15.9 11.7 15.8 14 15.4 17.1 15.9 20.4 16.5 29.5 21.1 35.6 22.9 41.8 24.5 47.3 25.9 55.5 28.9 63.2 31.4 71.3 34.2 79.2 36.9 -7.2 24.2 -150.4 -56 -117.3 -42.8 -92.5 -32.5 -70.8 -23.4 -51.3 -15 -20.5 -5.1 -17 -3.4 -14.9 -2.2 -12.8 -.8 -11.8 .4 -11.5 1.6 11.2 -21.4 10 -22.3 8.8 -22.8 8.4 -26.1 7.7 -27.9 6.6 -28.7 6.4 -32.7 5.6 -34.6z" fill="#78ff87"/>
<path d="M584.8 125.4l3.8 20.6 5.4 18.4 7.2 16.9 9.3 16.2 12 16 14.5 15.8 17.5 16.1 20.9 16.8 29.7 21 35.4 22.5 40.8 24 47.9 26.2 55 28.5 63.1 31.4 70.3 33.7 79.2 36.9 -6.3 21.5 -146.1 -54.5 -120.6 -44.1 -93.3 -32.8 -70.7 -23.4 -50.8 -15 -20.4 -5.1 -17.4 -3.6 -14.6 -2.1 -13 -.9 -11.7 .3 -11.4 1.6 10.5 -20.4 10.1 -22.9 8.7 -23.1 7.9 -24.7 7.2 -26.5 7 -30.3 6 -30.9 5.6 -34.6z" fill="#7fff80"/>
<path d="M584.8 125.4l3.9 21 5.4 18.4 7.3 16.9 9.4 16.2 11.9 15.9 15 16.2 17.5 16 21.3 17 29.7 21 35.4 22.4 40.7 23.8 47.9 26.2 55 28.5 62.1 30.9 70.3 33.7 79.2 36.9 -5.5 18.8 -150.4 -56.2 -117.4 -42.9 -91.9 -32.4 -71.2 -23.6 -50.8 -15 -20.2 -5.1 -17.3 -3.5 -14.4 -2.1 -12.8 -.9 -11.5 .3 -11.2 1.5 10 -20 9.5 -21.7 8.6 -23.2 7.9 -24.8 7.2 -26.6 6.7 -29.4 5.8 -30.1 5.6 -34.6z" fill="#86ff79"/>
<path d="M584.8 125.4l3.9 21 5.6 18.8 7.5 17.3 9.6 16.3 12.1 15.9 15.3 16.3 18.3 16.6 21.4 16.9 29.5 20.7 35.5 22.4 40.9 23.8 47.8 26.1 55 28.4 62.1 30.9 69.3 33.1 78.2 36.5 -4.6 16.1 -148.8 -55.6 -117.5 -43 -93.4 -33 -70.5 -23.5 -51.1 -15.1 -19.8 -5 -17.3 -3.6 -14.7 -2.3 -12.8 -.9 -11.5 .3 -11 1.5 9.7 -19.6 9.3 -22 8.5 -23.3 7.8 -25 6.8 -25.6 6.4 -28.3 5.9 -31.1 5.3 -32.5z" fill="#8dff72"/>
<path d="M584.8 125.4l4 21.3 5.6 18.9 7.6 17.3 9.7 16.3 12.6 16.5 15.4 16.2 18.4 16.6 22.4 17.5 29.5 20.5 35.7 22.4 40.7 23.6 47.9 26.1 54.6 28.2 61.5 30.5 69.2 33.1 77.2 36 -3.8 13.4 -147.4 -55.2 -119.8 -43.8 -92.4 -32.7 -71 -23.7 -50.5 -15 -19.6 -5 -17.5 -3.7 -14.2 -2.1 -12.7 -1 -11.5 .2 -11 1.5 9.7 -20.3 8.8 -21.1 7.9 -22 7.8 -25.1 6.6 -25.3 6.5 -28.9 5.5 -29.2 5.3 -32.5z" fill="#94ff6b"/>
<path d="M584.8 125.4l4.1 21.7 5.7 18.8 7.6 17.4 10.1 16.8 12.9 16.5 15.6 16.4 19.3 17.2 22.4 17.3 29.7 20.4 35.5 22.2 40.7 23.6 47.9 25.9 54 27.9 61.2 30.3 69.1 33.1 76.2 35.5 -3 10.7 -148.9 -55.8 -117.2 -42.9 -93.2 -33 -70.4 -23.6 -50.9 -15.2 -20.2 -5.1 -16.7 -3.6 -14.6 -2.2 -12.7 -1 -11.3 .2 -10.8 1.4 9.6 -20.3 8.5 -21 7.9 -22.2 7.1 -23.7 6.6 -25.3 6.1 -27.2 5.5 -29.2 5.3 -32.5z" fill="#9bff64"/>
<path d="M584.8 125.4l4.1 21.7 5.8 19.2 7.9 17.8 10.3 16.9 13.1 16.6 15.9 16.5 19.3 16.9 23.4 18 30 20.5 35.2 21.8 40.7 23.5 47.8 25.9 53.5 27.6 60.6 29.9 68.2 32.7 76.2 35.5 -2.2 8 -145.4 -54.4 -119.3 -43.9 -93.3 -33.1 -71.1 -23.8 -50.7 -15.2 -20.2 -5.2 -17.1 -3.7 -14.4 -2.3 -12.7 -1 -11.3 .2 -10.7 1.3 8.8 -18.9 8.4 -20.8 7.7 -22.3 7.2 -23.8 6.6 -25.4 6 -27.3 5.5 -29.4 4.9 -30.5z" fill="#a2ff5d"/>
<path d="M584.8 125.4l4.1 22 5.9 19.3 8.1 17.8 10.3 16.9 13.3 16.8 16.6 17 20.1 17.4 23.4 17.8 25.6 17.5 29.8 18.8 34.2 20.1 37.7 20.9 57 30 66.2 33.1 75.4 36.3 84.3 39.3 -1.5 5.3 -146.1 -54.8 -121 -44.4 -92.9 -33 -69.9 -23.4 -50.1 -15.1 -19.8 -5.1 -16.9 -3.7 -14.2 -2.2 -12.5 -1.1 -11.3 .1 -10.8 1.4 9 -19.9 7.8 -19.8 7.2 -20.9 7.2 -23.9 6.5 -25.6 5.6 -25.7 5.5 -29.2 4.9 -30.5z" fill="#aaff55"/>
<path d="M584.8 125.4l4.1 22 6.1 19.7 8.1 17.9 10.7 17.3 13.8 17 16.6 17 20.6 17.7 23.9 17.9 27.4 18.6 32.6 20.2 37.2 21.5 42.3 23.1 55.1 28.7 63 31.3 71.3 34.2 79.2 36.9 -.7 2.6 -149.3 -55.9 -118 -43.4 -91.6 -32.6 -70.7 -23.7 -50.5 -15.3 -19.7 -5.1 -16.9 -3.7 -14.1 -2.2 -12.4 -1.1 -11.1 .1 -10.6 1.4 8.2 -18.4 8 -20.6 7.2 -21.2 6.8 -23.1 6.1 -23.9 5.9 -27.4 5.2 -27.5 4.9 -30.5z" fill="#b1ff4e"/>
<path d="M584.8 125.4l4.2 22.4 6.1 19.6 8.2 17.9 10.9 17.4 13.5 16.9 17.2 17.3 20.7 17.7 25.1 18.7 30.3 20.3 35 21.4 40.6 23.2 46.8 25.2 53 27.2 59 29.1 67.2 32.1 73.8 34.4 -148.3 -55.6 -117 -43 -92.9 -33.2 -69.8 -23.5 -50.5 -15.3 -20.1 -5.3 -16.9 -3.7 -14.5 -2.4 -12.3 -1 -11.1 .1 -10.4 1.2 8.5 -19.5 7.7 -20.1 7 -21.4 6.5 -22.6 6 -24.2 5.5 -25.7 5.1 -27.6 4.6 -28.5z" fill="#b8ff47"/>
<path d="M584.8 125.4l4.1 21.7 5.8 19.2 7.9 17.8 10.3 16.9 13.1 16.6 15.9 16.5 19.8 17.4 23.2 17.7 28.5 19.5 33.1 20.7 37.9 22 43.2 23.6 49.4 25.8 55 27.5 62.1 30 68.1 32.1 -136.5 -51.1 -110.7 -40.6 -86.8 -30.7 -66 -22.1 -47.4 -14.2 -34.7 -8.3 -13.4 -2.1 -11.8 -1 -10.8 .1 -10.2 1.2 8.4 -19.4 7.2 -19.4 6.8 -20.8 6.4 -22.8 6 -24.2 5.1 -24 5.1 -27.6 4.6 -28.5z" fill="#bfff40"/>
<path d="M584.8 125.4l4 21.3 5.6 18.9 7.6 17.3 9.7 16.3 12.2 16 15.2 16.2 18.2 16.4 22 17.3 26.7 18.7 30.5 19.5 35.7 21.1 39.9 22.3 45.6 24.1 51.8 26.3 57.1 28 63.6 30.3 -127 -47.3 -104.4 -38.2 -80.9 -28.5 -60.5 -20 -44.4 -13.2 -33.3 -7.8 -13 -2 -11.3 -1 -10.3 .2 -9.8 1.1 8 -19.3 7 -19 6.5 -20 6.4 -22.9 5.8 -23.8 5.1 -24.2 9.4 -54.6z" fill="#c6ff39"/>
<path d="M584.8 125.4l3.8 20.6 5.4 18.3 7.1 16.8 9.2 15.9 11.6 15.8 14.5 15.9 17.4 16.1 20.1 16.2 24.9 18 28.5 18.6 32.6 19.8 37.7 21.4 42.8 23 47.8 24.7 53.2 26.4 58.9 28.4 -118.3 -44 -95.2 -34.7 -75.3 -26.4 -58.8 -19.3 -42 -12.4 -31.4 -7.2 -12.3 -1.8 -11.1 -.9 -9.8 .1 -9.6 1.1 7.9 -19 6.9 -19.4 6.4 -20.2 5.9 -21.4 5.5 -22.6 5.1 -24.1 9.3 -54.2z" fill="#cdff32"/>
<path d="M584.8 125.4l3.6 19.9 5.2 18 6.8 16.4 8.8 15.7 11.2 15.5 13.5 15.2 16.1 15.4 19.3 16 23.4 17.3 26.5 17.7 30.6 18.8 34.6 20.1 39.7 21.7 43.8 23 49.9 25.1 54.6 26.7 -110.8 -41 -88.8 -32.2 -70.1 -24.4 -53.7 -17.6 -39.9 -11.6 -30.1 -6.8 -12 -1.8 -10.4 -.7 -9.5 .1 -9.3 1.1 7.2 -18 6.8 -19.1 6.4 -20.3 5.9 -21.5 10.5 -47 8.9 -52.2z" fill="#d4ff2b"/>
<path d="M584.8 125.4l3.6 19.6 4.8 17.2 6.5 16 8.4 15.4 10.3 14.8 12.6 14.7 15.1 14.8 18.1 15.6 21.7 16.4 25.1 17.2 28.6 18.1 32.6 19.2 36.6 20.5 40.7 21.7 45.9 23.5 51 25.2 -103 -38 -82.2 -29.7 -65.6 -22.7 -51 -16.5 -37.8 -10.8 -28.4 -6.3 -11.4 -1.7 -10 -.7 -9.2 .2 -8.8 1 7.1 -17.9 6.5 -18.5 6.1 -20 5.8 -21.3 10.1 -45.3 8.9 -52.2z" fill="#dbff24"/>
<path d="M584.8 125.4l3.5 19.2 4.7 16.9 6.1 15.5 8 14.9 10 14.9 12 14.3 14.6 14.6 16.4 14.5 20.4 15.8 23.4 16.4 26.5 17.2 30.5 18.3 34.7 19.7 37.7 20.4 88.8 45.4 -94.9 -35 -76.7 -27.5 -61.9 -21.3 -48 -15.4 -35.6 -10.1 -26.9 -5.8 -10.8 -1.5 -9.8 -.7 -8.9 .2 -8.4 1 7 -18 6.1 -18 5.8 -18.9 5.8 -21.5 10.1 -45.7 8.5 -50.3z" fill="#e3ff1c"/>
<path d="M584.8 125.4l3.3 18.5 4.5 16.5 6 15.4 7.5 14.5 9.2 14 11.2 13.9 13.7 14.3 15.7 14.1 18.9 15.1 22 15.9 24.4 16.2 28.4 17.5 31.7 18.4 35.1 19.3 83 43.1 -88.5 -32.5 -72.2 -25.8 -57.3 -19.5 -44.8 -14.3 -33.3 -9.3 -25.5 -5.4 -19.7 -2 -8.6 .2 -8.2 .9 6.9 -18.1 6.1 -18.1 11.1 -39.2 9.6 -43.8 8.5 -50.3z" fill="#eaff15"/>
<path d="M584.8 125.4l3.2 18.2 4.4 16.1 5.6 14.8 7.1 14.1 8.7 13.7 10.7 13.6 12.5 13.4 15 13.9 17.7 14.6 20.2 15 23.2 15.7 25.9 16.3 30.1 17.9 32.6 18.3 76.5 40.3 -80.4 -29.3 -68.4 -24.3 -53.3 -18.1 -42.4 -13.4 -31.7 -8.7 -24.3 -5.1 -19.2 -1.9 -8.2 .2 -7.8 .9 12.3 -34.9 11 -39.4 9.4 -43.1 8.3 -49.3z" fill="#f1ff0e"/>
<path d="M584.8 125.4l3.1 17.5 4.1 15.7 5.4 14.5 6.8 13.9 8.4 13.5 10.1 13.3 12 13.2 13.9 13.2 16.6 14.1 18.8 14.2 21.1 14.7 24.3 15.7 27.5 16.7 30.5 17.5 71 38.1 -138.1 -49.6 -50.4 -17 -39.3 -12.2 -30 -8.2 -23.3 -4.7 -18.1 -1.8 -8 .2 -7.6 .9 12.1 -34.8 10.5 -38.5 9.1 -42.2 8.2 -48.4z" fill="#f8ff07"/>
<path d="M584.8 125.4l3 17.1 4 15.3 5.1 14.2 6.4 13.3 8 13.2 9.5 12.9 11.1 12.7 12.9 12.7 15.3 13.4 17.4 13.5 20.3 14.6 22.4 14.8 25.5 15.8 28.5 16.7 65.7 35.9 -129.9 -46.3 -46.4 -15.6 -36.8 -11.3 -28.4 -7.5 -21.7 -4.3 -17.3 -1.5 -14.7 1 11.6 -34 10.3 -38.2 9.1 -42.5 7.8 -46.4z" fill="#ffff00"/>
<path d="M584.8 125.4l2.9 16.4 3.8 14.9 4.8 13.8 6.1 13.2 7.3 12.5 8.9 12.4 10.5 12.5 12.2 12.4 14.6 13.1 16.3 13.1 18.7 13.8 21.2 14.3 23.4 14.9 26.5 15.9 60.6 33.8 -120.4 -42.8 -43.9 -14.6 -34.4 -10.4 -26.4 -6.9 -20.9 -4.1 -16.6 -1.4 -14.3 1 11.5 -34.4 9.9 -36.7 8.6 -40.8 7.8 -46.4z" fill="#fff800"/>
<path d="M584.8 125.4l2.8 16.1 3.7 14.5 4.5 13.3 5.8 12.8 7 12.4 8.2 11.8 9.7 11.9 11.5 12.1 13.8 12.8 15.4 12.7 17.4 13.2 19.3 13.4 21.4 14 24.5 14.9 56.7 32.3 -110.6 -39 -40.6 -13.4 -33.4 -10.1 -25.1 -6.5 -20.1 -3.8 -16.1 -1.4 -13.8 1 10.9 -33.2 9.8 -36.9 8.6 -40.9 7.4 -44.5z" fill="#fff100"/>
<path d="M584.8 125.4l2.6 15.4 3.5 14.1 4.5 13.3 5.4 12.3 6.8 12.3 7.7 11.5 9.4 11.8 10.7 11.6 12.5 11.9 14.3 12.2 16.3 12.7 18.3 13.1 20.4 13.5 22.4 14.1 51.9 30.2 -104.4 -36.7 -37.9 -12.3 -30.1 -9 -23.9 -6 -18.7 -3.5 -15.3 -1.2 -13.4 .9 10.8 -33.6 9.3 -35.5 8.3 -39.7 7.3 -43.9z" fill="#ffea00"/>
<path d="M584.8 125.4l2.6 15 3.3 13.8 4.3 12.9 5.1 11.9 6.2 11.7 7.5 11.6 8.7 11.2 9.9 11.1 11.8 11.7 13.1 11.5 15.1 12.1 17.3 12.7 39.7 26.3 48 28.5 -97 -33.8 -35.2 -11.3 -28.9 -8.5 -22.3 -5.6 -17.6 -3.1 -14.8 -1.2 -12.8 1 10.3 -32.5 9.2 -35.7 8.1 -39.3 7.1 -42.5z" fill="#ffe200"/>
<path d="M584.8 125.4l2.5 14.7 3.2 13.4 4.1 12.4 4.9 11.9 5.8 11.2 7 11.1 8.1 10.9 9.6 11.1 10.8 10.9 12.3 11.2 14.1 11.6 15.8 12 36.7 25 44.6 27.1 -89.1 -30.9 -33.7 -10.7 -26.9 -7.8 -21.4 -5.3 -17 -3 -14 -1 -12.5 .9 10.1 -32 8.9 -35.1 7.7 -37.6 7.1 -42.5z" fill="#ffdb00"/>
<path d="M584.8 125.4l2.4 14.3 3.1 13.1 3.8 12 4.7 11.4 5.6 11.2 6.4 10.5 7.8 10.7 8.7 10.5 10.2 10.7 11.4 10.8 13.3 11.2 14.3 11.2 34.5 24.1 41.1 25.6 -83.4 -28.7 -30.9 -9.7 -25.2 -7.2 -20.1 -4.9 -16.4 -2.8 -13.5 -.9 -11.9 .8 9.8 -31.8 8.5 -33.8 7.8 -38.3 6.7 -40.5z" fill="#ffd400"/>
<path d="M584.8 125.4l2.4 14 2.9 12.7 3.6 11.6 4.5 11.4 5.3 10.7 6.2 10.4 7.1 10.1 8.4 10.3 9.5 10.4 10.7 10.4 11.9 10.4 14 11.3 31.5 22.6 37.8 24.1 -77.4 -26.4 -29.4 -9.2 -23.3 -6.5 -18.9 -4.5 -15.6 -2.6 -12.9 -.8 -11.5 .8 9.4 -30.7 8.5 -34.5 7.3 -36 6.7 -40.5z" fill="#ffcd00"/>
<path d="M584.8 125.4l2.2 13.3 2.9 12.4 3.5 11.5 4.2 10.9 4.8 10.2 5.9 10.3 6.8 10.1 7.6 9.7 8.9 10 10.2 10.2 23.8 20.6 29.2 21.6 35.1 23.1 -71.6 -24.3 -27.1 -8.4 -22.8 -6.3 -17.7 -4.1 -14.8 -2.4 -12.3 -.7 -11.1 .8 8.9 -29.7 8.1 -32.8 7.3 -36 6.7 -40.5z" fill="#ffc600"/>
<path d="M584.8 125.4l2.2 13 2.7 11.9 3.3 11.2 3.9 10.5 4.7 10.1 5.5 9.8 6.2 9.6 7.1 9.5 8.2 9.6 9.4 9.7 22.2 19.9 27.4 21 32.4 21.8 -66.8 -22.5 -25.5 -7.8 -20.8 -5.6 -16.9 -3.8 -14 -2.2 -11.8 -.7 -10.8 .7 8.9 -30.2 7.7 -31.8 7.2 -35.6 6.3 -38.6z" fill="#ffbf00"/>
<path d="M584.8 125.4l4.7 24.2 3.1 10.8 3.7 10.1 4.3 9.6 5.2 9.8 5.9 9.3 6.9 9.4 16.3 18.6 20.3 18.8 25.3 20 30.2 20.9 -62.4 -20.7 -43.2 -12.4 -16 -3.5 -13.2 -2 -11.4 -.6 -10.2 .7 8.4 -29.2 7.6 -31.5 6.9 -34.5 6.3 -38.3z" fill="#ffb800"/>
<path d="M584.8 125.4l4.5 23.5 6.5 20.4 4.2 9.7 4.9 9.2 5.6 9.3 6.3 8.8 15.1 17.8 19.2 18.4 23.3 18.9 27.6 19.7 -57.5 -18.9 -40.9 -11.6 -15.2 -3.2 -12.6 -1.9 -10.8 -.5 -9.9 .7 8.1 -28.2 7.5 -31.6 6.8 -34.4 6 -36.6z" fill="#ffb100"/>
<path d="M584.8 125.4l4.2 22.4 6.3 20 8.4 18.4 11.1 17.4 14.3 17.5 17.6 17.4 21.6 18.2 25.6 18.9 -53.6 -17.5 -38.2 -10.6 -14.4 -3 -12 -1.7 -10.3 -.5 -9.4 .7 7.9 -28.1 7.2 -30.8 6.4 -32.6 6 -36.6z" fill="#ffa900"/>
<path d="M584.8 125.4l4.1 22 5.9 19.3 8.1 17.8 10.3 16.9 13.2 16.7 16.4 16.8 19.7 17.2 23.8 18.1 -50 -16.1 -35.7 -9.8 -13.3 -2.7 -11.4 -1.6 -9.9 -.4 -9.2 .7 7.7 -27.9 7 -30.2 6.4 -32.7 5.6 -34.6z" fill="#ffa200"/>
<path d="M584.8 125.4l3.9 21 5.6 18.8 7.5 17.3 9.6 16.3 12.5 16.4 15.2 16.2 18.2 16.4 21.9 17.2 -46 -14.7 -33.7 -9 -12.6 -2.5 -11.1 -1.5 -9.5 -.4 -8.7 .7 7.3 -26.9 7 -30.3 6 -30.9 5.6 -34.6z" fill="#ff9b00"/>
<path d="M584.8 125.4l3.8 20.6 5.3 18.1 7.1 16.8 9 15.7 11.5 15.7 14.2 15.7 16.8 15.7 20.1 16.4 -42.8 -13.5 -31.4 -8.3 -12.1 -2.4 -10.5 -1.3 -9 -.3 -8.4 .6 7 -25.9 6.7 -29.4 5.8 -30.1 5.6 -34.6z" fill="#ff9400"/>
<path d="M584.8 125.4l3.6 19.9 5.1 17.7 6.6 16 8.5 15.5 10.7 15 13.1 15.1 15.5 15 18.5 15.6 -40.2 -12.5 -29.3 -7.5 -21.1 -3.3 -8.6 -.3 -8 .6 6.7 -25.4 6.4 -28.3 5.9 -31.1 5.3 -32.5z" fill="#ff8d00"/>
<path d="M584.8 125.4l3.5 19.2 4.7 16.9 6.3 15.9 7.9 14.8 9.9 14.6 12 14.3 14.6 14.6 17 14.9 -37.2 -11.4 -27.4 -6.9 -20.2 -3.1 -8.3 -.3 -7.7 .6 6.7 -25.7 6.1 -27.2 5.5 -29.2 5.3 -32.5z" fill="#ff8600"/>
<path d="M584.8 125.4l3.3 18.5 4.5 16.5 5.8 15 7.4 14.5 9.3 14.2 11.3 14 13.4 13.9 15.5 14.1 -34.5 -10.4 -25.9 -6.4 -19 -2.8 -7.9 -.2 -7.3 .5 6.4 -24.7 6 -27.3 5.5 -29.4 4.9 -30.5z" fill="#ff7f00"/>
<path d="M584.8 125.4l3.2 17.8 4.2 15.7 5.5 15 6.9 13.9 8.6 13.6 10.3 13.3 12.4 13.5 14.4 13.6 -32 -9.6 -24.2 -5.8 -18.1 -2.6 -7.5 -.2 -7.1 .6 6.5 -25.7 5.5 -25.6 5.2 -27.5 4.9 -30.5z" fill="#ff7800"/>
<path d="M584.8 125.4l3 17.1 4 15.3 5.2 14.4 6.5 13.6 7.9 13 9.8 13.1 11.2 12.7 13.2 12.9 -30 -8.8 -22.5 -5.2 -17.1 -2.4 -13.9 .4 6.2 -24.8 5.5 -25.7 5.1 -27.6 4.6 -28.5z" fill="#ff7000"/>
<path d="M584.8 125.4l2.9 16.4 3.8 14.9 4.8 13.8 6.1 13.2 7.3 12.5 8.9 12.4 10.5 12.5 12.1 12.3 -27.8 -8 -21.1 -4.8 -16.2 -2.1 -13.3 .4 5.9 -23.9 5.1 -24 5.1 -27.6 4.6 -28.5z" fill="#ff6900"/>
<path d="M584.8 125.4l2.7 15.7 3.7 14.6 4.5 13.2 5.7 12.8 6.9 12.3 8.2 11.9 9.5 11.7 11.1 11.8 -25.3 -7.1 -19.9 -4.5 -15.6 -2 -12.8 .4 5.6 -23 5.1 -24.1 9.3 -54.2z" fill="#ff6200"/>
<path d="M584.8 125.4l2.6 15.4 3.4 13.8 4.3 12.8 5.3 12.3 6.4 11.8 7.5 11.4 8.8 11.3 10.2 11.4 -23.9 -6.7 -18.4 -4 -14.6 -1.7 -12.2 .4 10.4 -46.5 8.9 -52.2z" fill="#ff5b00"/>
<path d="M584.8 125.4l2.5 14.7 3.2 13.4 4.1 12.4 4.9 11.9 5.8 11.2 7 11.1 8.1 10.9 9.4 10.8 -22.1 -6 -17.4 -3.7 -13.9 -1.6 -11.5 .4 10.1 -45.7 8.5 -50.3z" fill="#ff5400"/>
<path d="M584.8 125.4l2.4 14 3 13 3.8 12 4.6 11.4 5.5 11.1 6.4 10.6 7.3 10.2 8.6 10.4 -20.2 -5.4 -16.4 -3.4 -13.2 -1.4 -11.1 .4 9.7 -44.1 8.3 -49.3z" fill="#ff4d00"/>
<path d="M584.8 125.4l2.3 13.6 2.8 12.3 3.6 11.7 4.2 10.9 4.9 10.2 6 10.4 6.9 10 7.8 10 -18.9 -4.9 -15.4 -3.1 -12.3 -1.2 -10.5 .3 9.1 -42.3 8.2 -48.4z" fill="#ff4600"/>
<path d="M584.8 125.4l2.2 13 2.7 11.9 3.3 11.2 3.9 10.5 4.7 10.1 5.5 9.8 6.2 9.6 7.1 9.5 -17.7 -4.5 -14 -2.7 -11.8 -1.2 -10.1 .4 8.9 -41.7 7.8 -46.4z" fill="#ff3e00"/>
<path d="M584.8 125.4l4.6 23.8 3.1 10.8 3.6 10.1 4.3 9.6 4.9 9.3 5.8 9.3 6.6 9.2 -16.3 -4 -13.4 -2.5 -11 -1 -9.6 .4 8.7 -41 7.4 -44.5z" fill="#ff3700"/>
<path d="M584.8 125.4l4.3 22.7 6.3 20.1 8.6 18.4 11.2 17.6 -15 -3.7 -12.6 -2.2 -10.4 -.9 -9.1 .4 8.1 -39 7.3 -43.9z" fill="#ff3000"/>
<path d="M584.8 125.4l4.1 21.7 5.8 19.2 7.9 17.8 10.2 16.7 -14 -3.2 -11.7 -2 -9.8 -.8 -8.6 .3 7.7 -37.7 7.1 -42.5z" fill="#ff2900"/>
<path d="M584.8 125.4l3.8 20.6 5.4 18.4 7.2 16.9 9.4 16.3 -13.2 -3 -10.7 -1.7 -9.2 -.7 -8.2 .3 7.5 -37.1 6.7 -40.5z" fill="#ff2200"/>
<path d="M584.8 125.4l3.6 19.9 5.1 17.7 6.6 16 8.5 15.4 -22.1 -4.2 -8.8 -.6 -7.9 .3 7.4 -36.4 6.3 -38.6z" fill="#ff1b00"/>
<path d="M584.8 125.4l3.4 18.9 4.7 16.8 6 15.5 7.8 14.7 -20.8 -3.8 -8 -.5 -7.5 .3 6.8 -34.1 6.3 -38.3z" fill="#ff1400"/>
<path d="M584.8 125.4l3.2 17.8 4.3 16.1 5.6 15 7 13.9 -19.1 -3.4 -7.7 -.4 -7.1 .3 6.5 -33.2 6 -36.6z" fill="#ff0d00"/>
<path d="M584.8 125.4l2.9 16.8 4 15.3 5.1 14.1 6.4 13.6 -17.8 -3 -13.9 -.1 6.4 -32.6 5.6 -34.6z" fill="#ff0500"/>
<path d="M584.8 125.4l2.8 16.1 3.7 14.5 4.5 13.3 5.8 12.9 -16.5 -2.7 -13 0 5.8 -30 5.6 -34.6z" fill="#fd0000"/>
<path d="M584.8 125.4l2.6 15 3.3 13.8 4.3 12.9 5.2 12.1 -15.2 -2.3 -12.4 0 5.6 -29.5 5.3 -32.5z" fill="#f60000"/>
<path d="M584.8 125.4l2.4 14.3 3.1 13.1 3.8 12 4.7 11.5 -14.2 -2 -11.4 0 5.4 -28.9 4.9 -30.5z" fill="#ef0000"/>
<path d="M584.8 125.4l2.2 13.3 2.9 12.4 3.5 11.5 4.1 10.8 -12.9 -1.7 -10.9 0 5.2 -28.3 4.6 -28.5z" fill="#e80000"/>
<path d="M584.8 125.4l4.7 24.2 3.1 10.8 3.7 10.2 -12.1 -1.6 -10 .2 9.3 -54.3z" fill="#e10000"/>
<path d="M584.8 125.4l4.2 22.4 6.2 19.9 -11 -1.2 -9.5 .1 8.8 -51.7z" fill="#da0000"/>
<path d="M584.8 125.4l3.9 21 5.5 18.6 -10.3 -1.1 -8.7 .1 8.3 -49.1z" fill="#d30000"/>
<path d="M584.8 125.4l3.6 19.6 4.8 17.2 -9.4 -.9 -8.1 .1 7.8 -46.5z" fill="#cb0000"/>
<path d="M584.8 125.4l3.2 17.8 4.3 16.3 -8.5 -.8 -7.6 .2 7.3 -44z" fill="#c40000"/>
<path d="M584.8 125.4l2.9 16.4 3.8 14.9 -8 -.6 -6.9 .2 6.9 -41.4z" fill="#bd0000"/>
<path d="M584.8 125.4l2.6 15 3.3 13.7 -13.6 -.4 6.4 -38.8z" fill="#b60000"/>
<path d="M584.8 125.4l2.3 13.6 2.9 12.4 -12.4 -.2 5.9 -36.3z" fill="#af0000"/>
<path d="M584.8 125.4l4.5 23.3 -11.3 -.1 5.5 -33.7z" fill="#a80000"/>
<path d="M584.8 125.4l3.8 20.7 -10.1 0 5 -31.2z" fill="#a10000"/>
<path d="M584.8 125.4l3.2 18.1 -9.1 0 4.6 -28.6z" fill="#9a0000"/>
<path d="M584.8 125.4l2.7 15.5 -8.2 .1 4.2 -26.1z" fill="#920000"/>
<path d="M584.8 125.4l2.1 12.9 -7.1 .1 3.7 -23.5z" fill="#8b0000"/>
<path d="M584.8 125.4l1.7 10.3 -6.3 .2 3.3 -21z" fill="#840000"/>
<path d="M584.8 125.4l1.2 7.8 -5.4 .1 2.9 -18.4z" fill="#800000"/>
</g>
<path d="M987.4 648.8l-149.8 -51.4 -63.4 -20.9 -57.3 -18.3 -52.7 -16.1 -47 -13.6 -41.8 -11.2 -36.9 -8.9 -32 -6.7 -28.7 -4.9 -26.2 -3.1 -23.5 -1.5 -21.9 .2 -21 1.8 -21 3.4 -22.1 5.4M1014.4 625.1l-145.8 -51.2 -122.5 -41.1 -50.6 -16.1 -46.5 -14.2 -40.7 -11.6 -35.2 -9.2 -31.1 -7.3 -27 -5.3 -24.7 -3.8 -22.4 -2.1 -20 -.5 -18.8 .9 -18.3 2.5 -18.9 4.2M1033.6 604.4l-147.3 -52.6 -119.6 -41 -94.4 -30.4 -40.2 -12 -34.5 -9.6 -30.4 -7.7 -26.4 -5.7 -23.4 -4.1 -20.6 -2.6 -18.8 -1 -17.1 .3 -16.7 1.9 -16.7 3.3M1048.1 585.6l-143.9 -51.9 -120.2 -42 -94.1 -31.1 -38.7 -12 -34.8 -10.2 -29.4 -7.8 -25.5 -6 -22.7 -4.5 -20.3 -3 -17.4 -1.4 -16.3 -.1 -15.2 1.2 -15.4 2.7M1059.3 568.1l-144.7 -52.8 -116.3 -41.1 -93.6 -31.6 -73 -22.7 -28.6 -8 -26 -6.5 -22.2 -4.8 -18.9 -3.1 -17.3 -1.9 -15.2 -.4 -14.3 .8 -14.2 2.3M1068.3 551.5l-145.3 -53.4 -117.3 -42 -92 -31.4 -71.4 -22.7 -28.9 -8.3 -24.7 -6.5 -21.5 -4.9 -18.4 -3.3 -16.4 -2 -14.4 -.7 -13.4 .5 -13 1.8M1075.7 535.5l-143.8 -53.2 -114.7 -41.4 -93.1 -32.3 -72.3 -23.4 -28.1 -8.4 -24.2 -6.5 -21.3 -5.2 -17.9 -3.5 -15.9 -2.2 -14.1 -1 -12.8 .3 -12.3 1.5M1081.8 519.9l-143.4 -53.3 -115.3 -41.8 -91.2 -32 -71.3 -23.5 -52.5 -15.5 -20.9 -5.2 -17.7 -3.7 -15.6 -2.4 -13.4 -1.2 -12.3 .1 -11.7 1.2M1087 504.8l-142.1 -53 -115.3 -42.2 -91 -32.2 -71.4 -23.9 -52 -15.6 -20.5 -5.3 -17.4 -3.9 -15.2 -2.5 -13.1 -1.3 -11.8 -.2 -11.1 1M1091.5 489.9l-144 -53.9 -112.6 -41.4 -90.8 -32.3 -71.2 -24.1 -51.4 -15.8 -20.5 -5.5 -16.9 -3.9 -14.9 -2.7 -12.9 -1.4 -11.4 -.3 -10.6 .8M938 416.3l-98.1 -36.2 -77.9 -28.1 -64.3 -22.2 -50.1 -16.3 -37.7 -11 -28.6 -6.6 -11.5 -1.8 -10.3 -1.1 -9.3 -.1 -8.8 .6M823 357.9l-64.3 -23.1 -52.4 -18.3 -43.4 -14.5 -35.4 -10.9 -26.8 -7.2 -21.5 -4.5 -17.1 -1.9 -14.4 .4M744.8 314.1l-77.6 -26.6 -29.4 -9.3 -24.2 -6.9 -19.4 -4.8 -16.1 -2.9 -13.2 -1.3 -11.7 .4M691.6 280l-51.1 -16.6 -36.5 -10.2 -14.2 -3.1 -12.1 -1.9 -10.3 -.8 -9.3 .2M655.4 252.7l-33 -10 -25.7 -6.5 -19.2 -3.1 -8 -.5 -7.1 .2M630.8 229.9l-21.7 -5.9 -17.2 -3.9 -14 -1.8 -11.5 -.1M614.1 210.2l-14 -3.3 -11.6 -2.2 -9.9 -1 -8.7 0M602.7 192.7l-16.3 -2.9 -13.2 -.5M594.9 176.5l-10.1 -1.3 -8.7 -.2M589.7 161.3l-10.9 -.4M586.1 146.8l-4.8 0" fill="none" stroke="#000" stroke-width="1.4"/>
<path d="M947.6 677.4l-145.8 -48.5 -64 -20.3 -57.4 -17.5 -47.9 -13.9 -52.7 -14.6 -38.6 -9.7 -47 -10.3 -34.3 -6.3 -29.1 -4.1 -29.7 -2.8 -29 -.9 -26 1.1 -25.2 3 -26 5.2 -26.2 7" fill="none" stroke="#fff" stroke-width="2.8"/>
<path d="M837.7 365.7l-5.1 19 -5.7 17.9 -6.1 16.9 -6.7 15.8 -7.1 14.8 -8 14.3 -8.7 13.8 -9.5 13.1 -10.2 12.6 -11.3 12.4 -12 11.9 -13.4 11.9 -14.3 11.7 -15.9 11.9 -17.2 11.9 -18.4 11.9M497.3 371.2l4.2 9.7 6.1 9.2 8.2 9 10.8 9.3 13.7 10 17.1 10.9 20.8 11.9 24.5 13 29.8 15 35.1 16.8 86.9 39.7 111.4 48.6 139.5 59.2" fill="none" stroke="#f00" stroke-width="4.2" stroke-linejoin="round"/>
<path d="M60.5 675.3L579.0 879.2L1096.9 675.3" fill="none" stroke="#000" stroke-width="1.45"/>
<path d="M60.5 675.3L48.4 680.1M164.2 716.1L152.1 720.8M267.9 756.9L255.8 761.6M371.6 797.6L359.5 802.4M475.3 838.4L463.2 843.2M579.0 879.2L566.9 884.0M1039.4 698.0L1051.5 702.8M924.3 743.3L936.4 748.1M809.2 788.6L821.3 793.4M694.1 833.9L706.2 838.7M579.0 879.2L591.1 884.0M60.5 675.3L48.4 670.5M60.5 607.3L48.4 602.5M60.5 539.3L48.4 534.5M60.5 471.3L48.4 466.5M60.5 403.3L48.4 398.5M60.5 335.3L48.4 330.5M60.5 267.3L48.4 262.5" fill="none" stroke="#000" stroke-width="1.45"/>
<g font-family="'Liberation Sans', Arial, sans-serif" font-size="23" fill="#000"><text x="39.2" y="704.6" text-anchor="end">0</text><text x="142.9" y="745.4" text-anchor="end">0.2</text><text x="246.6" y="786.2" text-anchor="end">0.4</text><text x="350.3" y="826.9" text-anchor="end">0.6</text><text x="454.0" y="867.7" text-anchor="end">0.8</text><text x="557.7" y="908.5" text-anchor="end">1</text><text x="1057.7" y="726.4">2</text><text x="942.6" y="771.7">4</text><text x="827.5" y="817.0">6</text><text x="712.4" y="862.3">8</text><text x="597.3" y="907.6">10</text><text x="39.7" y="675.6" text-anchor="end">0</text><text x="39.7" y="607.6" text-anchor="end">2</text><text x="39.7" y="539.6" text-anchor="end">4</text><text x="39.7" y="471.6" text-anchor="end">6</text><text x="39.7" y="403.6" text-anchor="end">8</text><text x="39.7" y="335.6" text-anchor="end">10</text><text x="39.7" y="267.6" text-anchor="end">12</text><text x="60.6" y="212.8">x 10</text><text x="106.2" y="189.6" font-size="15.5">4</text><text x="1099.7" y="731.8">x 10</text><text x="1144.6" y="708.8" font-size="15.5">-4</text></g>
<g font-family="'Liberation Serif', 'Times New Roman', serif" fill="#000"><text x="7.5" y="140.2" font-size="31" font-style="italic">L</text><text x="24.5" y="146.5" font-size="25" font-style="italic" textLength="47.5" lengthAdjust="spacingAndGlyphs">max</text><text x="163.5" y="848" font-size="29" font-style="italic" text-anchor="middle">&#946;</text><path d="M138.8 861.5H190.2" stroke="#000" stroke-width="1.8"/><text x="139.5" y="891.5" font-size="29" font-style="italic">&#945;C</text><text x="176.5" y="897.5" font-size="21">0</text><text x="939.5" y="840.5" font-size="29" font-style="italic" text-anchor="middle">&#964;</text><path d="M919.6 855.2H962.3" stroke="#000" stroke-width="1.8"/><text x="920" y="885" font-size="29" font-style="italic">V</text><text x="937.5" y="891.5" font-size="25" font-style="italic">at</text><text x="452.0" y="38.3" font-size="44" font-style="italic">k</text><path d="M492.6 20.7H518.2M492.6 29.1H518.2" stroke="#000" stroke-width="2.2"/><text x="536.8" y="38.3" font-size="44" textLength="149.6" lengthAdjust="spacingAndGlyphs">0.00035</text></g>
<g transform="translate(138.1 634.2) rotate(-21.5) scale(1.80 0.80)" fill="#e8c8c8" stroke="#e8c8c8" stroke-width="0.7" stroke-linejoin="round" font-family="'Liberation Sans', Arial, sans-serif" font-weight="bold" font-size="19.0"><text x="0" y="0" textLength="115.8" lengthAdjust="spacing">Geometrical</text><text x="17.2" y="25.7" textLength="103.3" lengthAdjust="spacing">restriction</text></g><g transform="translate(137.5 633.2) rotate(-21.5) scale(1.80 0.80)" fill="#fff" stroke="#fff" stroke-width="0.7" stroke-linejoin="round" font-family="'Liberation Sans', Arial, sans-serif" font-weight="bold" font-size="19.0"><text x="0" y="0" textLength="115.8" lengthAdjust="spacing">Geometrical</text><text x="17.2" y="25.7" textLength="103.3" lengthAdjust="spacing">restriction</text></g>
<g font-family="'Liberation Serif', 'Times New Roman', serif" fill="#000"><path d="M857.3 248.4L797.6 271.2L755.7 505.4" fill="none" stroke="#000" stroke-width="1.6"/><path d="M753.5 517.7L751.1 499.5L755.7 505.4L762.1 501.5z" fill="#000"/><rect x="857.3" y="206.4" width="274.9" height="98.6" fill="#fff" stroke="#000" stroke-width="1.5"/><text x="896.6" y="245.7" font-size="31" textLength="55.7" lengthAdjust="spacingAndGlyphs">(0.5;</text><text x="966.9" y="245.7" font-size="31" textLength="115.1" lengthAdjust="spacingAndGlyphs">0.00025)</text><text x="872.9" y="286.8" font-size="31.5" font-style="italic">L</text><text x="888.9" y="293.0" font-size="25" font-style="italic" textLength="45" lengthAdjust="spacingAndGlyphs">max</text><path d="M951.2 272.2H970.1M951.2 279.2H970.1" stroke="#000" stroke-width="1.9"/><text x="981.4" y="286.8" font-size="31" textLength="79.5" lengthAdjust="spacingAndGlyphs">24437</text><text x="1071.0" y="286.8" font-size="31" font-style="italic" textLength="41.1" lengthAdjust="spacingAndGlyphs">&#956;m</text></g>
<text x="-44.5" y="91.0" font-family="'Liberation Sans', Arial, sans-serif" font-weight="bold" font-size="52">C</text>
</g>
</svg>
</body></html>
